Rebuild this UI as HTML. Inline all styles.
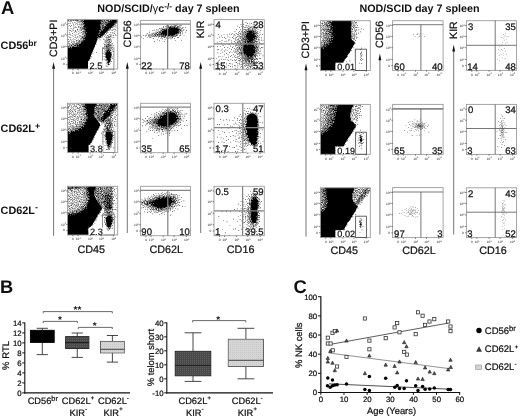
<!DOCTYPE html>
<html><head><meta charset="utf-8"><title>Figure</title>
<style>html,body{margin:0;padding:0;background:#fff;}body{width:520px;height:417px;overflow:hidden;font-family:"Liberation Sans",sans-serif;}</style></head>
<body>
<svg width="520" height="417" viewBox="0 0 520 417" text-rendering="geometricPrecision" font-family='"Liberation Sans", sans-serif' style="display:block;will-change:transform"><defs><filter id="bl" x="-5%" y="-5%" width="110%" height="110%"><feGaussianBlur stdDeviation=".5"/></filter><clipPath id="c1"><rect x="67.5" y="19.6" width="50.2" height="49.4"/></clipPath><clipPath id="c2"><rect x="67.5" y="103.3" width="50.2" height="49.1"/></clipPath><clipPath id="c3"><rect x="67.5" y="186.3" width="50.2" height="48.7"/></clipPath><clipPath id="c4"><rect x="140.6" y="20.4" width="49.8" height="48.6"/></clipPath><clipPath id="c5"><rect x="140.6" y="103.3" width="49.8" height="49.4"/></clipPath><clipPath id="c6"><rect x="140.6" y="186.3" width="49.8" height="49.4"/></clipPath><clipPath id="c7"><rect x="214" y="19.6" width="50.3" height="49.7"/></clipPath><clipPath id="c8"><rect x="214" y="103.3" width="50.3" height="49.4"/></clipPath><clipPath id="c9"><rect x="214" y="186.3" width="50.3" height="49.4"/></clipPath><clipPath id="c10"><rect x="320.4" y="20.7" width="49.9" height="49.8"/></clipPath><clipPath id="c11"><rect x="320.4" y="104.4" width="49.9" height="49.9"/></clipPath><clipPath id="c12"><rect x="320.4" y="187.8" width="49.9" height="49.7"/></clipPath><clipPath id="c13"><rect x="392.6" y="20.7" width="50.5" height="49.7"/></clipPath><clipPath id="c14"><rect x="392.6" y="104.4" width="50.5" height="50"/></clipPath><clipPath id="c15"><rect x="392.6" y="187.6" width="50.5" height="50"/></clipPath><clipPath id="c16"><rect x="466.4" y="20.7" width="50.1" height="49.7"/></clipPath><clipPath id="c17"><rect x="466.4" y="104.4" width="50.1" height="50"/></clipPath><clipPath id="c18"><rect x="466.4" y="187.8" width="50.1" height="49.8"/></clipPath><pattern id="hd" width="2" height="2" patternUnits="userSpaceOnUse"><rect width="2" height="2" fill="#4a4a4a"/><rect width="1" height="1" fill="#5e5e5e"/></pattern><pattern id="hl" width="2" height="2" patternUnits="userSpaceOnUse"><rect width="2" height="2" fill="#d6d6d6"/><rect width="1" height="1" fill="#c6c6c6"/></pattern></defs><rect width="520" height="417" fill="#fff"/><g clip-path="url(#c1)"><g filter="url(#bl)"><path fill="#000" d="M78 19h23v0.5h-23zM78 19.5h23v0.5h-23zM111 19.5h6.5v0.5h-6.5zM79.5 20h22v0.5h-22zM109.5 20h8.5v0.5h-8.5zM81.5 20.5h20.5v0.5h-20.5zM108.5 20.5h9.5v0.5h-9.5zM82.5 21h23v0.5h-23zM107.5 21h10.5v0.5h-10.5zM82.5 21.5h35v0.5h-35zM83 22h34v0.5h-34zM83 22.5h33.5v0.5h-33.5zM83 23h33v0.5h-33zM83 23.5h32.5v0.5h-32.5zM83 24h32v0.5h-32zM83 24.5h31v0.5h-31zM83.5 25h30v0.5h-30zM83.5 25.5h29.5v0.5h-29.5zM83.5 26h29v0.5h-29zM83.5 26.5h28.5v0.5h-28.5zM84 27h27.5v0.5h-27.5zM84 27.5h27v0.5h-27zM84 28h26.5v0.5h-26.5zM84 28.5h26v0.5h-26zM84.5 29h24.5v0.5h-24.5zM84.5 29.5h24v0.5h-24zM84.5 30h23.5v0.5h-23.5zM84.5 30.5h23v0.5h-23zM84.5 31h22.5v0.5h-22.5zM85 31.5h21.5v0.5h-21.5zM85 32h21v0.5h-21zM85 32.5h20.5v0.5h-20.5zM85 33h20v0.5h-20zM85 33.5h19.5v0.5h-19.5zM85 34h19v0.5h-19zM85 34.5h18.5v0.5h-18.5zM85 35h18v0.5h-18zM85 35.5h17.5v0.5h-17.5zM84.5 36h17.5v0.5h-17.5zM84.5 36.5h17v0.5h-17zM84.5 37h13.5v0.5h-13.5zM99 37h2v0.5h-2zM84 37.5h14v0.5h-14zM99.5 37.5h1v0.5h-1zM84 38h13.5v0.5h-13.5zM83.5 38.5h14v0.5h-14zM83.5 39h14v0.5h-14zM83 39.5h14.5v0.5h-14.5zM82.5 40h15v0.5h-15zM82 40.5h15v0.5h-15zM81.5 41h15.5v0.5h-15.5zM81 41.5h15.5v0.5h-15.5zM80.5 42h16v0.5h-16zM80 42.5h16v0.5h-16zM79 43h17v0.5h-17zM78 43.5h18v0.5h-18zM77.5 44h18v0.5h-18zM76 44.5h19.5v0.5h-19.5zM75 45h20v0.5h-20zM74 45.5h21v0.5h-21zM72.5 46h22.5v0.5h-22.5zM70.5 46.5h24v0.5h-24zM67.5 47h27v0.5h-27zM67 47.5h27v0.5h-27zM67 48h27v0.5h-27zM67 48.5h26.5v0.5h-26.5zM67 49h26.5v0.5h-26.5zM67 49.5h26.5v0.5h-26.5zM67 50h26v0.5h-26zM107.5 50h1.5v0.5h-1.5zM67 50.5h26v0.5h-26zM107 50.5h2.5v0.5h-2.5zM67 51h25.5v0.5h-25.5zM106.5 51h3.5v0.5h-3.5zM67 51.5h25.5v0.5h-25.5zM106 51.5h4.5v0.5h-4.5zM67 52h25.5v0.5h-25.5zM106 52h4.5v0.5h-4.5zM67 52.5h25v0.5h-25zM105.5 52.5h5.5v0.5h-5.5zM67 53h25v0.5h-25zM105.5 53h5.5v0.5h-5.5zM67 53.5h25v0.5h-25zM105.5 53.5h5.5v0.5h-5.5zM67 54h24.5v0.5h-24.5zM105.5 54h5.5v0.5h-5.5zM67 54.5h24.5v0.5h-24.5zM105.5 54.5h5.5v0.5h-5.5zM67 55h24v0.5h-24zM105.5 55h5.5v0.5h-5.5zM67 55.5h24v0.5h-24zM105.5 55.5h5.5v0.5h-5.5zM67 56h24v0.5h-24zM105.5 56h5.5v0.5h-5.5zM67 56.5h23.5v0.5h-23.5zM105.5 56.5h5.5v0.5h-5.5zM67 57h23.5v0.5h-23.5zM106 57h5v0.5h-5zM67 57.5h23v0.5h-23zM106 57.5h5v0.5h-5zM67 58h23v0.5h-23zM106 58h5v0.5h-5zM67 58.5h23v0.5h-23zM106.5 58.5h4v0.5h-4zM67 59h22.5v0.5h-22.5zM106.5 59h4v0.5h-4zM67 59.5h22.5v0.5h-22.5zM106.5 59.5h4v0.5h-4zM67 60h22v0.5h-22zM106.5 60h4v0.5h-4zM67 60.5h22v0.5h-22zM107 60.5h3v0.5h-3zM67 61h21.5v0.5h-21.5zM107 61h3v0.5h-3zM67 61.5h21.5v0.5h-21.5zM107 61.5h3v0.5h-3zM67 62h21.5v0.5h-21.5zM107.5 62h2v0.5h-2zM67 62.5h21v0.5h-21zM107.5 62.5h2v0.5h-2zM67 63h21v0.5h-21zM107.5 63h1.5v0.5h-1.5zM67 63.5h21v0.5h-21zM108 63.5h1v0.5h-1zM67 64h21v0.5h-21zM67 64.5h21v0.5h-21zM67 65h21v0.5h-21zM67 65.5h21v0.5h-21zM67 66h21v0.5h-21zM67 66.5h21v0.5h-21zM67 67h21v0.5h-21zM67 67.5h21v0.5h-21zM67 68h21v0.5h-21zM67 68.5h21v0.5h-21z"/><path fill="#000" d="M67.4 19h.7v.7h-.7zM68.7 18.8h.7v.7h-.7zM70 18.8h.7v.7h-.7zM71.3 18.9h.7v.7h-.7zM73.1 18.8h.7v.7h-.7zM73.7 18.9h.7v.7h-.7zM74.9 18.8h.7v.7h-.7zM76.3 19.1h.7v.7h-.7zM103 19h.7v.7h-.7zM110.5 19h.7v.7h-.7zM111.7 18.9h.7v.7h-.7zM113.1 18.7h.7v.7h-.7zM113.7 18.8h.7v.7h-.7zM115.6 18.7h.7v.7h-.7zM116.6 18.8h.7v.7h-.7zM117.3 19.4h.7v.7h-.7zM109 19.4h.7v.7h-.7zM107.6 19.6h.7v.7h-.7zM106.1 19.4h.7v.7h-.7zM104.9 19.6h.7v.7h-.7zM102.2 19.5h.7v.7h-.7zM100.8 19.4h.7v.7h-.7zM77.2 19.5h.7v.7h-.7zM76 19.3h.7v.7h-.7zM74.6 19.2h.7v.7h-.7zM72.9 19.4h.7v.7h-.7zM71.3 19.2h.7v.7h-.7zM70.6 19.4h.7v.7h-.7zM69.2 19.2h.7v.7h-.7zM68.1 19.3h.7v.7h-.7zM68.4 19.7h.7v.7h-.7zM70.2 20.1h.7v.7h-.7zM71.8 20h.7v.7h-.7zM75.6 19.7h.7v.7h-.7zM77 20.1h.7v.7h-.7zM78.2 19.9h.7v.7h-.7zM101.9 19.7h.7v.7h-.7zM103.6 19.8h.7v.7h-.7zM104.9 19.8h.7v.7h-.7zM106.8 19.9h.7v.7h-.7zM108.5 19.8h.7v.7h-.7zM107.8 20.3h.7v.7h-.7zM106.9 20.3h.7v.7h-.7zM106 20.2h.7v.7h-.7zM104.4 20.3h.7v.7h-.7zM103.6 20.2h.7v.7h-.7zM101.8 20.3h.7v.7h-.7zM80.7 20.4h.7v.7h-.7zM77.7 20.6h.7v.7h-.7zM76.4 20.2h.7v.7h-.7zM75.1 20.4h.7v.7h-.7zM74.6 20.3h.7v.7h-.7zM73.3 20.2h.7v.7h-.7zM73.1 20.4h.7v.7h-.7zM71.4 20.4h.7v.7h-.7zM67.8 20.6h.7v.7h-.7zM67.1 20.2h.7v.7h-.7zM68.7 20.7h.7v.7h-.7zM70.9 20.7h.7v.7h-.7zM78.8 21.1h.7v.7h-.7zM80.5 21.1h.7v.7h-.7zM81.8 20.9h.7v.7h-.7zM106.7 20.7h.7v.7h-.7zM81.4 21.3h.7v.7h-.7zM76.7 21.2h.7v.7h-.7zM69.9 21.5h.7v.7h-.7zM74.5 22.1h.7v.7h-.7zM77.7 22h.7v.7h-.7zM80.5 21.8h.7v.7h-.7zM82.1 22.1h.7v.7h-.7zM116.7 22h.7v.7h-.7zM117.5 21.9h.7v.7h-.7zM81.9 22.2h.7v.7h-.7zM79.2 22.5h.7v.7h-.7zM72.3 22.5h.7v.7h-.7zM80.8 22.9h.7v.7h-.7zM116.4 22.8h.7v.7h-.7zM115.5 23.4h.7v.7h-.7zM82 23.6h.7v.7h-.7zM76.5 23.2h.7v.7h-.7zM69.7 23.3h.7v.7h-.7zM68 23.4h.7v.7h-.7zM73.3 23.8h.7v.7h-.7zM75.2 23.7h.7v.7h-.7zM78.7 24.1h.7v.7h-.7zM81.4 23.7h.7v.7h-.7zM115.4 23.7h.7v.7h-.7zM113.9 24.2h.7v.7h-.7zM81.8 24.2h.7v.7h-.7zM79.8 24.5h.7v.7h-.7zM77.2 24.6h.7v.7h-.7zM69.3 24.9h.7v.7h-.7zM80.8 24.7h.7v.7h-.7zM113.4 25.1h.7v.7h-.7zM116.5 24.9h.7v.7h-.7zM115.3 25.4h.7v.7h-.7zM113.6 25.4h.7v.7h-.7zM82.5 25.4h.7v.7h-.7zM73.5 25.5h.7v.7h-.7zM71.3 25.3h.7v.7h-.7zM67.8 25.8h.7v.7h-.7zM81.3 25.9h.7v.7h-.7zM83.1 25.9h.7v.7h-.7zM112.6 26.1h.7v.7h-.7zM114.5 26.2h.7v.7h-.7zM112.9 26.5h.7v.7h-.7zM79.5 26.5h.7v.7h-.7zM78.1 26.2h.7v.7h-.7zM75.4 26.5h.7v.7h-.7zM70.1 26.3h.7v.7h-.7zM73.9 26.9h.7v.7h-.7zM80.2 27h.7v.7h-.7zM81.5 27h.7v.7h-.7zM82.5 26.7h.7v.7h-.7zM83.6 27h.7v.7h-.7zM111.4 26.7h.7v.7h-.7zM115.6 26.8h.7v.7h-.7zM112.3 27.3h.7v.7h-.7zM110.8 27.3h.7v.7h-.7zM83.4 27.6h.7v.7h-.7zM78.4 27.3h.7v.7h-.7zM75.7 27.3h.7v.7h-.7zM67.9 27.9h.7v.7h-.7zM70.7 28h.7v.7h-.7zM73.3 27.7h.7v.7h-.7zM82.4 27.8h.7v.7h-.7zM110.3 28.1h.7v.7h-.7zM116.9 28.3h.7v.7h-.7zM83.2 28.3h.7v.7h-.7zM81.4 28.6h.7v.7h-.7zM80.3 28.5h.7v.7h-.7zM77.3 29h.7v.7h-.7zM82.3 28.8h.7v.7h-.7zM83.9 29h.7v.7h-.7zM108.8 29.1h.7v.7h-.7zM109.9 28.8h.7v.7h-.7zM112.9 28.9h.7v.7h-.7zM113.7 28.8h.7v.7h-.7zM114.9 29h.7v.7h-.7zM82.9 29.4h.7v.7h-.7zM81.3 29.6h.7v.7h-.7zM79.5 29.5h.7v.7h-.7zM72.6 29.4h.7v.7h-.7zM68.8 30.1h.7v.7h-.7zM70.4 30.1h.7v.7h-.7zM75 30h.7v.7h-.7zM76.9 29.7h.7v.7h-.7zM83.5 29.8h.7v.7h-.7zM107.9 30.1h.7v.7h-.7zM109.2 29.8h.7v.7h-.7zM110.8 29.8h.7v.7h-.7zM112.3 29.8h.7v.7h-.7zM115.8 30.4h.7v.7h-.7zM107.5 30.2h.7v.7h-.7zM80.7 30.2h.7v.7h-.7zM72.8 30.3h.7v.7h-.7zM78.2 30.9h.7v.7h-.7zM82.4 31.1h.7v.7h-.7zM83.7 31.1h.7v.7h-.7zM106.9 31h.7v.7h-.7zM117.1 31.5h.7v.7h-.7zM114.5 31.6h.7v.7h-.7zM83 31.5h.7v.7h-.7zM75 31.2h.7v.7h-.7zM71.5 31.3h.7v.7h-.7zM67.3 31.9h.7v.7h-.7zM73.9 31.8h.7v.7h-.7zM76.2 31.7h.7v.7h-.7zM79.6 31.8h.7v.7h-.7zM82.5 31.9h.7v.7h-.7zM83.8 31.8h.7v.7h-.7zM84.6 31.8h.7v.7h-.7zM105.9 31.8h.7v.7h-.7zM107.5 32.1h.7v.7h-.7zM110.5 32h.7v.7h-.7zM112.5 32h.7v.7h-.7zM105.5 32.3h.7v.7h-.7zM81.2 32.3h.7v.7h-.7zM69.2 32.6h.7v.7h-.7zM83.4 32.8h.7v.7h-.7zM84.5 33h.7v.7h-.7zM106.2 33h.7v.7h-.7zM114.3 33.1h.7v.7h-.7zM117 33h.7v.7h-.7zM112.6 33.4h.7v.7h-.7zM104.3 33.5h.7v.7h-.7zM82.2 33.4h.7v.7h-.7zM79.7 33.4h.7v.7h-.7zM78.1 33.5h.7v.7h-.7zM72.2 33.2h.7v.7h-.7zM68.8 34h.7v.7h-.7zM76.5 33.9h.7v.7h-.7zM81.8 34h.7v.7h-.7zM83.4 33.7h.7v.7h-.7zM84.1 33.9h.7v.7h-.7zM104.4 33.8h.7v.7h-.7zM110.5 33.9h.7v.7h-.7zM115 34.5h.7v.7h-.7zM109.4 34.2h.7v.7h-.7zM105.2 34.6h.7v.7h-.7zM103.4 34.3h.7v.7h-.7zM74.6 34.5h.7v.7h-.7zM70.1 34.6h.7v.7h-.7zM67.4 34.5h.7v.7h-.7zM80.4 34.9h.7v.7h-.7zM82.7 34.8h.7v.7h-.7zM84.3 35.1h.7v.7h-.7zM103.5 34.9h.7v.7h-.7zM106.9 35.1h.7v.7h-.7zM111.5 34.7h.7v.7h-.7zM115.8 34.9h.7v.7h-.7zM113.1 35.3h.7v.7h-.7zM110.2 35.6h.7v.7h-.7zM107.9 35.4h.7v.7h-.7zM102.5 35.5h.7v.7h-.7zM84 35.5h.7v.7h-.7zM78.9 35.2h.7v.7h-.7zM75.2 35.6h.7v.7h-.7zM71.8 35.3h.7v.7h-.7zM72.8 35.9h.7v.7h-.7zM77.1 35.9h.7v.7h-.7zM80.1 35.9h.7v.7h-.7zM81.3 35.9h.7v.7h-.7zM82.6 36h.7v.7h-.7zM84 36h.7v.7h-.7zM104.3 35.9h.7v.7h-.7zM106 35.9h.7v.7h-.7zM108.7 35.9h.7v.7h-.7zM110.8 35.9h.7v.7h-.7zM109.7 36.2h.7v.7h-.7zM108.1 36.6h.7v.7h-.7zM102 36.5h.7v.7h-.7zM83.2 36.5h.7v.7h-.7zM67.6 36.5h.7v.7h-.7zM69 36.8h.7v.7h-.7zM70.5 37h.7v.7h-.7zM78.8 36.8h.7v.7h-.7zM82.3 36.7h.7v.7h-.7zM98.4 37h.7v.7h-.7zM100.9 36.8h.7v.7h-.7zM106.6 37.1h.7v.7h-.7zM108.3 36.7h.7v.7h-.7zM113.5 37h.7v.7h-.7zM111.7 37.4h.7v.7h-.7zM109.3 37.2h.7v.7h-.7zM106.8 37.5h.7v.7h-.7zM105 37.4h.7v.7h-.7zM100.4 37.4h.7v.7h-.7zM83.3 37.6h.7v.7h-.7zM82 37.2h.7v.7h-.7zM81.1 37.5h.7v.7h-.7zM77.4 37.4h.7v.7h-.7zM74.8 37.2h.7v.7h-.7zM73.1 37.9h.7v.7h-.7zM76.4 37.7h.7v.7h-.7zM82.5 38h.7v.7h-.7zM83.2 38h.7v.7h-.7zM98 37.7h.7v.7h-.7zM99.1 37.8h.7v.7h-.7zM105.9 37.9h.7v.7h-.7zM107.8 37.7h.7v.7h-.7zM110.2 37.8h.7v.7h-.7zM81.1 38.4h.7v.7h-.7zM80.1 38.5h.7v.7h-.7zM68.3 39h.7v.7h-.7zM69.9 38.8h.7v.7h-.7zM72.5 38.9h.7v.7h-.7zM81.7 38.9h.7v.7h-.7zM82.9 39h.7v.7h-.7zM103.1 38.8h.7v.7h-.7zM104.4 38.9h.7v.7h-.7zM108 39.1h.7v.7h-.7zM109.5 39h.7v.7h-.7zM110.2 38.9h.7v.7h-.7zM108.8 39.2h.7v.7h-.7zM107.3 39.6h.7v.7h-.7zM106 39.4h.7v.7h-.7zM99.7 39.5h.7v.7h-.7zM80.7 39.4h.7v.7h-.7zM78.3 39.4h.7v.7h-.7zM74.6 39.2h.7v.7h-.7zM70.8 39.7h.7v.7h-.7zM75.9 40h.7v.7h-.7zM79 40h.7v.7h-.7zM81.9 40h.7v.7h-.7zM106.5 39.9h.7v.7h-.7zM109.8 39.9h.7v.7h-.7zM111.4 39.8h.7v.7h-.7zM108.5 40.5h.7v.7h-.7zM106.8 40.3h.7v.7h-.7zM104.8 40.2h.7v.7h-.7zM81.4 40.6h.7v.7h-.7zM80.5 40.6h.7v.7h-.7zM77.5 40.2h.7v.7h-.7zM69.3 40.8h.7v.7h-.7zM73 40.7h.7v.7h-.7zM74.3 40.9h.7v.7h-.7zM76.3 40.7h.7v.7h-.7zM78.8 40.8h.7v.7h-.7zM109.1 40.7h.7v.7h-.7zM111.3 41.4h.7v.7h-.7zM109.3 41.4h.7v.7h-.7zM107.6 41.5h.7v.7h-.7zM106.4 41.3h.7v.7h-.7zM104.7 41.2h.7v.7h-.7zM80.5 41.4h.7v.7h-.7zM79.5 41.5h.7v.7h-.7zM77.9 41.5h.7v.7h-.7zM71.7 41.3h.7v.7h-.7zM68 41.2h.7v.7h-.7zM77.1 41.9h.7v.7h-.7zM79 41.8h.7v.7h-.7zM107.6 42h.7v.7h-.7zM108.6 41.9h.7v.7h-.7zM110.2 41.7h.7v.7h-.7zM109.9 42.4h.7v.7h-.7zM107.6 42.3h.7v.7h-.7zM105.7 42.3h.7v.7h-.7zM104.7 42.4h.7v.7h-.7zM95.7 42.5h.7v.7h-.7zM78.5 42.6h.7v.7h-.7zM76 42.5h.7v.7h-.7zM73.8 42.3h.7v.7h-.7zM70.9 42.3h.7v.7h-.7zM68.3 42.8h.7v.7h-.7zM69.4 43h.7v.7h-.7zM72.9 42.8h.7v.7h-.7zM74.7 42.9h.7v.7h-.7zM77.5 42.8h.7v.7h-.7zM108.6 42.7h.7v.7h-.7zM108.9 42.7h.7v.7h-.7zM111.5 42.8h.7v.7h-.7zM112.3 43.5h.7v.7h-.7zM107.8 43.5h.7v.7h-.7zM106.2 43.4h.7v.7h-.7zM103.6 43.4h.7v.7h-.7zM76.7 43.3h.7v.7h-.7zM76.5 43.2h.7v.7h-.7zM74.9 43.4h.7v.7h-.7zM71.9 43.2h.7v.7h-.7zM67.4 43.6h.7v.7h-.7zM70.6 44h.7v.7h-.7zM73.3 44.1h.7v.7h-.7zM74.6 43.7h.7v.7h-.7zM75.9 43.7h.7v.7h-.7zM104.3 44.1h.7v.7h-.7zM105.7 44.1h.7v.7h-.7zM108.1 44.1h.7v.7h-.7zM109.4 43.7h.7v.7h-.7zM110 43.9h.7v.7h-.7zM110.8 43.9h.7v.7h-.7zM108.4 44.5h.7v.7h-.7zM107.1 44.3h.7v.7h-.7zM105.6 44.2h.7v.7h-.7zM95.6 44.3h.7v.7h-.7zM74.8 44.5h.7v.7h-.7zM72.5 44.3h.7v.7h-.7zM68.8 44.3h.7v.7h-.7zM67.2 45.1h.7v.7h-.7zM69.3 44.9h.7v.7h-.7zM71.1 45h.7v.7h-.7zM71.7 44.8h.7v.7h-.7zM73.9 45.1h.7v.7h-.7zM106.3 45h.7v.7h-.7zM107.6 44.9h.7v.7h-.7zM109.1 44.8h.7v.7h-.7zM109.9 44.9h.7v.7h-.7zM112.9 45.2h.7v.7h-.7zM111.4 45.6h.7v.7h-.7zM110.5 45.3h.7v.7h-.7zM108.4 45.4h.7v.7h-.7zM106.9 45.5h.7v.7h-.7zM104.7 45.3h.7v.7h-.7zM73.5 45.2h.7v.7h-.7zM71.3 45.2h.7v.7h-.7zM70.5 45.4h.7v.7h-.7zM68.6 45.4h.7v.7h-.7zM66.9 45.9h.7v.7h-.7zM68.9 46h.7v.7h-.7zM71.7 46h.7v.7h-.7zM104.1 46.1h.7v.7h-.7zM106.1 45.9h.7v.7h-.7zM107.2 46.1h.7v.7h-.7zM108.3 46.1h.7v.7h-.7zM109.3 45.7h.7v.7h-.7zM110.2 46.5h.7v.7h-.7zM106.2 46.4h.7v.7h-.7zM105.5 46.2h.7v.7h-.7zM94.4 46.5h.7v.7h-.7zM69.9 46.6h.7v.7h-.7zM68.3 46.3h.7v.7h-.7zM67.5 46.6h.7v.7h-.7zM106.7 46.9h.7v.7h-.7zM107.3 47.1h.7v.7h-.7zM108.2 46.8h.7v.7h-.7zM109.6 46.8h.7v.7h-.7zM112.1 46.8h.7v.7h-.7zM111 47.3h.7v.7h-.7zM109.3 47.6h.7v.7h-.7zM107.3 47.4h.7v.7h-.7zM106 47.3h.7v.7h-.7zM103.3 48h.7v.7h-.7zM104.5 48h.7v.7h-.7zM106.6 47.7h.7v.7h-.7zM107.8 47.9h.7v.7h-.7zM108.6 47.7h.7v.7h-.7zM108.9 47.8h.7v.7h-.7zM109.7 48.1h.7v.7h-.7zM110.9 48.2h.7v.7h-.7zM107.5 48.5h.7v.7h-.7zM106.6 48.5h.7v.7h-.7zM105.6 48.5h.7v.7h-.7zM93.4 48.5h.7v.7h-.7zM105.8 49h.7v.7h-.7zM107.9 48.8h.7v.7h-.7zM109.3 49h.7v.7h-.7zM111.8 49.1h.7v.7h-.7zM110.2 49.6h.7v.7h-.7zM108.2 49.5h.7v.7h-.7zM107.5 49.4h.7v.7h-.7zM104.4 49.6h.7v.7h-.7zM102 49.6h.7v.7h-.7zM105.9 50h.7v.7h-.7zM106.8 50h.7v.7h-.7zM109.6 49.8h.7v.7h-.7zM110.6 50.2h.7v.7h-.7zM109.6 50.3h.7v.7h-.7zM105.2 50.4h.7v.7h-.7zM92.4 51.1h.7v.7h-.7zM111.9 50.8h.7v.7h-.7zM113.2 51h.7v.7h-.7zM104.7 51.4h.7v.7h-.7zM96 52h.7v.7h-.7zM103.8 51.7h.7v.7h-.7zM105.6 51.8h.7v.7h-.7zM110.3 51.7h.7v.7h-.7zM111 52.1h.7v.7h-.7zM92.5 52.9h.7v.7h-.7zM105 52.8h.7v.7h-.7zM111.3 52.9h.7v.7h-.7zM102.8 53.4h.7v.7h-.7zM104.3 53.7h.7v.7h-.7zM110.9 53.9h.7v.7h-.7zM113 54.5h.7v.7h-.7zM111.3 54.5h.7v.7h-.7zM105 54.4h.7v.7h-.7zM111.1 54.8h.7v.7h-.7zM103.7 56.1h.7v.7h-.7zM110.8 55.7h.7v.7h-.7zM111.8 56.5h.7v.7h-.7zM105.1 56.3h.7v.7h-.7zM91 56.5h.7v.7h-.7zM110.9 57.4h.7v.7h-.7zM105.2 57.3h.7v.7h-.7zM89.8 58.1h.7v.7h-.7zM111.9 58.3h.7v.7h-.7zM110.3 58.6h.7v.7h-.7zM106 58.5h.7v.7h-.7zM103.8 58.7h.7v.7h-.7zM105.8 59h.7v.7h-.7zM110.4 59.3h.7v.7h-.7zM88.7 60.1h.7v.7h-.7zM105.3 59.7h.7v.7h-.7zM110.1 60.4h.7v.7h-.7zM105.9 60.6h.7v.7h-.7zM110 60.8h.7v.7h-.7zM110.9 61.1h.7v.7h-.7zM107.1 62h.7v.7h-.7zM109.3 61.8h.7v.7h-.7zM88.6 62.2h.7v.7h-.7zM88.1 63h.7v.7h-.7zM106.3 62.7h.7v.7h-.7zM109.8 62.7h.7v.7h-.7zM106.9 63.7h.7v.7h-.7zM108 64h.7v.7h-.7zM108.7 64.1h.7v.7h-.7zM109.1 64.4h.7v.7h-.7zM107.9 64.5h.7v.7h-.7zM105.7 65.5h.7v.7h-.7zM88.1 66h.7v.7h-.7zM106.7 66.1h.7v.7h-.7zM89.8 67h.7v.7h-.7zM88.2 67.7h.7v.7h-.7z"/><path fill="#fff" d="M81.3 19.3h.7v.7h-.7zM79.4 19.4h.7v.7h-.7zM78.5 19.5h.7v.7h-.7zM79.5 19.9h.7v.7h-.7zM80.6 20.1h.7v.7h-.7zM83.3 20h.7v.7h-.7zM109.3 20h.7v.7h-.7zM111 19.9h.7v.7h-.7zM116.6 20.3h.7v.7h-.7zM109.1 20.6h.7v.7h-.7zM82.4 20.5h.7v.7h-.7zM100.7 21h.7v.7h-.7zM103.2 21h.7v.7h-.7zM104.9 20.7h.7v.7h-.7zM107.5 21.3h.7v.7h-.7zM106.4 21.2h.7v.7h-.7zM104 21.6h.7v.7h-.7zM101.7 21.4h.7v.7h-.7zM83.3 22h.7v.7h-.7zM102.3 21.9h.7v.7h-.7zM104.3 21.9h.7v.7h-.7zM105.6 21.9h.7v.7h-.7zM108.7 22.1h.7v.7h-.7zM115.8 21.8h.7v.7h-.7zM107.4 22.2h.7v.7h-.7zM103.5 22.3h.7v.7h-.7zM101.8 22.4h.7v.7h-.7zM100.9 22.3h.7v.7h-.7zM82.7 22.7h.7v.7h-.7zM103.7 22.7h.7v.7h-.7zM105.7 22.8h.7v.7h-.7zM114.6 23.2h.7v.7h-.7zM107.4 23.4h.7v.7h-.7zM104.7 23.2h.7v.7h-.7zM102.8 23.3h.7v.7h-.7zM101.6 23.5h.7v.7h-.7zM82.8 23.9h.7v.7h-.7zM100.8 23.7h.7v.7h-.7zM103.8 24.1h.7v.7h-.7zM104.7 23.7h.7v.7h-.7zM105.8 23.8h.7v.7h-.7zM102.7 24.3h.7v.7h-.7zM101.9 24.6h.7v.7h-.7zM100 24.5h.7v.7h-.7zM84 24.5h.7v.7h-.7zM83.3 24.7h.7v.7h-.7zM101.3 25h.7v.7h-.7zM104 24.7h.7v.7h-.7zM105.3 25.1h.7v.7h-.7zM104.3 25.3h.7v.7h-.7zM102.8 25.4h.7v.7h-.7zM99.9 25.4h.7v.7h-.7zM101.1 26h.7v.7h-.7zM101.8 25.9h.7v.7h-.7zM106.5 25.9h.7v.7h-.7zM104.1 26.4h.7v.7h-.7zM102.9 26.3h.7v.7h-.7zM100 26.4h.7v.7h-.7zM84.6 26.9h.7v.7h-.7zM101 26.9h.7v.7h-.7zM103.7 27.5h.7v.7h-.7zM101.9 27.6h.7v.7h-.7zM99.9 27.8h.7v.7h-.7zM101.3 27.7h.7v.7h-.7zM103.1 28h.7v.7h-.7zM109 28.6h.7v.7h-.7zM100.8 28.5h.7v.7h-.7zM84.9 28.4h.7v.7h-.7zM102.3 28.9h.7v.7h-.7zM101.1 29.5h.7v.7h-.7zM99.4 30h.7v.7h-.7zM102.1 29.8h.7v.7h-.7zM99.9 30.6h.7v.7h-.7zM84.9 30.6h.7v.7h-.7zM84.6 30.4h.7v.7h-.7zM100.3 30.7h.7v.7h-.7zM99.1 31.8h.7v.7h-.7zM85.9 32.2h.7v.7h-.7zM99.5 33.2h.7v.7h-.7zM98.4 33.5h.7v.7h-.7zM84.8 33.7h.7v.7h-.7zM85.2 34.8h.7v.7h-.7zM99.1 35.3h.7v.7h-.7zM84.8 35.9h.7v.7h-.7zM101.4 36h.7v.7h-.7zM97.2 36.4h.7v.7h-.7zM84.3 36.9h.7v.7h-.7zM99.6 37.6h.7v.7h-.7zM84.4 39h.7v.7h-.7zM82.7 39.5h.7v.7h-.7zM96.9 40h.7v.7h-.7zM82.5 40.6h.7v.7h-.7zM81.5 41.4h.7v.7h-.7zM80.4 42.1h.7v.7h-.7zM80 42.7h.7v.7h-.7zM79.2 43.3h.7v.7h-.7zM78.1 44h.7v.7h-.7zM76 45h.7v.7h-.7zM72.6 45.8h.7v.7h-.7zM74.8 46.1h.7v.7h-.7zM77.9 45.8h.7v.7h-.7zM75.8 46.2h.7v.7h-.7zM73.9 46.3h.7v.7h-.7zM71.1 46.5h.7v.7h-.7zM71.2 47.5h.7v.7h-.7zM69.2 47.3h.7v.7h-.7zM68.1 47.4h.7v.7h-.7zM108.3 50.9h.7v.7h-.7zM110 51.3h.7v.7h-.7zM105.8 51.6h.7v.7h-.7zM91.3 53.4h.7v.7h-.7zM105.2 55.6h.7v.7h-.7zM105.8 58h.7v.7h-.7zM109.9 57.8h.7v.7h-.7zM107.1 60h.7v.7h-.7zM107 61.3h.7v.7h-.7zM108.9 62.5h.7v.7h-.7zM107.8 62.9h.7v.7h-.7z"/></g></g>
<rect x="67.5" y="19.6" width="50.2" height="49.4" fill="none" stroke="#9c9c9c" stroke-width="0.9"/>
<g fill="#222" font-size="3.2"><text x="60.9" y="25.69">10<tspan dy="-1.2" font-size="2.4">4</tspan></text><rect x="66.2" y="23.94" width="1.3" height=".7" opacity=".8"/><text x="60.9" y="36.56">10<tspan dy="-1.2" font-size="2.4">3</tspan></text><rect x="66.2" y="34.81" width="1.3" height=".7" opacity=".8"/><text x="60.9" y="47.92">10<tspan dy="-1.2" font-size="2.4">2</tspan></text><rect x="66.2" y="46.17" width="1.3" height=".7" opacity=".8"/><text x="60.9" y="59.53">10<tspan dy="-1.2" font-size="2.4">1</tspan></text><rect x="66.2" y="57.78" width="1.3" height=".7" opacity=".8"/><text x="63.1" y="65.31">0</text><rect x="66.2" y="63.96" width="1.3" height=".7" opacity=".8"/><text x="75.84" y="74.2">10<tspan dy="-1.2" font-size="2.4">1</tspan></text><rect x="77.69" y="69" width=".7" height="1.3" opacity=".8"/><text x="87.99" y="74.2">10<tspan dy="-1.2" font-size="2.4">2</tspan></text><rect x="89.84" y="69" width=".7" height="1.3" opacity=".8"/><text x="99.03" y="74.2">10<tspan dy="-1.2" font-size="2.4">3</tspan></text><rect x="100.88" y="69" width=".7" height="1.3" opacity=".8"/><text x="111.23" y="74.2">10<tspan dy="-1.2" font-size="2.4">4</tspan></text><rect x="113.08" y="69" width=".7" height="1.3" opacity=".8"/><text x="72.12" y="74.2">0</text><rect x="72.57" y="69" width=".7" height="1.3" opacity=".8"/></g>
<rect x="102.5" y="47.8" width="11.4" height="21.4" fill="none" stroke="#888" stroke-width="0.9"/>
<rect x="88.2" y="60.8" width="14.6" height="8.2" fill="#fff"/>
<text x="89.5" y="68.7" font-size="9.3" text-anchor="start" fill="#111" stroke="#111" stroke-width=".2">2.5</text>
<g clip-path="url(#c2)"><g filter="url(#bl)"><path fill="#000" d="M84 103h12v0.5h-12zM111 103h6v0.5h-6zM84 103.5h12v0.5h-12zM110.5 103.5h7v0.5h-7zM84 104h12v0.5h-12zM110 104h7.5v0.5h-7.5zM84 104.5h12v0.5h-12zM109.5 104.5h7.5v0.5h-7.5zM84 105h12v0.5h-12zM109.5 105h7.5v0.5h-7.5zM84 105.5h11.5v0.5h-11.5zM109 105.5h8v0.5h-8zM84 106h11.5v0.5h-11.5zM109 106h7.5v0.5h-7.5zM84 106.5h11.5v0.5h-11.5zM108.5 106.5h7.5v0.5h-7.5zM84.5 107h10.5v0.5h-10.5zM108 107h8v0.5h-8zM84.5 107.5h10.5v0.5h-10.5zM108 107.5h7.5v0.5h-7.5zM84.5 108h10.5v0.5h-10.5zM107.5 108h7.5v0.5h-7.5zM84.5 108.5h10v0.5h-10zM107 108.5h7.5v0.5h-7.5zM85 109h9.5v0.5h-9.5zM107 109h7v0.5h-7zM85 109.5h9.5v0.5h-9.5zM106.5 109.5h7.5v0.5h-7.5zM85 110h9v0.5h-9zM106 110h7.5v0.5h-7.5zM85 110.5h9v0.5h-9zM105.5 110.5h7.5v0.5h-7.5zM85.5 111h8.5v0.5h-8.5zM105 111h7.5v0.5h-7.5zM85.5 111.5h8.5v0.5h-8.5zM105 111.5h7v0.5h-7zM85.5 112h8.5v0.5h-8.5zM104.5 112h7.5v0.5h-7.5zM85.5 112.5h8.5v0.5h-8.5zM104 112.5h7.5v0.5h-7.5zM86 113h8v0.5h-8zM103.5 113h8v0.5h-8zM86 113.5h8v0.5h-8zM103.5 113.5h8v0.5h-8zM86 114h8v0.5h-8zM103 114h8v0.5h-8zM86 114.5h8v0.5h-8zM103 114.5h8v0.5h-8zM86 115h8.5v0.5h-8.5zM102.5 115h8v0.5h-8zM86 115.5h8.5v0.5h-8.5zM102 115.5h8v0.5h-8zM86 116h9v0.5h-9zM102 116h7.5v0.5h-7.5zM86 116.5h9v0.5h-9zM101.5 116.5h7.5v0.5h-7.5zM86 117h9.5v0.5h-9.5zM101 117h8v0.5h-8zM86 117.5h9.5v0.5h-9.5zM101 117.5h7.5v0.5h-7.5zM86 118h10v0.5h-10zM100.5 118h7.5v0.5h-7.5zM86 118.5h10.5v0.5h-10.5zM100 118.5h7.5v0.5h-7.5zM86 119h10.5v0.5h-10.5zM99.5 119h7v0.5h-7zM85.5 119.5h11.5v0.5h-11.5zM99.5 119.5h6.5v0.5h-6.5zM85.5 120h11.5v0.5h-11.5zM99.5 120h6v0.5h-6zM85.5 120.5h12v0.5h-12zM100 120.5h4.5v0.5h-4.5zM85 121h13v0.5h-13zM100.5 121h3.5v0.5h-3.5zM85 121.5h13v0.5h-13zM101 121.5h2.5v0.5h-2.5zM84.5 122h14v0.5h-14zM84.5 122.5h14.5v0.5h-14.5zM84 123h15.5v0.5h-15.5zM83.5 123.5h16.5v0.5h-16.5zM83.5 124h16.5v0.5h-16.5zM83 124.5h17v0.5h-17zM82.5 125h17.5v0.5h-17.5zM82 125.5h18v0.5h-18zM81.5 126h18v0.5h-18zM81 126.5h18.5v0.5h-18.5zM80.5 127h19v0.5h-19zM107.5 127h2v0.5h-2zM79.5 127.5h19.5v0.5h-19.5zM107 127.5h3v0.5h-3zM79 128h19.5v0.5h-19.5zM107 128h3v0.5h-3zM78 128.5h20.5v0.5h-20.5zM106.5 128.5h3.5v0.5h-3.5zM77 129h21v0.5h-21zM106.5 129h4v0.5h-4zM76 129.5h22v0.5h-22zM106.5 129.5h4v0.5h-4zM74.5 130h23v0.5h-23zM106.5 130h4.5v0.5h-4.5zM72.5 130.5h24.5v0.5h-24.5zM106.5 130.5h4.5v0.5h-4.5zM70.5 131h26.5v0.5h-26.5zM106 131h5.5v0.5h-5.5zM68 131.5h28.5v0.5h-28.5zM106 131.5h5.5v0.5h-5.5zM67 132h29.5v0.5h-29.5zM106 132h5.5v0.5h-5.5zM67 132.5h29v0.5h-29zM106 132.5h6v0.5h-6zM67 133h29v0.5h-29zM105.5 133h6.5v0.5h-6.5zM67 133.5h28.5v0.5h-28.5zM105.5 133.5h7v0.5h-7zM67 134h28.5v0.5h-28.5zM105.5 134h7v0.5h-7zM67 134.5h28v0.5h-28zM105.5 134.5h7v0.5h-7zM67 135h28v0.5h-28zM105.5 135h7v0.5h-7zM67 135.5h27.5v0.5h-27.5zM105.5 135.5h7v0.5h-7zM67 136h27.5v0.5h-27.5zM105.5 136h7v0.5h-7zM67 136.5h27v0.5h-27zM105.5 136.5h7v0.5h-7zM67 137h27v0.5h-27zM105.5 137h7v0.5h-7zM67 137.5h26.5v0.5h-26.5zM105.5 137.5h7v0.5h-7zM67 138h26.5v0.5h-26.5zM105.5 138h7v0.5h-7zM67 138.5h26v0.5h-26zM106 138.5h6v0.5h-6zM67 139h26v0.5h-26zM106 139h6v0.5h-6zM67 139.5h25.5v0.5h-25.5zM106 139.5h6v0.5h-6zM67 140h25.5v0.5h-25.5zM106 140h6v0.5h-6zM67 140.5h25v0.5h-25zM106.5 140.5h5.5v0.5h-5.5zM67 141h25v0.5h-25zM106.5 141h5v0.5h-5zM67 141.5h24.5v0.5h-24.5zM106.5 141.5h5v0.5h-5zM67 142h24.5v0.5h-24.5zM106.5 142h5v0.5h-5zM67 142.5h24v0.5h-24zM106.5 142.5h5v0.5h-5zM67 143h23.5v0.5h-23.5zM107 143h4v0.5h-4zM67 143.5h23.5v0.5h-23.5zM107 143.5h4v0.5h-4zM67 144h23v0.5h-23zM107 144h4v0.5h-4zM67 144.5h23v0.5h-23zM107 144.5h3.5v0.5h-3.5zM67 145h22.5v0.5h-22.5zM107.5 145h3v0.5h-3zM67 145.5h22.5v0.5h-22.5zM107.5 145.5h3v0.5h-3zM67 146h22.5v0.5h-22.5zM107.5 146h2.5v0.5h-2.5zM67 146.5h22v0.5h-22zM107.5 146.5h2.5v0.5h-2.5zM67 147h22v0.5h-22zM108 147h1.5v0.5h-1.5zM67 147.5h22v0.5h-22zM108 147.5h1.5v0.5h-1.5zM67 148h22v0.5h-22zM108.5 148h0.5v0.5h-0.5zM67 148.5h22v0.5h-22zM67 149h22v0.5h-22zM67 149.5h22v0.5h-22zM67 150h22v0.5h-22zM67 150.5h22v0.5h-22zM67 151h22v0.5h-22zM67 151.5h22v0.5h-22zM67 152h21.5v0.5h-21.5zM67 152.5h21.5v0.5h-21.5z"/><path fill="#000" d="M97.2 103h.7v.7h-.7zM101.3 103h.7v.7h-.7zM105.9 103h.7v.7h-.7zM109.5 102.9h.7v.7h-.7zM116.7 102.9h.7v.7h-.7zM109.8 103.3h.7v.7h-.7zM108.5 103.4h.7v.7h-.7zM105.5 103.3h.7v.7h-.7zM102.2 103.5h.7v.7h-.7zM100.5 103.3h.7v.7h-.7zM99 103.5h.7v.7h-.7zM95.9 103.5h.7v.7h-.7zM82.9 103.5h.7v.7h-.7zM81.7 103.2h.7v.7h-.7zM80.2 103.4h.7v.7h-.7zM76.5 103.6h.7v.7h-.7zM67.6 104h.7v.7h-.7zM69.9 103.7h.7v.7h-.7zM72.8 103.9h.7v.7h-.7zM77.6 104h.7v.7h-.7zM79.5 103.7h.7v.7h-.7zM81.5 104.1h.7v.7h-.7zM82.5 104.1h.7v.7h-.7zM83.6 104h.7v.7h-.7zM96.5 103.8h.7v.7h-.7zM97.8 103.7h.7v.7h-.7zM100.1 103.9h.7v.7h-.7zM101.8 104.1h.7v.7h-.7zM103.3 103.7h.7v.7h-.7zM104.5 104.1h.7v.7h-.7zM106.3 103.9h.7v.7h-.7zM106.9 103.7h.7v.7h-.7zM107.8 103.7h.7v.7h-.7zM116.7 104.3h.7v.7h-.7zM105.7 104.4h.7v.7h-.7zM105.1 104.5h.7v.7h-.7zM103 104.6h.7v.7h-.7zM100.8 104.5h.7v.7h-.7zM99 104.2h.7v.7h-.7zM95.8 104.3h.7v.7h-.7zM78.2 104.4h.7v.7h-.7zM74.3 104.5h.7v.7h-.7zM71.8 104.4h.7v.7h-.7zM69 104.5h.7v.7h-.7zM70.8 104.9h.7v.7h-.7zM75.8 104.8h.7v.7h-.7zM80.8 104.8h.7v.7h-.7zM83.6 104.9h.7v.7h-.7zM96.3 105h.7v.7h-.7zM97 105.1h.7v.7h-.7zM98 105h.7v.7h-.7zM99.3 105.1h.7v.7h-.7zM100.7 105h.7v.7h-.7zM102.6 105h.7v.7h-.7zM103.9 105h.7v.7h-.7zM107.1 104.7h.7v.7h-.7zM107.7 104.9h.7v.7h-.7zM108.4 104.7h.7v.7h-.7zM116.8 105h.7v.7h-.7zM106.2 105.4h.7v.7h-.7zM105.4 105.6h.7v.7h-.7zM104.4 105.4h.7v.7h-.7zM101.3 105.3h.7v.7h-.7zM100 105.4h.7v.7h-.7zM99.1 105.4h.7v.7h-.7zM97.4 105.5h.7v.7h-.7zM95.5 105.4h.7v.7h-.7zM82.9 105.6h.7v.7h-.7zM81.8 105.5h.7v.7h-.7zM78.9 105.3h.7v.7h-.7zM73.9 105.5h.7v.7h-.7zM68 106.1h.7v.7h-.7zM69.4 105.7h.7v.7h-.7zM73.5 106.1h.7v.7h-.7zM80 105.8h.7v.7h-.7zM83.2 106h.7v.7h-.7zM96.3 105.8h.7v.7h-.7zM98.1 106h.7v.7h-.7zM101 105.8h.7v.7h-.7zM101.8 105.8h.7v.7h-.7zM102.9 106.1h.7v.7h-.7zM107.8 105.8h.7v.7h-.7zM117.3 105.8h.7v.7h-.7zM116.8 106.4h.7v.7h-.7zM107.4 106.3h.7v.7h-.7zM107 106.3h.7v.7h-.7zM105.8 106.5h.7v.7h-.7zM104.9 106.2h.7v.7h-.7zM103.9 106.3h.7v.7h-.7zM100.4 106.3h.7v.7h-.7zM95.4 106.3h.7v.7h-.7zM82.9 106.4h.7v.7h-.7zM82 106.2h.7v.7h-.7zM76.3 106.3h.7v.7h-.7zM75.2 106.5h.7v.7h-.7zM71.3 106.4h.7v.7h-.7zM70.8 106.9h.7v.7h-.7zM72.4 106.9h.7v.7h-.7zM77.3 107.1h.7v.7h-.7zM79.8 106.8h.7v.7h-.7zM80.7 106.9h.7v.7h-.7zM96.1 107h.7v.7h-.7zM96.7 107h.7v.7h-.7zM97.2 106.9h.7v.7h-.7zM98.2 107h.7v.7h-.7zM99.3 106.8h.7v.7h-.7zM101.6 106.8h.7v.7h-.7zM102.4 106.9h.7v.7h-.7zM104.1 107h.7v.7h-.7zM106.6 106.7h.7v.7h-.7zM115.8 106.7h.7v.7h-.7zM117.3 107.2h.7v.7h-.7zM106 107.5h.7v.7h-.7zM103.4 107.2h.7v.7h-.7zM101 107.3h.7v.7h-.7zM100.1 107.5h.7v.7h-.7zM96.5 107.3h.7v.7h-.7zM83.9 107.2h.7v.7h-.7zM82.8 107.6h.7v.7h-.7zM79 107.6h.7v.7h-.7zM68.3 107.3h.7v.7h-.7zM73.3 107.8h.7v.7h-.7zM75.7 107.9h.7v.7h-.7zM78.5 108h.7v.7h-.7zM82.6 107.8h.7v.7h-.7zM83.6 107.7h.7v.7h-.7zM95.5 107.8h.7v.7h-.7zM98 108h.7v.7h-.7zM99 108h.7v.7h-.7zM102 107.9h.7v.7h-.7zM102.7 108h.7v.7h-.7zM104.6 108.1h.7v.7h-.7zM105.5 107.8h.7v.7h-.7zM106.9 107.8h.7v.7h-.7zM115.5 107.7h.7v.7h-.7zM115.9 107.7h.7v.7h-.7zM116.6 108.5h.7v.7h-.7zM114.6 108.3h.7v.7h-.7zM104.3 108.6h.7v.7h-.7zM101.2 108.5h.7v.7h-.7zM100.1 108.2h.7v.7h-.7zM98.8 108.6h.7v.7h-.7zM97.3 108.3h.7v.7h-.7zM96.3 108.5h.7v.7h-.7zM95.4 108.4h.7v.7h-.7zM94.5 108.2h.7v.7h-.7zM81.2 108.5h.7v.7h-.7zM77.4 108.2h.7v.7h-.7zM71.1 108.4h.7v.7h-.7zM68.4 108.4h.7v.7h-.7zM66.9 108.5h.7v.7h-.7zM70.1 109h.7v.7h-.7zM72.7 109.1h.7v.7h-.7zM74.4 108.9h.7v.7h-.7zM79.6 108.7h.7v.7h-.7zM82.5 108.9h.7v.7h-.7zM84 109.1h.7v.7h-.7zM98.1 108.9h.7v.7h-.7zM100.5 109h.7v.7h-.7zM102 109h.7v.7h-.7zM103 108.8h.7v.7h-.7zM104.5 108.8h.7v.7h-.7zM105.9 108.7h.7v.7h-.7zM114 108.9h.7v.7h-.7zM117.1 109.4h.7v.7h-.7zM115 109.2h.7v.7h-.7zM105.5 109.5h.7v.7h-.7zM103.8 109.2h.7v.7h-.7zM102.5 109.2h.7v.7h-.7zM100.9 109.6h.7v.7h-.7zM99.2 109.5h.7v.7h-.7zM97.5 109.2h.7v.7h-.7zM96.5 109.6h.7v.7h-.7zM95.6 109.2h.7v.7h-.7zM84.6 109.3h.7v.7h-.7zM82.9 109.2h.7v.7h-.7zM80.8 109.4h.7v.7h-.7zM75.2 109.4h.7v.7h-.7zM69.5 110h.7v.7h-.7zM71.3 109.9h.7v.7h-.7zM79.2 109.8h.7v.7h-.7zM81.8 109.9h.7v.7h-.7zM93.8 109.9h.7v.7h-.7zM94.3 110h.7v.7h-.7zM95.8 109.9h.7v.7h-.7zM98.2 109.7h.7v.7h-.7zM99.4 109.9h.7v.7h-.7zM102.8 110.1h.7v.7h-.7zM104.8 109.9h.7v.7h-.7zM113.3 109.7h.7v.7h-.7zM114.7 110h.7v.7h-.7zM113.9 110.6h.7v.7h-.7zM112.9 110.3h.7v.7h-.7zM104.8 110.3h.7v.7h-.7zM103.9 110.3h.7v.7h-.7zM101.8 110.4h.7v.7h-.7zM100.7 110.3h.7v.7h-.7zM97.4 110.5h.7v.7h-.7zM95.2 110.2h.7v.7h-.7zM84.4 110.6h.7v.7h-.7zM83.4 110.2h.7v.7h-.7zM78.5 110.5h.7v.7h-.7zM77.5 110.5h.7v.7h-.7zM74 110.4h.7v.7h-.7zM68.5 110.6h.7v.7h-.7zM72.1 110.8h.7v.7h-.7zM74.9 110.8h.7v.7h-.7zM80.9 110.7h.7v.7h-.7zM82.5 111.1h.7v.7h-.7zM94.2 111.1h.7v.7h-.7zM97 110.7h.7v.7h-.7zM98.2 111.1h.7v.7h-.7zM100.4 110.8h.7v.7h-.7zM103 110.7h.7v.7h-.7zM112.4 110.8h.7v.7h-.7zM115.8 110.8h.7v.7h-.7zM113.3 111.4h.7v.7h-.7zM104.2 111.2h.7v.7h-.7zM103.5 111.3h.7v.7h-.7zM101.9 111.2h.7v.7h-.7zM100.7 111.3h.7v.7h-.7zM99.3 111.6h.7v.7h-.7zM97.6 111.2h.7v.7h-.7zM95.8 111.4h.7v.7h-.7zM94.1 111.5h.7v.7h-.7zM84.8 111.4h.7v.7h-.7zM84.6 111.6h.7v.7h-.7zM83.5 111.2h.7v.7h-.7zM79.8 111.5h.7v.7h-.7zM75.3 111.4h.7v.7h-.7zM72.5 111.5h.7v.7h-.7zM69.9 111.3h.7v.7h-.7zM67.5 111.3h.7v.7h-.7zM68.6 112h.7v.7h-.7zM77.1 111.9h.7v.7h-.7zM84.5 111.7h.7v.7h-.7zM94.6 111.9h.7v.7h-.7zM95.4 111.8h.7v.7h-.7zM96.9 111.9h.7v.7h-.7zM98.2 111.7h.7v.7h-.7zM98.8 111.8h.7v.7h-.7zM100.1 112h.7v.7h-.7zM102.3 112h.7v.7h-.7zM112.4 111.8h.7v.7h-.7zM114.8 112.1h.7v.7h-.7zM113.2 112.4h.7v.7h-.7zM111.6 112.3h.7v.7h-.7zM102.2 112.5h.7v.7h-.7zM101.3 112.3h.7v.7h-.7zM98 112.6h.7v.7h-.7zM95.8 112.6h.7v.7h-.7zM94.1 112.3h.7v.7h-.7zM83.2 112.6h.7v.7h-.7zM80.3 112.4h.7v.7h-.7zM78.6 112.2h.7v.7h-.7zM71.3 112.5h.7v.7h-.7zM69.4 112.7h.7v.7h-.7zM73 112.7h.7v.7h-.7zM74.8 112.8h.7v.7h-.7zM76.9 112.7h.7v.7h-.7zM81.3 112.8h.7v.7h-.7zM82.5 113h.7v.7h-.7zM85.5 113h.7v.7h-.7zM94.9 112.8h.7v.7h-.7zM96.3 112.9h.7v.7h-.7zM98.2 112.9h.7v.7h-.7zM99.2 113h.7v.7h-.7zM100.8 112.9h.7v.7h-.7zM112.5 113h.7v.7h-.7zM111.5 113.2h.7v.7h-.7zM103 113.3h.7v.7h-.7zM101.6 113.4h.7v.7h-.7zM100 113.2h.7v.7h-.7zM97.5 113.3h.7v.7h-.7zM96.3 113.4h.7v.7h-.7zM94.8 113.4h.7v.7h-.7zM94 113.5h.7v.7h-.7zM84.7 113.3h.7v.7h-.7zM79.4 113.6h.7v.7h-.7zM70.2 113.4h.7v.7h-.7zM67.4 114h.7v.7h-.7zM72.7 114h.7v.7h-.7zM74.2 114h.7v.7h-.7zM76.2 113.9h.7v.7h-.7zM80.7 114h.7v.7h-.7zM84.1 113.9h.7v.7h-.7zM84.3 113.7h.7v.7h-.7zM85.3 113.9h.7v.7h-.7zM96.1 114h.7v.7h-.7zM98.1 113.9h.7v.7h-.7zM100.8 113.9h.7v.7h-.7zM102.5 114.1h.7v.7h-.7zM114.9 113.8h.7v.7h-.7zM117.4 114h.7v.7h-.7zM113.5 114.4h.7v.7h-.7zM111.5 114.5h.7v.7h-.7zM101.5 114.5h.7v.7h-.7zM99.9 114.2h.7v.7h-.7zM99.4 114.2h.7v.7h-.7zM96.7 114.6h.7v.7h-.7zM95.2 114.2h.7v.7h-.7zM94.4 114.2h.7v.7h-.7zM85.5 114.3h.7v.7h-.7zM83 114.3h.7v.7h-.7zM81.7 114.3h.7v.7h-.7zM77.8 114.4h.7v.7h-.7zM71.2 114.4h.7v.7h-.7zM69.1 114.3h.7v.7h-.7zM75.2 114.8h.7v.7h-.7zM78.9 114.9h.7v.7h-.7zM83.3 115.1h.7v.7h-.7zM94.7 114.8h.7v.7h-.7zM97.8 114.7h.7v.7h-.7zM101.3 115.1h.7v.7h-.7zM110.6 115h.7v.7h-.7zM112.2 115.1h.7v.7h-.7zM116 115.1h.7v.7h-.7zM111.5 115.5h.7v.7h-.7zM100.2 115.3h.7v.7h-.7zM99.3 115.5h.7v.7h-.7zM98.4 115.3h.7v.7h-.7zM97.3 115.3h.7v.7h-.7zM96.5 115.6h.7v.7h-.7zM84.5 115.3h.7v.7h-.7zM72.5 115.2h.7v.7h-.7zM67.4 115.3h.7v.7h-.7zM69.9 116h.7v.7h-.7zM73.5 115.7h.7v.7h-.7zM79.8 115.8h.7v.7h-.7zM82.2 115.7h.7v.7h-.7zM84.8 116h.7v.7h-.7zM95.4 115.7h.7v.7h-.7zM98.9 115.7h.7v.7h-.7zM100.6 116.1h.7v.7h-.7zM109.8 115.8h.7v.7h-.7zM114.1 116.5h.7v.7h-.7zM110.2 116.5h.7v.7h-.7zM109.3 116.3h.7v.7h-.7zM99.4 116.4h.7v.7h-.7zM97.8 116.3h.7v.7h-.7zM97 116.6h.7v.7h-.7zM84.1 116.4h.7v.7h-.7zM81.2 116.6h.7v.7h-.7zM78.8 116.6h.7v.7h-.7zM77 116.3h.7v.7h-.7zM75.4 116.5h.7v.7h-.7zM74.4 116.2h.7v.7h-.7zM71 116.5h.7v.7h-.7zM68 117h.7v.7h-.7zM69.1 116.7h.7v.7h-.7zM72.1 116.8h.7v.7h-.7zM83.6 116.9h.7v.7h-.7zM84.8 116.9h.7v.7h-.7zM96.1 116.8h.7v.7h-.7zM97.9 117h.7v.7h-.7zM99.4 117.1h.7v.7h-.7zM100.2 116.9h.7v.7h-.7zM111.4 116.8h.7v.7h-.7zM115.4 116.7h.7v.7h-.7zM110.9 117.3h.7v.7h-.7zM109.9 117.5h.7v.7h-.7zM98.3 117.2h.7v.7h-.7zM97.2 117.5h.7v.7h-.7zM95.3 117.2h.7v.7h-.7zM85.5 117.4h.7v.7h-.7zM82.5 117.6h.7v.7h-.7zM80.2 117.5h.7v.7h-.7zM78.2 117.5h.7v.7h-.7zM69.9 117.8h.7v.7h-.7zM75.9 117.8h.7v.7h-.7zM77 117.8h.7v.7h-.7zM81.3 117.8h.7v.7h-.7zM84.3 117.8h.7v.7h-.7zM96.5 117.9h.7v.7h-.7zM99.2 117.8h.7v.7h-.7zM108.3 118h.7v.7h-.7zM109.5 118h.7v.7h-.7zM114.4 117.8h.7v.7h-.7zM112.8 118.5h.7v.7h-.7zM112 118.6h.7v.7h-.7zM110.3 118.4h.7v.7h-.7zM99 118.2h.7v.7h-.7zM98 118.2h.7v.7h-.7zM97 118.5h.7v.7h-.7zM85.1 118.3h.7v.7h-.7zM83.9 118.2h.7v.7h-.7zM73.8 118.6h.7v.7h-.7zM66.7 118.4h.7v.7h-.7zM68.3 118.9h.7v.7h-.7zM70.6 118.9h.7v.7h-.7zM72.6 118.8h.7v.7h-.7zM78.2 118.7h.7v.7h-.7zM81 119h.7v.7h-.7zM83 119.1h.7v.7h-.7zM85.3 118.9h.7v.7h-.7zM96.7 118.7h.7v.7h-.7zM98.7 118.9h.7v.7h-.7zM107.4 119.1h.7v.7h-.7zM108.2 119h.7v.7h-.7zM116.8 119.6h.7v.7h-.7zM115.3 119.2h.7v.7h-.7zM110.4 119.3h.7v.7h-.7zM109.4 119.2h.7v.7h-.7zM106.6 119.6h.7v.7h-.7zM98.4 119.5h.7v.7h-.7zM83.8 119.4h.7v.7h-.7zM81.3 119.3h.7v.7h-.7zM80 119.5h.7v.7h-.7zM75.7 119.3h.7v.7h-.7zM72.8 119.6h.7v.7h-.7zM71.4 119.4h.7v.7h-.7zM69.4 119.7h.7v.7h-.7zM74.6 120h.7v.7h-.7zM76.9 119.9h.7v.7h-.7zM82.5 119.8h.7v.7h-.7zM84.3 119.8h.7v.7h-.7zM97.6 119.8h.7v.7h-.7zM99.1 119.7h.7v.7h-.7zM107.4 120.1h.7v.7h-.7zM108.1 120.1h.7v.7h-.7zM109 119.8h.7v.7h-.7zM110.2 120h.7v.7h-.7zM111.5 119.7h.7v.7h-.7zM112.5 120.1h.7v.7h-.7zM108.8 120.3h.7v.7h-.7zM106.2 120.3h.7v.7h-.7zM105.5 120.5h.7v.7h-.7zM105 120.4h.7v.7h-.7zM98.9 120.6h.7v.7h-.7zM97.3 120.6h.7v.7h-.7zM83.8 120.4h.7v.7h-.7zM82.7 120.5h.7v.7h-.7zM77.8 120.4h.7v.7h-.7zM73.5 120.5h.7v.7h-.7zM67.2 120.5h.7v.7h-.7zM75.4 121h.7v.7h-.7zM81.3 120.7h.7v.7h-.7zM84.6 120.7h.7v.7h-.7zM98 120.7h.7v.7h-.7zM99.6 120.7h.7v.7h-.7zM104.6 120.9h.7v.7h-.7zM107.1 121.1h.7v.7h-.7zM108 120.9h.7v.7h-.7zM109.8 120.9h.7v.7h-.7zM110.8 121h.7v.7h-.7zM115.6 121.3h.7v.7h-.7zM114 121.4h.7v.7h-.7zM112 121.4h.7v.7h-.7zM109 121.3h.7v.7h-.7zM106.4 121.6h.7v.7h-.7zM105.2 121.2h.7v.7h-.7zM103.6 121.2h.7v.7h-.7zM99.9 121.4h.7v.7h-.7zM80.7 121.6h.7v.7h-.7zM79.9 121.5h.7v.7h-.7zM79.1 121.3h.7v.7h-.7zM71.9 121.4h.7v.7h-.7zM71.1 121.3h.7v.7h-.7zM68.8 121.4h.7v.7h-.7zM73.3 122.1h.7v.7h-.7zM77 122h.7v.7h-.7zM83 121.8h.7v.7h-.7zM83.8 122.1h.7v.7h-.7zM98.3 121.9h.7v.7h-.7zM102 121.9h.7v.7h-.7zM109.6 122h.7v.7h-.7zM110.5 121.9h.7v.7h-.7zM113.6 121.7h.7v.7h-.7zM111.1 122.6h.7v.7h-.7zM109 122.5h.7v.7h-.7zM108 122.4h.7v.7h-.7zM106.8 122.6h.7v.7h-.7zM106 122.3h.7v.7h-.7zM103.8 122.3h.7v.7h-.7zM103 122.4h.7v.7h-.7zM100.9 122.2h.7v.7h-.7zM84 122.3h.7v.7h-.7zM82.9 122.4h.7v.7h-.7zM81.7 122.3h.7v.7h-.7zM79.1 122.2h.7v.7h-.7zM75.2 122.3h.7v.7h-.7zM69.4 122.3h.7v.7h-.7zM68.1 122.7h.7v.7h-.7zM70.3 123.1h.7v.7h-.7zM77.2 122.9h.7v.7h-.7zM80.5 122.7h.7v.7h-.7zM81.3 122.8h.7v.7h-.7zM99.2 122.9h.7v.7h-.7zM104.8 123h.7v.7h-.7zM107.6 123h.7v.7h-.7zM109.3 123h.7v.7h-.7zM110.1 122.7h.7v.7h-.7zM111.9 123.1h.7v.7h-.7zM116.6 123.5h.7v.7h-.7zM111.2 123.6h.7v.7h-.7zM108.8 123.3h.7v.7h-.7zM108.1 123.4h.7v.7h-.7zM106.9 123.3h.7v.7h-.7zM106 123.3h.7v.7h-.7zM102.6 123.4h.7v.7h-.7zM82.3 123.3h.7v.7h-.7zM79.4 123.6h.7v.7h-.7zM75.1 123.4h.7v.7h-.7zM73.6 123.2h.7v.7h-.7zM71.8 123.2h.7v.7h-.7zM76 123.9h.7v.7h-.7zM82.3 124.1h.7v.7h-.7zM101.5 123.8h.7v.7h-.7zM105 124h.7v.7h-.7zM108.4 123.8h.7v.7h-.7zM110.4 123.8h.7v.7h-.7zM114.3 123.7h.7v.7h-.7zM111.7 124.2h.7v.7h-.7zM110.3 124.5h.7v.7h-.7zM109.5 124.6h.7v.7h-.7zM108 124.5h.7v.7h-.7zM106.4 124.4h.7v.7h-.7zM104 124.5h.7v.7h-.7zM82 124.6h.7v.7h-.7zM81.2 124.4h.7v.7h-.7zM80.5 124.3h.7v.7h-.7zM78.6 124.2h.7v.7h-.7zM77.4 124.3h.7v.7h-.7zM75.1 124.3h.7v.7h-.7zM70.4 124.4h.7v.7h-.7zM68.8 124.3h.7v.7h-.7zM67.1 124.6h.7v.7h-.7zM72.6 125h.7v.7h-.7zM76.3 125h.7v.7h-.7zM80.1 124.8h.7v.7h-.7zM99.8 125h.7v.7h-.7zM105.3 125h.7v.7h-.7zM106.8 125h.7v.7h-.7zM107.8 125.1h.7v.7h-.7zM109.4 125h.7v.7h-.7zM111.3 124.7h.7v.7h-.7zM114.1 125h.7v.7h-.7zM112.3 125.3h.7v.7h-.7zM110.2 125.3h.7v.7h-.7zM108.4 125.4h.7v.7h-.7zM107 125.5h.7v.7h-.7zM105.3 125.6h.7v.7h-.7zM80.8 125.6h.7v.7h-.7zM79 125.5h.7v.7h-.7zM70.8 125.5h.7v.7h-.7zM68.4 125.9h.7v.7h-.7zM70 125.8h.7v.7h-.7zM72 125.7h.7v.7h-.7zM73.6 125.9h.7v.7h-.7zM75.9 126h.7v.7h-.7zM77.5 125.8h.7v.7h-.7zM78.2 125.7h.7v.7h-.7zM79.8 126.1h.7v.7h-.7zM104.3 126h.7v.7h-.7zM106.3 126.1h.7v.7h-.7zM107.3 125.7h.7v.7h-.7zM109.1 126h.7v.7h-.7zM109.5 125.8h.7v.7h-.7zM110.5 126h.7v.7h-.7zM115.6 125.8h.7v.7h-.7zM112.4 126.5h.7v.7h-.7zM109.9 126.4h.7v.7h-.7zM107.5 126.5h.7v.7h-.7zM104.9 126.2h.7v.7h-.7zM80.2 126.2h.7v.7h-.7zM79.5 126.3h.7v.7h-.7zM74.8 126.5h.7v.7h-.7zM67.3 126.4h.7v.7h-.7zM69.4 126.8h.7v.7h-.7zM71.5 126.9h.7v.7h-.7zM73.2 126.8h.7v.7h-.7zM74.5 127h.7v.7h-.7zM76.4 126.8h.7v.7h-.7zM77.3 126.7h.7v.7h-.7zM106.6 126.9h.7v.7h-.7zM106.9 126.9h.7v.7h-.7zM109.5 127h.7v.7h-.7zM110.2 126.9h.7v.7h-.7zM112.8 127.4h.7v.7h-.7zM111.5 127.2h.7v.7h-.7zM106.1 127.5h.7v.7h-.7zM104.8 127.5h.7v.7h-.7zM79.1 127.6h.7v.7h-.7zM78.2 127.5h.7v.7h-.7zM72.5 127.5h.7v.7h-.7zM68.1 127.8h.7v.7h-.7zM70.7 127.8h.7v.7h-.7zM73.4 127.9h.7v.7h-.7zM74.9 128h.7v.7h-.7zM75.9 128h.7v.7h-.7zM77.4 127.9h.7v.7h-.7zM98.4 127.8h.7v.7h-.7zM103.6 127.9h.7v.7h-.7zM106.3 128.1h.7v.7h-.7zM110.6 127.8h.7v.7h-.7zM110.8 128h.7v.7h-.7zM105.5 128.4h.7v.7h-.7zM77.3 128.4h.7v.7h-.7zM76.6 128.6h.7v.7h-.7zM72 128.5h.7v.7h-.7zM69.2 128.2h.7v.7h-.7zM67.6 128.9h.7v.7h-.7zM68.7 128.7h.7v.7h-.7zM70.3 128.9h.7v.7h-.7zM73.1 128.7h.7v.7h-.7zM74 128.7h.7v.7h-.7zM74.9 128.7h.7v.7h-.7zM104.4 128.9h.7v.7h-.7zM105.4 128.8h.7v.7h-.7zM111 128.9h.7v.7h-.7zM113.5 128.8h.7v.7h-.7zM111.1 129.3h.7v.7h-.7zM103.5 129.3h.7v.7h-.7zM97.8 129.5h.7v.7h-.7zM75.6 129.2h.7v.7h-.7zM73.8 129.2h.7v.7h-.7zM72.4 129.4h.7v.7h-.7zM67.8 129.5h.7v.7h-.7zM67.3 129.7h.7v.7h-.7zM69.1 129.9h.7v.7h-.7zM70.1 129.8h.7v.7h-.7zM70.6 129.7h.7v.7h-.7zM71.3 129.7h.7v.7h-.7zM72.8 130h.7v.7h-.7zM104.7 129.8h.7v.7h-.7zM106.1 130h.7v.7h-.7zM110.7 130.1h.7v.7h-.7zM112.1 130.1h.7v.7h-.7zM104.2 130.4h.7v.7h-.7zM96.7 130.4h.7v.7h-.7zM71.8 130.6h.7v.7h-.7zM66.7 130.5h.7v.7h-.7zM67.5 130.9h.7v.7h-.7zM68.3 131h.7v.7h-.7zM70.1 131h.7v.7h-.7zM105.2 130.9h.7v.7h-.7zM111.5 130.9h.7v.7h-.7zM113.2 131.1h.7v.7h-.7zM105.5 131.4h.7v.7h-.7zM103.5 132.1h.7v.7h-.7zM105 131.8h.7v.7h-.7zM112.3 131.8h.7v.7h-.7zM112 132.2h.7v.7h-.7zM95.9 132.3h.7v.7h-.7zM101.2 132.7h.7v.7h-.7zM104.9 132.9h.7v.7h-.7zM112.4 133.5h.7v.7h-.7zM105 133.8h.7v.7h-.7zM103.6 134.6h.7v.7h-.7zM94.8 134.3h.7v.7h-.7zM104.5 135.1h.7v.7h-.7zM112.6 135h.7v.7h-.7zM113.4 134.7h.7v.7h-.7zM112.5 135.6h.7v.7h-.7zM105 135.7h.7v.7h-.7zM112.2 136.5h.7v.7h-.7zM104.7 136.4h.7v.7h-.7zM94.2 136.9h.7v.7h-.7zM113.5 137.1h.7v.7h-.7zM103.7 137.4h.7v.7h-.7zM104.8 137.9h.7v.7h-.7zM112.5 138.3h.7v.7h-.7zM93 138.7h.7v.7h-.7zM105.1 138.9h.7v.7h-.7zM112.6 139h.7v.7h-.7zM105.6 139.2h.7v.7h-.7zM112.1 140h.7v.7h-.7zM105.5 140.5h.7v.7h-.7zM91.9 140.6h.7v.7h-.7zM103.6 141h.7v.7h-.7zM111.4 141.1h.7v.7h-.7zM106 141.6h.7v.7h-.7zM111.6 141.9h.7v.7h-.7zM112.3 142.3h.7v.7h-.7zM105.5 142.5h.7v.7h-.7zM91 142.3h.7v.7h-.7zM106.6 142.7h.7v.7h-.7zM110.9 143.1h.7v.7h-.7zM106.4 143.7h.7v.7h-.7zM110.8 143.7h.7v.7h-.7zM110.5 144.2h.7v.7h-.7zM89.7 144.2h.7v.7h-.7zM104.7 145h.7v.7h-.7zM110.8 145.6h.7v.7h-.7zM106.8 145.3h.7v.7h-.7zM89.3 146h.7v.7h-.7zM107.1 145.7h.7v.7h-.7zM109.9 146.6h.7v.7h-.7zM110.7 146.8h.7v.7h-.7zM113.2 147.6h.7v.7h-.7zM107.5 147.4h.7v.7h-.7zM88.8 147.4h.7v.7h-.7zM109.4 147.8h.7v.7h-.7zM107.9 148.6h.7v.7h-.7zM106.1 148.9h.7v.7h-.7zM106.8 149h.7v.7h-.7zM109 148.8h.7v.7h-.7zM108.6 149.4h.7v.7h-.7zM89.1 149.5h.7v.7h-.7zM91 149.9h.7v.7h-.7zM93.5 151.5h.7v.7h-.7zM88.5 152.4h.7v.7h-.7z"/><path fill="#fff" d="M84 103.1h.7v.7h-.7zM110.7 103.1h.7v.7h-.7zM117.1 103.6h.7v.7h-.7zM112 104.1h.7v.7h-.7zM115.2 104h.7v.7h-.7zM113.2 104.4h.7v.7h-.7zM109.2 104.2h.7v.7h-.7zM84.2 104.2h.7v.7h-.7zM109.9 104.9h.7v.7h-.7zM116.5 105.5h.7v.7h-.7zM108.8 105.6h.7v.7h-.7zM83.9 105.3h.7v.7h-.7zM115.1 105.8h.7v.7h-.7zM116.1 106h.7v.7h-.7zM85.5 106.4h.7v.7h-.7zM108.9 106.8h.7v.7h-.7zM114.8 107.1h.7v.7h-.7zM108.1 107.5h.7v.7h-.7zM94.2 107.4h.7v.7h-.7zM84.2 107.5h.7v.7h-.7zM112.9 107.8h.7v.7h-.7zM114.6 107.8h.7v.7h-.7zM107 108.3h.7v.7h-.7zM85 108.2h.7v.7h-.7zM111.1 109.1h.7v.7h-.7zM113 108.9h.7v.7h-.7zM109.3 109.3h.7v.7h-.7zM107.1 109.3h.7v.7h-.7zM86.1 109.5h.7v.7h-.7zM85.4 110.1h.7v.7h-.7zM106.2 110.3h.7v.7h-.7zM85.5 110.7h.7v.7h-.7zM108.1 111h.7v.7h-.7zM112.1 110.8h.7v.7h-.7zM110.9 111.6h.7v.7h-.7zM86.4 111.7h.7v.7h-.7zM110 112.6h.7v.7h-.7zM105.3 112.4h.7v.7h-.7zM103.7 112.4h.7v.7h-.7zM85.3 112.2h.7v.7h-.7zM103.3 112.9h.7v.7h-.7zM110.8 112.8h.7v.7h-.7zM87 114h.7v.7h-.7zM110.1 114.5h.7v.7h-.7zM93.6 114.2h.7v.7h-.7zM102.9 114.8h.7v.7h-.7zM102.1 115.2h.7v.7h-.7zM86.1 115.4h.7v.7h-.7zM85.9 115.9h.7v.7h-.7zM94.3 115.8h.7v.7h-.7zM109 115.7h.7v.7h-.7zM101.6 116.4h.7v.7h-.7zM87.3 116.8h.7v.7h-.7zM94.9 117h.7v.7h-.7zM107.5 116.7h.7v.7h-.7zM108.3 116.8h.7v.7h-.7zM102.6 117.3h.7v.7h-.7zM86.3 117.3h.7v.7h-.7zM100.4 118.1h.7v.7h-.7zM106.8 117.7h.7v.7h-.7zM106.7 118.2h.7v.7h-.7zM86.8 118.5h.7v.7h-.7zM85.8 118.3h.7v.7h-.7zM100.3 118.9h.7v.7h-.7zM105.8 118.9h.7v.7h-.7zM105.1 119.3h.7v.7h-.7zM102.4 119.3h.7v.7h-.7zM85.4 119.8h.7v.7h-.7zM99.7 120h.7v.7h-.7zM104.1 120.5h.7v.7h-.7zM100.9 120.2h.7v.7h-.7zM86.4 120.9h.7v.7h-.7zM102.3 120.9h.7v.7h-.7zM101.5 121.6h.7v.7h-.7zM85.1 121.3h.7v.7h-.7zM84.4 122.7h.7v.7h-.7zM83.3 123.6h.7v.7h-.7zM84.6 124.3h.7v.7h-.7zM82.6 125h.7v.7h-.7zM81.6 125.8h.7v.7h-.7zM83 126.2h.7v.7h-.7zM80.5 126.8h.7v.7h-.7zM108.5 126.8h.7v.7h-.7zM108 127.6h.7v.7h-.7zM79.7 127.4h.7v.7h-.7zM81.3 128h.7v.7h-.7zM109.6 127.8h.7v.7h-.7zM108.6 128.4h.7v.7h-.7zM78.8 128.4h.7v.7h-.7zM77 129h.7v.7h-.7zM106.4 128.9h.7v.7h-.7zM107.6 128.7h.7v.7h-.7zM109.7 129.1h.7v.7h-.7zM109 129.6h.7v.7h-.7zM76.4 129.5h.7v.7h-.7zM74.4 129.8h.7v.7h-.7zM110.1 129.8h.7v.7h-.7zM106.5 130.6h.7v.7h-.7zM78.1 130.4h.7v.7h-.7zM73.3 130.3h.7v.7h-.7zM74.2 130.8h.7v.7h-.7zM111 131.3h.7v.7h-.7zM72 131.4h.7v.7h-.7zM70.3 131.5h.7v.7h-.7zM68.9 131.6h.7v.7h-.7zM69.8 131.8h.7v.7h-.7zM67.2 132.4h.7v.7h-.7zM111.3 133.4h.7v.7h-.7zM105.3 133.3h.7v.7h-.7zM68.9 133.2h.7v.7h-.7zM111.9 137.5h.7v.7h-.7zM105.5 137.5h.7v.7h-.7zM110.9 140.1h.7v.7h-.7zM106.3 140.3h.7v.7h-.7zM106.2 141.8h.7v.7h-.7zM110.4 143.5h.7v.7h-.7zM107.1 144.2h.7v.7h-.7zM109.3 145.3h.7v.7h-.7zM107.6 146.2h.7v.7h-.7zM108.9 146.7h.7v.7h-.7zM108.4 147.4h.7v.7h-.7z"/></g></g>
<rect x="67.5" y="103.3" width="50.2" height="49.1" fill="none" stroke="#9c9c9c" stroke-width="0.9"/>
<g fill="#222" font-size="3.2"><text x="60.9" y="109.36">10<tspan dy="-1.2" font-size="2.4">4</tspan></text><rect x="66.2" y="107.61" width="1.3" height=".7" opacity=".8"/><text x="60.9" y="120.17">10<tspan dy="-1.2" font-size="2.4">3</tspan></text><rect x="66.2" y="118.42" width="1.3" height=".7" opacity=".8"/><text x="60.9" y="131.46">10<tspan dy="-1.2" font-size="2.4">2</tspan></text><rect x="66.2" y="129.71" width="1.3" height=".7" opacity=".8"/><text x="60.9" y="143">10<tspan dy="-1.2" font-size="2.4">1</tspan></text><rect x="66.2" y="141.25" width="1.3" height=".7" opacity=".8"/><text x="63.1" y="148.74">0</text><rect x="66.2" y="147.39" width="1.3" height=".7" opacity=".8"/><text x="75.84" y="157.6">10<tspan dy="-1.2" font-size="2.4">1</tspan></text><rect x="77.69" y="152.4" width=".7" height="1.3" opacity=".8"/><text x="87.99" y="157.6">10<tspan dy="-1.2" font-size="2.4">2</tspan></text><rect x="89.84" y="152.4" width=".7" height="1.3" opacity=".8"/><text x="99.03" y="157.6">10<tspan dy="-1.2" font-size="2.4">3</tspan></text><rect x="100.88" y="152.4" width=".7" height="1.3" opacity=".8"/><text x="111.23" y="157.6">10<tspan dy="-1.2" font-size="2.4">4</tspan></text><rect x="113.08" y="152.4" width=".7" height="1.3" opacity=".8"/><text x="72.12" y="157.6">0</text><rect x="72.57" y="152.4" width=".7" height="1.3" opacity=".8"/></g>
<rect x="102.9" y="131.2" width="12" height="21.3" fill="none" stroke="#888" stroke-width="0.9"/>
<rect x="88.6" y="144.8" width="14.6" height="7.6" fill="#fff"/>
<text x="89.9" y="152.1" font-size="9.3" text-anchor="start" fill="#111" stroke="#111" stroke-width=".2">3.8</text>
<g clip-path="url(#c3)"><g filter="url(#bl)"><path fill="#000" d="M86.5 186h9.5v0.5h-9.5zM86.5 186.5h9.5v0.5h-9.5zM69 187h7v0.5h-7zM86.5 187h9.5v0.5h-9.5zM68.5 187.5h7.5v0.5h-7.5zM86.5 187.5h9v0.5h-9zM69 188h2.5v0.5h-2.5zM86.5 188h9v0.5h-9zM86.5 188.5h9v0.5h-9zM86.5 189h8.5v0.5h-8.5zM86.5 189.5h8.5v0.5h-8.5zM86.5 190h8v0.5h-8zM87 190.5h7.5v0.5h-7.5zM87 191h7.5v0.5h-7.5zM87 191.5h7v0.5h-7zM87 192h7v0.5h-7zM87 192.5h7v0.5h-7zM87.5 193h7v0.5h-7zM87.5 193.5h7v0.5h-7zM87.5 194h7v0.5h-7zM106 194h5v0.5h-5zM87.5 194.5h7v0.5h-7zM105 194.5h6.5v0.5h-6.5zM87.5 195h7v0.5h-7zM104.5 195h7v0.5h-7zM87.5 195.5h7.5v0.5h-7.5zM104.5 195.5h7v0.5h-7zM87.5 196h7.5v0.5h-7.5zM104 196h7.5v0.5h-7.5zM87.5 196.5h7.5v0.5h-7.5zM104 196.5h7.5v0.5h-7.5zM88 197h7v0.5h-7zM104 197h7.5v0.5h-7.5zM88 197.5h7v0.5h-7zM104 197.5h7.5v0.5h-7.5zM87.5 198h8v0.5h-8zM104 198h7.5v0.5h-7.5zM87.5 198.5h8.5v0.5h-8.5zM104 198.5h7.5v0.5h-7.5zM87.5 199h8.5v0.5h-8.5zM104 199h7.5v0.5h-7.5zM87.5 199.5h9v0.5h-9zM104 199.5h7.5v0.5h-7.5zM87.5 200h9.5v0.5h-9.5zM104 200h7.5v0.5h-7.5zM87.5 200.5h9.5v0.5h-9.5zM104 200.5h7.5v0.5h-7.5zM87.5 201h10v0.5h-10zM104 201h7.5v0.5h-7.5zM87 201.5h11v0.5h-11zM104 201.5h7.5v0.5h-7.5zM87 202h11.5v0.5h-11.5zM104 202h7.5v0.5h-7.5zM87 202.5h11.5v0.5h-11.5zM104 202.5h7.5v0.5h-7.5zM86.5 203h12.5v0.5h-12.5zM104 203h7.5v0.5h-7.5zM86.5 203.5h13v0.5h-13zM104 203.5h7.5v0.5h-7.5zM86.5 204h13v0.5h-13zM104 204h7.5v0.5h-7.5zM86 204.5h14v0.5h-14zM104 204.5h7.5v0.5h-7.5zM86 205h14.5v0.5h-14.5zM104 205h8v0.5h-8zM85.5 205.5h15.5v0.5h-15.5zM104 205.5h8v0.5h-8zM85 206h16v0.5h-16zM104 206h8v0.5h-8zM85 206.5h16.5v0.5h-16.5zM104 206.5h8v0.5h-8zM84.5 207h17v0.5h-17zM104.5 207h7.5v0.5h-7.5zM84 207.5h17.5v0.5h-17.5zM104.5 207.5h7.5v0.5h-7.5zM83.5 208h18.5v0.5h-18.5zM105 208h7v0.5h-7zM83 208.5h19v0.5h-19zM105.5 208.5h6.5v0.5h-6.5zM82.5 209h19v0.5h-19zM106 209h5.5v0.5h-5.5zM82 209.5h19.5v0.5h-19.5zM107 209.5h4.5v0.5h-4.5zM81 210h20v0.5h-20zM108 210h3v0.5h-3zM80 210.5h20.5v0.5h-20.5zM109 210.5h1v0.5h-1zM79 211h21.5v0.5h-21.5zM78 211.5h22v0.5h-22zM109 211.5h0.5v0.5h-0.5zM76.5 212h23.5v0.5h-23.5zM108 212h2v0.5h-2zM74.5 212.5h25v0.5h-25zM108 212.5h2v0.5h-2zM72.5 213h26.5v0.5h-26.5zM107.5 213h3v0.5h-3zM70.5 213.5h28.5v0.5h-28.5zM107.5 213.5h3v0.5h-3zM67 214h31.5v0.5h-31.5zM107.5 214h3v0.5h-3zM67 214.5h31.5v0.5h-31.5zM107.5 214.5h3v0.5h-3zM67 215h31v0.5h-31zM107.5 215h3v0.5h-3zM67 215.5h30.5v0.5h-30.5zM107 215.5h4v0.5h-4zM67 216h30.5v0.5h-30.5zM107 216h4v0.5h-4zM67 216.5h30v0.5h-30zM106.5 216.5h5v0.5h-5zM67 217h29.5v0.5h-29.5zM106.5 217h5.5v0.5h-5.5zM67 217.5h29.5v0.5h-29.5zM106 217.5h6v0.5h-6zM67 218h29v0.5h-29zM106 218h6.5v0.5h-6.5zM67 218.5h29v0.5h-29zM106 218.5h6.5v0.5h-6.5zM67 219h28.5v0.5h-28.5zM106 219h6.5v0.5h-6.5zM67 219.5h28.5v0.5h-28.5zM105.5 219.5h7v0.5h-7zM67 220h28v0.5h-28zM106 220h6.5v0.5h-6.5zM67 220.5h27.5v0.5h-27.5zM106 220.5h6.5v0.5h-6.5zM67 221h27.5v0.5h-27.5zM106 221h6.5v0.5h-6.5zM67 221.5h27v0.5h-27zM106 221.5h6.5v0.5h-6.5zM67 222h27v0.5h-27zM106 222h6.5v0.5h-6.5zM67 222.5h26.5v0.5h-26.5zM106 222.5h6v0.5h-6zM67 223h26v0.5h-26zM106.5 223h5.5v0.5h-5.5zM67 223.5h26v0.5h-26zM106.5 223.5h5.5v0.5h-5.5zM67 224h25.5v0.5h-25.5zM106.5 224h5v0.5h-5zM67 224.5h25.5v0.5h-25.5zM107 224.5h4.5v0.5h-4.5zM67 225h25v0.5h-25zM107 225h4.5v0.5h-4.5zM67 225.5h24.5v0.5h-24.5zM107 225.5h4v0.5h-4zM67 226h24v0.5h-24zM107 226h4v0.5h-4zM67 226.5h23.5v0.5h-23.5zM107.5 226.5h3v0.5h-3zM67 227h23v0.5h-23zM107.5 227h3v0.5h-3zM67 227.5h22.5v0.5h-22.5zM108 227.5h2v0.5h-2zM67 228h22v0.5h-22zM108 228h2v0.5h-2zM67 228.5h21.5v0.5h-21.5zM108.5 228.5h1v0.5h-1zM67 229h21.5v0.5h-21.5zM67 229.5h21.5v0.5h-21.5zM67 230h21.5v0.5h-21.5zM67 230.5h21.5v0.5h-21.5zM67 231h21.5v0.5h-21.5zM67 231.5h21.5v0.5h-21.5zM67 232h21.5v0.5h-21.5zM67 232.5h21.5v0.5h-21.5zM67 233h21.5v0.5h-21.5zM67 233.5h21.5v0.5h-21.5zM67 234h21.5v0.5h-21.5zM67 234.5h21.5v0.5h-21.5z"/><path fill="#000" d="M68.2 185.9h.7v.7h-.7zM69.3 185.9h.7v.7h-.7zM72.4 185.8h.7v.7h-.7zM73.4 186h.7v.7h-.7zM75.1 185.7h.7v.7h-.7zM76.6 185.8h.7v.7h-.7zM77.7 186.1h.7v.7h-.7zM79.4 186h.7v.7h-.7zM80.4 185.9h.7v.7h-.7zM82.6 186h.7v.7h-.7zM86 185.7h.7v.7h-.7zM96 186.1h.7v.7h-.7zM98.3 185.7h.7v.7h-.7zM102.5 185.8h.7v.7h-.7zM106.3 186.1h.7v.7h-.7zM113.5 186.3h.7v.7h-.7zM111.8 186.2h.7v.7h-.7zM110.3 186.3h.7v.7h-.7zM109.8 186.3h.7v.7h-.7zM108.4 186.2h.7v.7h-.7zM107.2 186.3h.7v.7h-.7zM105.5 186.4h.7v.7h-.7zM104.5 186.2h.7v.7h-.7zM100.9 186.6h.7v.7h-.7zM97.5 186.3h.7v.7h-.7zM96.4 186.5h.7v.7h-.7zM85.8 186.3h.7v.7h-.7zM84.2 186.4h.7v.7h-.7zM83.4 186.2h.7v.7h-.7zM81.7 186.3h.7v.7h-.7zM79 186.5h.7v.7h-.7zM76.8 186.5h.7v.7h-.7zM74.8 186.4h.7v.7h-.7zM73.4 186.2h.7v.7h-.7zM72.1 186.4h.7v.7h-.7zM70.9 186.2h.7v.7h-.7zM70.2 186.4h.7v.7h-.7zM68.1 186.2h.7v.7h-.7zM67.1 186.6h.7v.7h-.7zM67.8 186.7h.7v.7h-.7zM75.9 186.7h.7v.7h-.7zM77 186.9h.7v.7h-.7zM77.5 187.1h.7v.7h-.7zM78.3 187h.7v.7h-.7zM80 186.9h.7v.7h-.7zM80.6 186.7h.7v.7h-.7zM81.5 187h.7v.7h-.7zM84.3 187.1h.7v.7h-.7zM86 186.8h.7v.7h-.7zM98.8 186.9h.7v.7h-.7zM99.9 186.9h.7v.7h-.7zM102 186.8h.7v.7h-.7zM102.4 186.8h.7v.7h-.7zM103.6 187h.7v.7h-.7zM106.6 187.1h.7v.7h-.7zM108.9 187h.7v.7h-.7zM110.9 187.1h.7v.7h-.7zM112.6 187.6h.7v.7h-.7zM111.2 187.6h.7v.7h-.7zM110 187.3h.7v.7h-.7zM108.5 187.3h.7v.7h-.7zM107.3 187.3h.7v.7h-.7zM105.8 187.6h.7v.7h-.7zM104.4 187.5h.7v.7h-.7zM100.2 187.2h.7v.7h-.7zM99 187.3h.7v.7h-.7zM97.8 187.6h.7v.7h-.7zM96.7 187.5h.7v.7h-.7zM85 187.5h.7v.7h-.7zM83.4 187.2h.7v.7h-.7zM82.5 187.6h.7v.7h-.7zM79.8 187.2h.7v.7h-.7zM78.9 187.5h.7v.7h-.7zM76.2 187.2h.7v.7h-.7zM68.1 187.5h.7v.7h-.7zM66.7 187.4h.7v.7h-.7zM68.4 188h.7v.7h-.7zM71.5 187.7h.7v.7h-.7zM72.3 187.7h.7v.7h-.7zM73.9 187.8h.7v.7h-.7zM75.1 187.8h.7v.7h-.7zM76.1 188.1h.7v.7h-.7zM77.4 187.8h.7v.7h-.7zM78.3 188h.7v.7h-.7zM80.7 188.1h.7v.7h-.7zM85.4 187.9h.7v.7h-.7zM85.9 188h.7v.7h-.7zM95.4 187.7h.7v.7h-.7zM97.6 188.1h.7v.7h-.7zM100.4 187.8h.7v.7h-.7zM101.3 187.8h.7v.7h-.7zM102.2 187.9h.7v.7h-.7zM104.8 187.8h.7v.7h-.7zM106.9 187.9h.7v.7h-.7zM109.6 187.8h.7v.7h-.7zM110.9 187.7h.7v.7h-.7zM116 188.4h.7v.7h-.7zM112.8 188.4h.7v.7h-.7zM111.8 188.2h.7v.7h-.7zM110.4 188.3h.7v.7h-.7zM108.4 188.6h.7v.7h-.7zM106.1 188.3h.7v.7h-.7zM104.4 188.4h.7v.7h-.7zM104 188.5h.7v.7h-.7zM102.8 188.6h.7v.7h-.7zM99.9 188.3h.7v.7h-.7zM98.3 188.2h.7v.7h-.7zM96.3 188.2h.7v.7h-.7zM84.7 188.3h.7v.7h-.7zM83.8 188.3h.7v.7h-.7zM81.9 188.2h.7v.7h-.7zM78.9 188.3h.7v.7h-.7zM76.4 188.4h.7v.7h-.7zM74.8 188.4h.7v.7h-.7zM73.2 188.4h.7v.7h-.7zM73.1 188.4h.7v.7h-.7zM71.9 188.6h.7v.7h-.7zM70.8 188.2h.7v.7h-.7zM69.7 188.4h.7v.7h-.7zM69 188.5h.7v.7h-.7zM68 188.3h.7v.7h-.7zM67.1 188.4h.7v.7h-.7zM68.4 188.9h.7v.7h-.7zM70.5 189h.7v.7h-.7zM77.8 189h.7v.7h-.7zM80.6 189.1h.7v.7h-.7zM85.9 189.1h.7v.7h-.7zM95.1 188.8h.7v.7h-.7zM96.4 188.7h.7v.7h-.7zM97.9 188.7h.7v.7h-.7zM99.6 188.9h.7v.7h-.7zM100.7 188.8h.7v.7h-.7zM101.7 188.8h.7v.7h-.7zM106 188.9h.7v.7h-.7zM106.7 188.7h.7v.7h-.7zM108.8 188.8h.7v.7h-.7zM110.8 189.1h.7v.7h-.7zM114.2 189.2h.7v.7h-.7zM110 189.5h.7v.7h-.7zM108 189.3h.7v.7h-.7zM105 189.5h.7v.7h-.7zM103.7 189.5h.7v.7h-.7zM102.3 189.4h.7v.7h-.7zM100.3 189.2h.7v.7h-.7zM97.7 189.5h.7v.7h-.7zM96.8 189.4h.7v.7h-.7zM95.3 189.5h.7v.7h-.7zM85.8 189.2h.7v.7h-.7zM84.3 189.4h.7v.7h-.7zM83.2 189.5h.7v.7h-.7zM79.8 189.6h.7v.7h-.7zM77 189.5h.7v.7h-.7zM75.7 189.5h.7v.7h-.7zM74.7 189.4h.7v.7h-.7zM74 189.5h.7v.7h-.7zM69.8 189.2h.7v.7h-.7zM66.7 189.5h.7v.7h-.7zM71.4 190h.7v.7h-.7zM72.4 190h.7v.7h-.7zM78.3 190h.7v.7h-.7zM82.8 189.7h.7v.7h-.7zM85 189.7h.7v.7h-.7zM94.6 190h.7v.7h-.7zM98.4 189.9h.7v.7h-.7zM99.4 189.8h.7v.7h-.7zM101.5 190.1h.7v.7h-.7zM103.5 189.9h.7v.7h-.7zM105.6 189.7h.7v.7h-.7zM107.1 189.7h.7v.7h-.7zM107.8 190.1h.7v.7h-.7zM108.8 190.1h.7v.7h-.7zM109.9 190.1h.7v.7h-.7zM111.1 189.7h.7v.7h-.7zM111.6 189.7h.7v.7h-.7zM113.1 190.4h.7v.7h-.7zM108.9 190.6h.7v.7h-.7zM105.9 190.6h.7v.7h-.7zM103.7 190.4h.7v.7h-.7zM102.8 190.6h.7v.7h-.7zM101 190.4h.7v.7h-.7zM98.2 190.4h.7v.7h-.7zM96.5 190.3h.7v.7h-.7zM95.6 190.2h.7v.7h-.7zM86.5 190.2h.7v.7h-.7zM81.8 190.6h.7v.7h-.7zM80.7 190.4h.7v.7h-.7zM70.5 190.2h.7v.7h-.7zM68.7 190.4h.7v.7h-.7zM68.3 190.8h.7v.7h-.7zM74 191.1h.7v.7h-.7zM76.4 190.9h.7v.7h-.7zM78.9 191.1h.7v.7h-.7zM83.9 190.8h.7v.7h-.7zM85.5 190.9h.7v.7h-.7zM86 191h.7v.7h-.7zM94.8 191.1h.7v.7h-.7zM96.9 190.9h.7v.7h-.7zM97.3 191h.7v.7h-.7zM98.7 191h.7v.7h-.7zM101.5 191h.7v.7h-.7zM104.4 190.7h.7v.7h-.7zM106.8 191.1h.7v.7h-.7zM107.9 191.1h.7v.7h-.7zM110 190.9h.7v.7h-.7zM110.8 190.7h.7v.7h-.7zM112.2 191h.7v.7h-.7zM114 190.7h.7v.7h-.7zM117.1 190.8h.7v.7h-.7zM112 191.4h.7v.7h-.7zM110.8 191.2h.7v.7h-.7zM109.9 191.3h.7v.7h-.7zM108.9 191.4h.7v.7h-.7zM106.6 191.4h.7v.7h-.7zM105.2 191.6h.7v.7h-.7zM102.9 191.6h.7v.7h-.7zM102.4 191.4h.7v.7h-.7zM100.8 191.2h.7v.7h-.7zM100 191.2h.7v.7h-.7zM97.6 191.5h.7v.7h-.7zM96.1 191.4h.7v.7h-.7zM94 191.5h.7v.7h-.7zM86.5 191.4h.7v.7h-.7zM82.8 191.5h.7v.7h-.7zM75.4 191.2h.7v.7h-.7zM72.8 191.4h.7v.7h-.7zM71.1 191.3h.7v.7h-.7zM67.5 192.1h.7v.7h-.7zM71.7 191.7h.7v.7h-.7zM78.2 191.8h.7v.7h-.7zM80.5 191.8h.7v.7h-.7zM82 192h.7v.7h-.7zM84.1 191.9h.7v.7h-.7zM85.5 191.9h.7v.7h-.7zM95.5 191.8h.7v.7h-.7zM96.7 191.8h.7v.7h-.7zM98.4 191.8h.7v.7h-.7zM99.2 191.9h.7v.7h-.7zM101.2 192.1h.7v.7h-.7zM104 191.7h.7v.7h-.7zM104.8 191.7h.7v.7h-.7zM106.6 192.1h.7v.7h-.7zM107.5 192h.7v.7h-.7zM108.7 191.9h.7v.7h-.7zM111.8 191.9h.7v.7h-.7zM114.9 192.4h.7v.7h-.7zM111.3 192.6h.7v.7h-.7zM109.7 192.6h.7v.7h-.7zM107.8 192.5h.7v.7h-.7zM106 192.5h.7v.7h-.7zM104.1 192.4h.7v.7h-.7zM103.1 192.5h.7v.7h-.7zM100.2 192.5h.7v.7h-.7zM95 192.2h.7v.7h-.7zM94.5 192.4h.7v.7h-.7zM86.3 192.5h.7v.7h-.7zM84.4 192.5h.7v.7h-.7zM79.2 192.4h.7v.7h-.7zM77.2 192.4h.7v.7h-.7zM76.3 192.6h.7v.7h-.7zM74.3 192.2h.7v.7h-.7zM68.6 192.2h.7v.7h-.7zM69.8 192.8h.7v.7h-.7zM72.5 192.8h.7v.7h-.7zM83.1 193h.7v.7h-.7zM85.6 193h.7v.7h-.7zM86.4 193h.7v.7h-.7zM95.9 192.7h.7v.7h-.7zM96.3 192.8h.7v.7h-.7zM97.6 192.9h.7v.7h-.7zM98.3 193h.7v.7h-.7zM99.7 193.1h.7v.7h-.7zM101.2 192.9h.7v.7h-.7zM105.1 193.1h.7v.7h-.7zM106.8 192.9h.7v.7h-.7zM108.8 192.7h.7v.7h-.7zM110.1 193h.7v.7h-.7zM111.1 193.1h.7v.7h-.7zM112.7 193.1h.7v.7h-.7zM111.7 193.2h.7v.7h-.7zM109.1 193.5h.7v.7h-.7zM108.1 193.4h.7v.7h-.7zM106.4 193.3h.7v.7h-.7zM105.8 193.6h.7v.7h-.7zM103.8 193.6h.7v.7h-.7zM103.4 193.5h.7v.7h-.7zM102.4 193.5h.7v.7h-.7zM100.4 193.4h.7v.7h-.7zM98.7 193.3h.7v.7h-.7zM97 193.5h.7v.7h-.7zM95.5 193.6h.7v.7h-.7zM94.6 193.2h.7v.7h-.7zM86.7 193.5h.7v.7h-.7zM84.2 193.6h.7v.7h-.7zM80.3 193.2h.7v.7h-.7zM76.6 193.5h.7v.7h-.7zM74.7 193.4h.7v.7h-.7zM71 193.6h.7v.7h-.7zM67.7 193.9h.7v.7h-.7zM78.8 194h.7v.7h-.7zM82.6 194.1h.7v.7h-.7zM84.7 194.1h.7v.7h-.7zM86.8 194.1h.7v.7h-.7zM95.4 193.7h.7v.7h-.7zM97.4 193.8h.7v.7h-.7zM98.4 194.1h.7v.7h-.7zM100.1 193.8h.7v.7h-.7zM101 194h.7v.7h-.7zM102.4 194h.7v.7h-.7zM104 193.7h.7v.7h-.7zM104.8 193.7h.7v.7h-.7zM111.1 194h.7v.7h-.7zM114.1 194.6h.7v.7h-.7zM112.3 194.2h.7v.7h-.7zM111.2 194.4h.7v.7h-.7zM102 194.3h.7v.7h-.7zM98.7 194.4h.7v.7h-.7zM94.7 194.5h.7v.7h-.7zM86 194.4h.7v.7h-.7zM81.9 194.5h.7v.7h-.7zM80.9 194.2h.7v.7h-.7zM77.1 194.2h.7v.7h-.7zM74.2 194.4h.7v.7h-.7zM72.4 194.5h.7v.7h-.7zM69.6 194.5h.7v.7h-.7zM70.5 194.9h.7v.7h-.7zM73.8 195h.7v.7h-.7zM77.7 194.8h.7v.7h-.7zM84.1 194.7h.7v.7h-.7zM85.8 195.1h.7v.7h-.7zM86.8 194.8h.7v.7h-.7zM96 194.9h.7v.7h-.7zM96.8 194.7h.7v.7h-.7zM98.5 194.8h.7v.7h-.7zM100.9 195.1h.7v.7h-.7zM102.6 194.7h.7v.7h-.7zM103.3 195h.7v.7h-.7zM115.7 194.8h.7v.7h-.7zM111.8 195.4h.7v.7h-.7zM104 195.6h.7v.7h-.7zM103 195.6h.7v.7h-.7zM101.5 195.4h.7v.7h-.7zM100.2 195.4h.7v.7h-.7zM99.4 195.5h.7v.7h-.7zM97.6 195.6h.7v.7h-.7zM95.3 195.2h.7v.7h-.7zM86.9 195.5h.7v.7h-.7zM83.1 195.6h.7v.7h-.7zM75.6 195.5h.7v.7h-.7zM72.1 195.4h.7v.7h-.7zM68 195.3h.7v.7h-.7zM68.7 196h.7v.7h-.7zM76.4 196.1h.7v.7h-.7zM79.5 195.7h.7v.7h-.7zM81.4 195.9h.7v.7h-.7zM84.2 195.9h.7v.7h-.7zM85.3 195.8h.7v.7h-.7zM96.1 195.7h.7v.7h-.7zM97 195.7h.7v.7h-.7zM99.8 195.7h.7v.7h-.7zM102 196.1h.7v.7h-.7zM111.2 196.1h.7v.7h-.7zM114.8 196.4h.7v.7h-.7zM113.2 196.4h.7v.7h-.7zM112 196.2h.7v.7h-.7zM103 196.6h.7v.7h-.7zM100.7 196.6h.7v.7h-.7zM99.5 196.4h.7v.7h-.7zM98.2 196.5h.7v.7h-.7zM96.3 196.2h.7v.7h-.7zM86.9 196.5h.7v.7h-.7zM85.7 196.6h.7v.7h-.7zM79.7 196.5h.7v.7h-.7zM78.4 196.5h.7v.7h-.7zM72.8 196.4h.7v.7h-.7zM69.5 196.5h.7v.7h-.7zM71.5 197h.7v.7h-.7zM74.8 196.9h.7v.7h-.7zM77.5 197.1h.7v.7h-.7zM82.5 196.8h.7v.7h-.7zM83.5 197h.7v.7h-.7zM86.9 196.7h.7v.7h-.7zM95.6 196.7h.7v.7h-.7zM97.6 196.8h.7v.7h-.7zM98.4 197h.7v.7h-.7zM100.1 197h.7v.7h-.7zM102.3 196.7h.7v.7h-.7zM103.3 196.8h.7v.7h-.7zM113.1 197.3h.7v.7h-.7zM111.5 197.5h.7v.7h-.7zM101.8 197.6h.7v.7h-.7zM98.9 197.5h.7v.7h-.7zM97.6 197.2h.7v.7h-.7zM94.9 197.6h.7v.7h-.7zM87.6 197.6h.7v.7h-.7zM85.4 197.4h.7v.7h-.7zM84.5 197.6h.7v.7h-.7zM81.3 197.3h.7v.7h-.7zM73.8 197.3h.7v.7h-.7zM70.3 197.2h.7v.7h-.7zM67.6 198h.7v.7h-.7zM69 198h.7v.7h-.7zM72.1 198h.7v.7h-.7zM76.4 197.8h.7v.7h-.7zM79.4 197.9h.7v.7h-.7zM86 198h.7v.7h-.7zM95.5 197.7h.7v.7h-.7zM96.5 197.9h.7v.7h-.7zM98.6 197.8h.7v.7h-.7zM100 197.9h.7v.7h-.7zM101 198h.7v.7h-.7zM102.2 198.1h.7v.7h-.7zM102.8 197.8h.7v.7h-.7zM112.1 197.7h.7v.7h-.7zM116.3 198.3h.7v.7h-.7zM111.6 198.2h.7v.7h-.7zM101.9 198.6h.7v.7h-.7zM100.4 198.4h.7v.7h-.7zM97.5 198.4h.7v.7h-.7zM86.4 198.3h.7v.7h-.7zM83.4 198.6h.7v.7h-.7zM77.6 198.2h.7v.7h-.7zM74.7 198.3h.7v.7h-.7zM68.1 199h.7v.7h-.7zM69.8 199h.7v.7h-.7zM72.8 199h.7v.7h-.7zM78.3 198.8h.7v.7h-.7zM80.1 198.7h.7v.7h-.7zM81.2 198.9h.7v.7h-.7zM82.4 198.9h.7v.7h-.7zM85.4 198.8h.7v.7h-.7zM95.8 198.9h.7v.7h-.7zM97.1 198.9h.7v.7h-.7zM98.3 198.7h.7v.7h-.7zM99.2 198.7h.7v.7h-.7zM100.9 199h.7v.7h-.7zM103.4 198.7h.7v.7h-.7zM111.6 199.1h.7v.7h-.7zM112.3 198.8h.7v.7h-.7zM102.7 199.6h.7v.7h-.7zM102.3 199.4h.7v.7h-.7zM100.8 199.5h.7v.7h-.7zM98.9 199.2h.7v.7h-.7zM97.5 199.5h.7v.7h-.7zM86.3 199.3h.7v.7h-.7zM84.4 199.5h.7v.7h-.7zM76.1 199.5h.7v.7h-.7zM74 199.3h.7v.7h-.7zM71.3 199.3h.7v.7h-.7zM75.4 199.9h.7v.7h-.7zM81.4 199.8h.7v.7h-.7zM83.2 200.1h.7v.7h-.7zM85.6 200.1h.7v.7h-.7zM86.9 199.9h.7v.7h-.7zM98.2 200h.7v.7h-.7zM100.6 199.7h.7v.7h-.7zM112 199.9h.7v.7h-.7zM114.2 200.1h.7v.7h-.7zM112.9 200.6h.7v.7h-.7zM111.6 200.5h.7v.7h-.7zM103.6 200.4h.7v.7h-.7zM101.8 200.4h.7v.7h-.7zM99.7 200.2h.7v.7h-.7zM97.2 200.4h.7v.7h-.7zM86.4 200.4h.7v.7h-.7zM84.4 200.5h.7v.7h-.7zM79 200.5h.7v.7h-.7zM76.8 200.6h.7v.7h-.7zM72.6 200.3h.7v.7h-.7zM70.4 200.4h.7v.7h-.7zM67.8 200.5h.7v.7h-.7zM69.1 201.1h.7v.7h-.7zM72 200.7h.7v.7h-.7zM74.4 200.9h.7v.7h-.7zM79.8 200.7h.7v.7h-.7zM86 200.9h.7v.7h-.7zM98 200.8h.7v.7h-.7zM99.2 200.7h.7v.7h-.7zM100.5 201.1h.7v.7h-.7zM101.7 200.9h.7v.7h-.7zM102.8 201.1h.7v.7h-.7zM111.2 200.8h.7v.7h-.7zM103.4 201.5h.7v.7h-.7zM101.5 201.5h.7v.7h-.7zM98.4 201.4h.7v.7h-.7zM85.1 201.5h.7v.7h-.7zM82.2 201.5h.7v.7h-.7zM78.8 201.3h.7v.7h-.7zM77.6 201.5h.7v.7h-.7zM67.7 201.7h.7v.7h-.7zM70.9 201.9h.7v.7h-.7zM73.7 201.7h.7v.7h-.7zM75.5 202h.7v.7h-.7zM81.1 201.8h.7v.7h-.7zM83.5 201.8h.7v.7h-.7zM85.2 201.7h.7v.7h-.7zM99 202.1h.7v.7h-.7zM99.7 202.1h.7v.7h-.7zM101.9 202.1h.7v.7h-.7zM102.9 201.8h.7v.7h-.7zM111.6 201.7h.7v.7h-.7zM112.2 201.9h.7v.7h-.7zM116.9 202.2h.7v.7h-.7zM103 202.2h.7v.7h-.7zM101 202.2h.7v.7h-.7zM86.4 202.4h.7v.7h-.7zM85.3 202.3h.7v.7h-.7zM84 202.4h.7v.7h-.7zM82.5 202.2h.7v.7h-.7zM79.9 202.2h.7v.7h-.7zM76.3 202.5h.7v.7h-.7zM67.8 203h.7v.7h-.7zM70 202.7h.7v.7h-.7zM72.4 202.8h.7v.7h-.7zM73.5 202.7h.7v.7h-.7zM77.8 202.8h.7v.7h-.7zM84.7 203h.7v.7h-.7zM99.8 202.8h.7v.7h-.7zM100.9 203.1h.7v.7h-.7zM101.8 202.7h.7v.7h-.7zM111.7 202.8h.7v.7h-.7zM113.5 202.9h.7v.7h-.7zM115.6 202.9h.7v.7h-.7zM112.5 203.2h.7v.7h-.7zM111.4 203.5h.7v.7h-.7zM103.6 203.3h.7v.7h-.7zM102.5 203.4h.7v.7h-.7zM99.2 203.3h.7v.7h-.7zM86.1 203.2h.7v.7h-.7zM83.4 203.5h.7v.7h-.7zM81.6 203.6h.7v.7h-.7zM71.4 203.4h.7v.7h-.7zM69.3 203.4h.7v.7h-.7zM72.2 203.7h.7v.7h-.7zM76.8 203.8h.7v.7h-.7zM80.1 204h.7v.7h-.7zM84.7 203.9h.7v.7h-.7zM100 203.9h.7v.7h-.7zM101.2 204.1h.7v.7h-.7zM111.6 203.7h.7v.7h-.7zM112.7 204.3h.7v.7h-.7zM103.6 204.2h.7v.7h-.7zM102.9 204.4h.7v.7h-.7zM100.8 204.3h.7v.7h-.7zM85.5 204.4h.7v.7h-.7zM84.6 204.6h.7v.7h-.7zM82.8 204.3h.7v.7h-.7zM81.3 204.4h.7v.7h-.7zM78.3 204.2h.7v.7h-.7zM75.7 204.5h.7v.7h-.7zM74.3 204.3h.7v.7h-.7zM70.9 204.5h.7v.7h-.7zM67.7 205.1h.7v.7h-.7zM69.8 205h.7v.7h-.7zM73.4 204.8h.7v.7h-.7zM77.9 205.1h.7v.7h-.7zM80.1 204.9h.7v.7h-.7zM82 204.9h.7v.7h-.7zM83.8 205.1h.7v.7h-.7zM102.6 205.1h.7v.7h-.7zM111.8 204.9h.7v.7h-.7zM114.9 205.4h.7v.7h-.7zM101 205.5h.7v.7h-.7zM84.3 205.2h.7v.7h-.7zM76.5 205.3h.7v.7h-.7zM74.8 205.5h.7v.7h-.7zM71.3 205.3h.7v.7h-.7zM68.4 205.7h.7v.7h-.7zM79.4 206.1h.7v.7h-.7zM80.9 206.1h.7v.7h-.7zM82.5 206h.7v.7h-.7zM83.3 206.1h.7v.7h-.7zM101.2 206h.7v.7h-.7zM102.2 205.8h.7v.7h-.7zM112.4 206h.7v.7h-.7zM103 206.3h.7v.7h-.7zM83.3 206.3h.7v.7h-.7zM81.6 206.6h.7v.7h-.7zM77.4 206.3h.7v.7h-.7zM75.6 206.3h.7v.7h-.7zM72.9 206.4h.7v.7h-.7zM69.3 206.3h.7v.7h-.7zM71 207.1h.7v.7h-.7zM72.4 206.8h.7v.7h-.7zM78.6 207.1h.7v.7h-.7zM79.7 206.8h.7v.7h-.7zM82.2 206.9h.7v.7h-.7zM102.3 207h.7v.7h-.7zM116.5 206.9h.7v.7h-.7zM113.5 207.4h.7v.7h-.7zM111.9 207.3h.7v.7h-.7zM103.6 207.5h.7v.7h-.7zM101.4 207.2h.7v.7h-.7zM83.6 207.2h.7v.7h-.7zM81.2 207.3h.7v.7h-.7zM75.8 207.2h.7v.7h-.7zM67.7 207.3h.7v.7h-.7zM69.8 207.8h.7v.7h-.7zM74.1 207.8h.7v.7h-.7zM77 208.1h.7v.7h-.7zM78.4 207.9h.7v.7h-.7zM80.3 207.7h.7v.7h-.7zM82.6 207.8h.7v.7h-.7zM103.8 208h.7v.7h-.7zM112.3 207.9h.7v.7h-.7zM102.8 208.4h.7v.7h-.7zM82.1 208.4h.7v.7h-.7zM80.8 208.3h.7v.7h-.7zM74.9 208.5h.7v.7h-.7zM73 208.4h.7v.7h-.7zM72 208.3h.7v.7h-.7zM69 208.2h.7v.7h-.7zM71.6 208.8h.7v.7h-.7zM77.1 208.9h.7v.7h-.7zM78.2 209.1h.7v.7h-.7zM79.6 208.7h.7v.7h-.7zM81.7 208.8h.7v.7h-.7zM104 208.8h.7v.7h-.7zM104.9 208.7h.7v.7h-.7zM105.5 209.1h.7v.7h-.7zM112 209h.7v.7h-.7zM114.5 209h.7v.7h-.7zM115.5 209.2h.7v.7h-.7zM112.7 209.3h.7v.7h-.7zM106.4 209.3h.7v.7h-.7zM81.3 209.6h.7v.7h-.7zM79.3 209.4h.7v.7h-.7zM78.4 209.6h.7v.7h-.7zM75.9 209.5h.7v.7h-.7zM73.7 209.4h.7v.7h-.7zM69.8 209.2h.7v.7h-.7zM68.2 209.5h.7v.7h-.7zM67.3 209.3h.7v.7h-.7zM74.7 209.9h.7v.7h-.7zM76.6 209.9h.7v.7h-.7zM79.9 210h.7v.7h-.7zM100.8 209.7h.7v.7h-.7zM105.1 210.1h.7v.7h-.7zM106.1 209.8h.7v.7h-.7zM111.8 210.1h.7v.7h-.7zM116.7 209.9h.7v.7h-.7zM109.7 210.5h.7v.7h-.7zM108 210.5h.7v.7h-.7zM107.5 210.5h.7v.7h-.7zM104.1 210.2h.7v.7h-.7zM79 210.2h.7v.7h-.7zM77.8 210.4h.7v.7h-.7zM77.3 210.5h.7v.7h-.7zM74.6 210.4h.7v.7h-.7zM72.5 210.2h.7v.7h-.7zM71.6 210.4h.7v.7h-.7zM69.8 210.4h.7v.7h-.7zM68.9 210.4h.7v.7h-.7zM70.5 211h.7v.7h-.7zM72.7 210.7h.7v.7h-.7zM73.9 210.8h.7v.7h-.7zM75.6 210.7h.7v.7h-.7zM76.3 210.8h.7v.7h-.7zM106.1 210.8h.7v.7h-.7zM106.9 210.8h.7v.7h-.7zM109.5 210.8h.7v.7h-.7zM110.7 211h.7v.7h-.7zM112 210.9h.7v.7h-.7zM111 211.6h.7v.7h-.7zM109.8 211.2h.7v.7h-.7zM107.7 211.5h.7v.7h-.7zM106.5 211.5h.7v.7h-.7zM104.6 211.3h.7v.7h-.7zM77.3 211.5h.7v.7h-.7zM76.1 211.5h.7v.7h-.7zM74.5 211.4h.7v.7h-.7zM71.9 211.5h.7v.7h-.7zM69.5 211.5h.7v.7h-.7zM67.2 211.5h.7v.7h-.7zM68.2 212h.7v.7h-.7zM70.5 211.9h.7v.7h-.7zM72.4 211.8h.7v.7h-.7zM73.5 211.8h.7v.7h-.7zM76.1 211.8h.7v.7h-.7zM100.1 212.1h.7v.7h-.7zM105.2 212h.7v.7h-.7zM107 212.1h.7v.7h-.7zM110.3 211.9h.7v.7h-.7zM111.8 212h.7v.7h-.7zM113.5 211.9h.7v.7h-.7zM111.4 212.4h.7v.7h-.7zM107.3 212.5h.7v.7h-.7zM105.8 212.4h.7v.7h-.7zM104.2 212.2h.7v.7h-.7zM72.7 212.2h.7v.7h-.7zM71.4 212.4h.7v.7h-.7zM69.8 212.5h.7v.7h-.7zM67.3 212.6h.7v.7h-.7zM68 213h.7v.7h-.7zM69.3 212.8h.7v.7h-.7zM70.9 213.1h.7v.7h-.7zM72.1 212.8h.7v.7h-.7zM103.4 213.1h.7v.7h-.7zM106 212.7h.7v.7h-.7zM113.3 213.6h.7v.7h-.7zM111.3 213.5h.7v.7h-.7zM110.2 213.5h.7v.7h-.7zM107.1 213.2h.7v.7h-.7zM99.1 213.6h.7v.7h-.7zM69.2 213.3h.7v.7h-.7zM67.9 213.2h.7v.7h-.7zM66.7 213.4h.7v.7h-.7zM104.4 214.1h.7v.7h-.7zM105.2 213.9h.7v.7h-.7zM106.4 214.1h.7v.7h-.7zM112.5 213.7h.7v.7h-.7zM111 214.5h.7v.7h-.7zM110.4 214.4h.7v.7h-.7zM107 214.3h.7v.7h-.7zM105.8 214.9h.7v.7h-.7zM111.9 214.7h.7v.7h-.7zM111 215.2h.7v.7h-.7zM105.9 215.3h.7v.7h-.7zM104.8 215.6h.7v.7h-.7zM103.5 215.3h.7v.7h-.7zM100.8 215.5h.7v.7h-.7zM110.8 215.9h.7v.7h-.7zM111.7 216.1h.7v.7h-.7zM114.8 216.6h.7v.7h-.7zM97 216.5h.7v.7h-.7zM104.8 217.1h.7v.7h-.7zM106.1 217h.7v.7h-.7zM112.9 217.1h.7v.7h-.7zM112.1 217.2h.7v.7h-.7zM104 217.2h.7v.7h-.7zM112.2 217.7h.7v.7h-.7zM105.4 218.3h.7v.7h-.7zM96.2 218.5h.7v.7h-.7zM104.7 218.7h.7v.7h-.7zM112.5 218.7h.7v.7h-.7zM113.3 219.3h.7v.7h-.7zM95.6 220.1h.7v.7h-.7zM104.4 219.9h.7v.7h-.7zM112.4 219.8h.7v.7h-.7zM105.6 220.3h.7v.7h-.7zM94.4 220.6h.7v.7h-.7zM112.5 220.8h.7v.7h-.7zM104 221.5h.7v.7h-.7zM104.7 222h.7v.7h-.7zM112.4 221.9h.7v.7h-.7zM113.6 222.6h.7v.7h-.7zM94.5 222.9h.7v.7h-.7zM105.8 223h.7v.7h-.7zM112.6 223.4h.7v.7h-.7zM105.2 223.5h.7v.7h-.7zM92.6 223.9h.7v.7h-.7zM111.4 224.5h.7v.7h-.7zM106.3 224.5h.7v.7h-.7zM105.3 224.3h.7v.7h-.7zM91.8 224.7h.7v.7h-.7zM106.3 225h.7v.7h-.7zM112.1 225h.7v.7h-.7zM105.9 225.7h.7v.7h-.7zM110.8 225.8h.7v.7h-.7zM110.5 226.4h.7v.7h-.7zM107.1 226.3h.7v.7h-.7zM90.3 226.3h.7v.7h-.7zM110.2 227.5h.7v.7h-.7zM89.6 227.8h.7v.7h-.7zM106.5 227.9h.7v.7h-.7zM107.6 227.9h.7v.7h-.7zM112.1 227.8h.7v.7h-.7zM110.6 228.4h.7v.7h-.7zM109.2 228.5h.7v.7h-.7zM88.8 229h.7v.7h-.7zM108.9 228.9h.7v.7h-.7zM106.9 229.5h.7v.7h-.7zM107.9 229.8h.7v.7h-.7zM89 230.7h.7v.7h-.7zM88.6 232h.7v.7h-.7zM88.4 233.6h.7v.7h-.7z"/><path fill="#fff" d="M69 186.7h.7v.7h-.7zM69.9 187.1h.7v.7h-.7zM74.4 187.1h.7v.7h-.7zM87.5 187.1h.7v.7h-.7zM73.3 187.2h.7v.7h-.7zM71.2 187.4h.7v.7h-.7zM86.7 188.7h.7v.7h-.7zM87.6 190.6h.7v.7h-.7zM87.2 191.3h.7v.7h-.7zM88.4 192h.7v.7h-.7zM87.9 193.3h.7v.7h-.7zM107.3 193.7h.7v.7h-.7zM108.9 194.1h.7v.7h-.7zM109.8 194h.7v.7h-.7zM106.3 194.3h.7v.7h-.7zM105.4 194.4h.7v.7h-.7zM88 194.9h.7v.7h-.7zM104.2 195.1h.7v.7h-.7zM108.9 194.7h.7v.7h-.7zM111 195.1h.7v.7h-.7zM110.1 195.4h.7v.7h-.7zM106.7 195.5h.7v.7h-.7zM94.5 195.4h.7v.7h-.7zM104.3 195.9h.7v.7h-.7zM105.8 196.1h.7v.7h-.7zM108.4 196.6h.7v.7h-.7zM88.8 196.2h.7v.7h-.7zM87.9 196.4h.7v.7h-.7zM105.4 196.9h.7v.7h-.7zM107.8 196.8h.7v.7h-.7zM109.2 197.1h.7v.7h-.7zM110.2 196.7h.7v.7h-.7zM106.3 197.6h.7v.7h-.7zM103.7 197.2h.7v.7h-.7zM88 198h.7v.7h-.7zM104.5 198h.7v.7h-.7zM109 198.4h.7v.7h-.7zM106.7 198.6h.7v.7h-.7zM104.1 198.5h.7v.7h-.7zM87.3 198.2h.7v.7h-.7zM88.8 198.7h.7v.7h-.7zM108.1 199h.7v.7h-.7zM110.1 199h.7v.7h-.7zM110.7 199.5h.7v.7h-.7zM106 199.6h.7v.7h-.7zM104.3 199.4h.7v.7h-.7zM87.9 199.2h.7v.7h-.7zM103.9 199.7h.7v.7h-.7zM106.9 199.9h.7v.7h-.7zM108.5 200.5h.7v.7h-.7zM104.9 200.3h.7v.7h-.7zM87.4 201.1h.7v.7h-.7zM110 200.9h.7v.7h-.7zM108 201.4h.7v.7h-.7zM106.5 201.2h.7v.7h-.7zM87.1 201.4h.7v.7h-.7zM87.6 201.8h.7v.7h-.7zM104.6 202h.7v.7h-.7zM110.6 201.8h.7v.7h-.7zM108.7 202.5h.7v.7h-.7zM105.6 202.2h.7v.7h-.7zM103.9 202.9h.7v.7h-.7zM106.2 203.1h.7v.7h-.7zM110.4 203.1h.7v.7h-.7zM105.5 203.6h.7v.7h-.7zM86.8 203.4h.7v.7h-.7zM108 204.1h.7v.7h-.7zM110 204.4h.7v.7h-.7zM105.1 204.6h.7v.7h-.7zM103.8 204.6h.7v.7h-.7zM86.6 204.5h.7v.7h-.7zM105.5 204.8h.7v.7h-.7zM106.8 204.7h.7v.7h-.7zM111.4 205.4h.7v.7h-.7zM103.7 205.5h.7v.7h-.7zM85.6 205.2h.7v.7h-.7zM86.3 206h.7v.7h-.7zM104.1 205.8h.7v.7h-.7zM108.5 205.7h.7v.7h-.7zM110 205.9h.7v.7h-.7zM111.2 206.4h.7v.7h-.7zM106.9 206.2h.7v.7h-.7zM104.2 206.4h.7v.7h-.7zM84.8 206.4h.7v.7h-.7zM105.6 207h.7v.7h-.7zM104.6 207.4h.7v.7h-.7zM84.4 207.4h.7v.7h-.7zM84.1 207.7h.7v.7h-.7zM86.1 207.7h.7v.7h-.7zM105.9 208h.7v.7h-.7zM108.4 207.7h.7v.7h-.7zM111.4 208h.7v.7h-.7zM106.7 208.5h.7v.7h-.7zM83 209.1h.7v.7h-.7zM109.2 208.9h.7v.7h-.7zM110.4 208.8h.7v.7h-.7zM111.1 209.5h.7v.7h-.7zM108.5 209.4h.7v.7h-.7zM107.5 209.4h.7v.7h-.7zM81 209.7h.7v.7h-.7zM110.2 210h.7v.7h-.7zM109.1 210.2h.7v.7h-.7zM82.1 210.4h.7v.7h-.7zM79.9 210.5h.7v.7h-.7zM108.7 211.3h.7v.7h-.7zM79.1 211.4h.7v.7h-.7zM77.1 212.1h.7v.7h-.7zM78.4 211.8h.7v.7h-.7zM80.5 211.9h.7v.7h-.7zM108.3 211.8h.7v.7h-.7zM75.1 212.4h.7v.7h-.7zM73.7 212.8h.7v.7h-.7zM75.8 212.8h.7v.7h-.7zM107.3 212.9h.7v.7h-.7zM109.5 213h.7v.7h-.7zM110.1 213h.7v.7h-.7zM70.4 213.2h.7v.7h-.7zM68.3 213.9h.7v.7h-.7zM72 213.9h.7v.7h-.7zM73.9 213.9h.7v.7h-.7zM107.8 213.8h.7v.7h-.7zM108.4 213.8h.7v.7h-.7zM97.7 214.6h.7v.7h-.7zM67.5 214.4h.7v.7h-.7zM69.9 214.8h.7v.7h-.7zM107.7 214.8h.7v.7h-.7zM109.4 214.8h.7v.7h-.7zM106.8 215.5h.7v.7h-.7zM106.3 216.3h.7v.7h-.7zM111.4 218.5h.7v.7h-.7zM105.2 219.5h.7v.7h-.7zM105.8 221.9h.7v.7h-.7zM111.6 222.3h.7v.7h-.7zM110.9 225h.7v.7h-.7zM107.5 227h.7v.7h-.7zM109.3 227.3h.7v.7h-.7zM108.3 228.2h.7v.7h-.7zM87.8 229.2h.7v.7h-.7z"/></g></g>
<rect x="67.5" y="186.3" width="50.2" height="48.7" fill="none" stroke="#9c9c9c" stroke-width="0.9"/>
<g fill="#222" font-size="3.2"><text x="60.9" y="192.33">10<tspan dy="-1.2" font-size="2.4">4</tspan></text><rect x="66.2" y="190.58" width="1.3" height=".7" opacity=".8"/><text x="60.9" y="203.04">10<tspan dy="-1.2" font-size="2.4">3</tspan></text><rect x="66.2" y="201.29" width="1.3" height=".7" opacity=".8"/><text x="60.9" y="214.24">10<tspan dy="-1.2" font-size="2.4">2</tspan></text><rect x="66.2" y="212.49" width="1.3" height=".7" opacity=".8"/><text x="60.9" y="225.69">10<tspan dy="-1.2" font-size="2.4">1</tspan></text><rect x="66.2" y="223.94" width="1.3" height=".7" opacity=".8"/><text x="63.1" y="231.37">0</text><rect x="66.2" y="230.02" width="1.3" height=".7" opacity=".8"/><text x="75.84" y="240.2">10<tspan dy="-1.2" font-size="2.4">1</tspan></text><rect x="77.69" y="235" width=".7" height="1.3" opacity=".8"/><text x="87.99" y="240.2">10<tspan dy="-1.2" font-size="2.4">2</tspan></text><rect x="89.84" y="235" width=".7" height="1.3" opacity=".8"/><text x="99.03" y="240.2">10<tspan dy="-1.2" font-size="2.4">3</tspan></text><rect x="100.88" y="235" width=".7" height="1.3" opacity=".8"/><text x="111.23" y="240.2">10<tspan dy="-1.2" font-size="2.4">4</tspan></text><rect x="113.08" y="235" width=".7" height="1.3" opacity=".8"/><text x="72.12" y="240.2">0</text><rect x="72.57" y="235" width=".7" height="1.3" opacity=".8"/></g>
<rect x="102.5" y="214.2" width="11.8" height="20.8" fill="none" stroke="#888" stroke-width="0.9"/>
<rect x="88.6" y="227.6" width="14.6" height="7.4" fill="#fff"/>
<text x="89.9" y="234.7" font-size="9.3" text-anchor="start" fill="#111" stroke="#111" stroke-width=".2">2.3</text>
<g clip-path="url(#c4)"><g filter="url(#bl)"><path fill="#000" d="M171.5 26.5h4.5v0.5h-4.5zM169.5 27h8v0.5h-8zM168 27.5h10.5v0.5h-10.5zM167 28h12v0.5h-12zM166 28.5h13.5v0.5h-13.5zM165 29h14.5v0.5h-14.5zM164 29.5h16v0.5h-16zM163 30h17v0.5h-17zM162.5 30.5h17.5v0.5h-17.5zM161.5 31h18.5v0.5h-18.5zM161 31.5h18.5v0.5h-18.5zM160.5 32h19v0.5h-19zM160 32.5h19v0.5h-19zM159.5 33h19v0.5h-19zM158.5 33.5h19.5v0.5h-19.5zM158 34h19.5v0.5h-19.5zM158 34.5h18.5v0.5h-18.5zM159.5 35h16v0.5h-16zM162 35.5h12.5v0.5h-12.5zM166.5 36h5v0.5h-5z"/><path fill="#000" d="M172.1 23.9h.7v.7h-.7zM176.5 23.8h.7v.7h-.7zM177.3 24.2h.7v.7h-.7zM174.5 24.3h.7v.7h-.7zM173 24.4h.7v.7h-.7zM169.7 24.5h.7v.7h-.7zM175.6 25h.7v.7h-.7zM179.9 24.9h.7v.7h-.7zM180.8 25.3h.7v.7h-.7zM179 25.6h.7v.7h-.7zM175.8 25.4h.7v.7h-.7zM174.5 25.2h.7v.7h-.7zM171.2 25.5h.7v.7h-.7zM168.3 25.4h.7v.7h-.7zM166.6 25.2h.7v.7h-.7zM170 25.9h.7v.7h-.7zM170.8 25.9h.7v.7h-.7zM172.5 25.7h.7v.7h-.7zM173.6 25.8h.7v.7h-.7zM174.6 25.8h.7v.7h-.7zM176.9 25.8h.7v.7h-.7zM178.2 25.9h.7v.7h-.7zM177.4 26.2h.7v.7h-.7zM170.4 26.4h.7v.7h-.7zM168.9 26.4h.7v.7h-.7zM168.1 26.3h.7v.7h-.7zM166.5 26.3h.7v.7h-.7zM164.9 26.6h.7v.7h-.7zM163 26.3h.7v.7h-.7zM168.4 26.8h.7v.7h-.7zM177.5 26.7h.7v.7h-.7zM178.5 26.7h.7v.7h-.7zM180.3 26.8h.7v.7h-.7zM183.4 26.9h.7v.7h-.7zM185.4 27.3h.7v.7h-.7zM182.4 27.5h.7v.7h-.7zM179.4 27.4h.7v.7h-.7zM167.4 27.3h.7v.7h-.7zM166.2 27.4h.7v.7h-.7zM163.2 27.3h.7v.7h-.7zM160.6 27.9h.7v.7h-.7zM161.2 27.7h.7v.7h-.7zM164.8 28.1h.7v.7h-.7zM166 27.8h.7v.7h-.7zM179.4 27.8h.7v.7h-.7zM180.9 27.9h.7v.7h-.7zM182 27.9h.7v.7h-.7zM163.7 28.5h.7v.7h-.7zM162.2 28.6h.7v.7h-.7zM159 28.3h.7v.7h-.7zM164.2 29.1h.7v.7h-.7zM179.4 28.9h.7v.7h-.7zM180.1 29h.7v.7h-.7zM181.4 28.8h.7v.7h-.7zM183.7 29.4h.7v.7h-.7zM163.5 29.3h.7v.7h-.7zM162.7 29.2h.7v.7h-.7zM162.1 29.3h.7v.7h-.7zM160.7 29.5h.7v.7h-.7zM157.8 29.4h.7v.7h-.7zM156.3 29.5h.7v.7h-.7zM154.4 29.7h.7v.7h-.7zM159.9 29.7h.7v.7h-.7zM180.2 30h.7v.7h-.7zM181.9 29.9h.7v.7h-.7zM183 29.8h.7v.7h-.7zM186 30h.7v.7h-.7zM180.7 30.3h.7v.7h-.7zM179.8 30.4h.7v.7h-.7zM161.7 30.2h.7v.7h-.7zM161 30.5h.7v.7h-.7zM157.7 30.6h.7v.7h-.7zM152.5 30.3h.7v.7h-.7zM158.9 31.1h.7v.7h-.7zM160.1 31.1h.7v.7h-.7zM181.4 31.3h.7v.7h-.7zM180.3 31.4h.7v.7h-.7zM158.6 31.4h.7v.7h-.7zM155.7 31.6h.7v.7h-.7zM149.2 31.8h.7v.7h-.7zM156.9 32h.7v.7h-.7zM159.5 31.9h.7v.7h-.7zM159.8 32h.7v.7h-.7zM180 32.1h.7v.7h-.7zM182.4 31.8h.7v.7h-.7zM185.4 31.8h.7v.7h-.7zM179 32.3h.7v.7h-.7zM158.9 32.3h.7v.7h-.7zM157.5 32.2h.7v.7h-.7zM153.5 32.5h.7v.7h-.7zM146.8 33.1h.7v.7h-.7zM154.8 32.9h.7v.7h-.7zM155.3 32.7h.7v.7h-.7zM156.4 32.8h.7v.7h-.7zM158.2 33h.7v.7h-.7zM178.5 32.8h.7v.7h-.7zM180.3 32.8h.7v.7h-.7zM182.3 33.5h.7v.7h-.7zM178.8 33.4h.7v.7h-.7zM156 33.2h.7v.7h-.7zM152.8 33.4h.7v.7h-.7zM151.9 33.5h.7v.7h-.7zM148.9 33.8h.7v.7h-.7zM151.4 33.8h.7v.7h-.7zM154.1 33.7h.7v.7h-.7zM156.5 34.1h.7v.7h-.7zM157.3 34h.7v.7h-.7zM177.7 33.8h.7v.7h-.7zM180.4 33.8h.7v.7h-.7zM156.8 34.3h.7v.7h-.7zM155.2 34.5h.7v.7h-.7zM154.6 34.2h.7v.7h-.7zM152.4 34.6h.7v.7h-.7zM150.2 34.6h.7v.7h-.7zM147.8 34.5h.7v.7h-.7zM142.9 35h.7v.7h-.7zM144.9 34.9h.7v.7h-.7zM146.1 34.7h.7v.7h-.7zM149.3 34.9h.7v.7h-.7zM151.4 35.1h.7v.7h-.7zM153.6 34.7h.7v.7h-.7zM155.3 35h.7v.7h-.7zM157 35.1h.7v.7h-.7zM159.1 35.1h.7v.7h-.7zM176.3 34.8h.7v.7h-.7zM177.2 34.8h.7v.7h-.7zM183.7 34.9h.7v.7h-.7zM180.2 35.2h.7v.7h-.7zM179 35.5h.7v.7h-.7zM176.6 35.4h.7v.7h-.7zM175.6 35.3h.7v.7h-.7zM161.5 35.5h.7v.7h-.7zM160.5 35.5h.7v.7h-.7zM159.1 35.5h.7v.7h-.7zM158.1 35.2h.7v.7h-.7zM157.1 35.3h.7v.7h-.7zM154.8 35.3h.7v.7h-.7zM152.8 35.5h.7v.7h-.7zM148 35.5h.7v.7h-.7zM149.7 35.7h.7v.7h-.7zM151.8 36h.7v.7h-.7zM153.7 36.1h.7v.7h-.7zM156.1 35.7h.7v.7h-.7zM158.6 36.1h.7v.7h-.7zM160.8 36.1h.7v.7h-.7zM162.3 36.1h.7v.7h-.7zM163.5 35.7h.7v.7h-.7zM164 36h.7v.7h-.7zM165 35.9h.7v.7h-.7zM171.2 35.9h.7v.7h-.7zM172.8 36h.7v.7h-.7zM174.3 35.8h.7v.7h-.7zM175.3 36.3h.7v.7h-.7zM173.5 36.2h.7v.7h-.7zM172.1 36.6h.7v.7h-.7zM168.3 36.6h.7v.7h-.7zM165.3 36.6h.7v.7h-.7zM163.1 36.2h.7v.7h-.7zM161.7 36.6h.7v.7h-.7zM159.4 36.4h.7v.7h-.7zM156.5 36.4h.7v.7h-.7zM154.7 36.3h.7v.7h-.7zM148.7 36.5h.7v.7h-.7zM144.9 36.4h.7v.7h-.7zM141 36.8h.7v.7h-.7zM146.9 36.9h.7v.7h-.7zM149.7 37.1h.7v.7h-.7zM150.7 36.7h.7v.7h-.7zM158.1 36.8h.7v.7h-.7zM163.7 37.1h.7v.7h-.7zM166.4 36.9h.7v.7h-.7zM167.3 37h.7v.7h-.7zM169.1 36.9h.7v.7h-.7zM170.5 37h.7v.7h-.7zM178 37.1h.7v.7h-.7zM177.1 37.3h.7v.7h-.7zM172.3 37.3h.7v.7h-.7zM164.5 37.2h.7v.7h-.7zM161.1 37.5h.7v.7h-.7zM143 37.9h.7v.7h-.7zM153.1 38.1h.7v.7h-.7zM159.9 37.9h.7v.7h-.7zM166.5 37.9h.7v.7h-.7zM168.5 38h.7v.7h-.7zM171.6 37.7h.7v.7h-.7zM174 38h.7v.7h-.7zM170.5 38.5h.7v.7h-.7zM162 38.5h.7v.7h-.7zM164.8 38.9h.7v.7h-.7zM167.2 39.3h.7v.7h-.7zM156.9 39.5h.7v.7h-.7zM175.1 39.9h.7v.7h-.7zM181.3 40.4h.7v.7h-.7zM159.2 40.5h.7v.7h-.7zM154.4 41h.7v.7h-.7zM163.9 41h.7v.7h-.7z"/><path fill="#fff" d="M173.5 26.6h.7v.7h-.7zM171.1 26.8h.7v.7h-.7zM172.6 27h.7v.7h-.7zM175.1 27.1h.7v.7h-.7zM175.9 26.8h.7v.7h-.7zM168.1 28.1h.7v.7h-.7zM177.6 27.7h.7v.7h-.7zM178.5 27.8h.7v.7h-.7zM166.6 28.3h.7v.7h-.7zM164.8 29h.7v.7h-.7zM178.8 30h.7v.7h-.7zM163.5 30.4h.7v.7h-.7zM179.5 30.7h.7v.7h-.7zM177.7 31.4h.7v.7h-.7zM161.4 31.2h.7v.7h-.7zM178.9 32.1h.7v.7h-.7zM160.9 32.3h.7v.7h-.7zM159.7 33.1h.7v.7h-.7zM177.3 33.5h.7v.7h-.7zM158.6 33.7h.7v.7h-.7zM160.4 33.8h.7v.7h-.7zM176.3 33.9h.7v.7h-.7zM175.2 34.3h.7v.7h-.7zM161.9 34.5h.7v.7h-.7zM158.5 34.5h.7v.7h-.7zM159.7 35.1h.7v.7h-.7zM162.6 35.1h.7v.7h-.7zM164.2 34.8h.7v.7h-.7zM174.1 35.4h.7v.7h-.7zM173.1 35.5h.7v.7h-.7zM170.5 35.3h.7v.7h-.7zM166.2 35.5h.7v.7h-.7zM166.5 35.8h.7v.7h-.7zM167.7 35.9h.7v.7h-.7zM169.4 36h.7v.7h-.7z"/></g></g>
<rect x="140.6" y="20.4" width="49.8" height="48.6" fill="none" stroke="#9c9c9c" stroke-width="0.9"/>
<g fill="#222" font-size="3.2"><text x="134" y="26.42">10<tspan dy="-1.2" font-size="2.4">4</tspan></text><rect x="139.3" y="24.67" width="1.3" height=".7" opacity=".8"/><text x="134" y="37.11">10<tspan dy="-1.2" font-size="2.4">3</tspan></text><rect x="139.3" y="35.36" width="1.3" height=".7" opacity=".8"/><text x="134" y="48.29">10<tspan dy="-1.2" font-size="2.4">2</tspan></text><rect x="139.3" y="46.54" width="1.3" height=".7" opacity=".8"/><text x="134" y="59.71">10<tspan dy="-1.2" font-size="2.4">1</tspan></text><rect x="139.3" y="57.96" width="1.3" height=".7" opacity=".8"/><text x="136.2" y="65.38">0</text><rect x="139.3" y="64.03" width="1.3" height=".7" opacity=".8"/><text x="148.86" y="74.2">10<tspan dy="-1.2" font-size="2.4">1</tspan></text><rect x="150.71" y="69" width=".7" height="1.3" opacity=".8"/><text x="160.91" y="74.2">10<tspan dy="-1.2" font-size="2.4">2</tspan></text><rect x="162.76" y="69" width=".7" height="1.3" opacity=".8"/><text x="171.87" y="74.2">10<tspan dy="-1.2" font-size="2.4">3</tspan></text><rect x="173.72" y="69" width=".7" height="1.3" opacity=".8"/><text x="183.97" y="74.2">10<tspan dy="-1.2" font-size="2.4">4</tspan></text><rect x="185.82" y="69" width=".7" height="1.3" opacity=".8"/><text x="145.18" y="74.2">0</text><rect x="145.63" y="69" width=".7" height="1.3" opacity=".8"/></g>
<path d="M140.6 24.1L190.4 24.1" stroke="#858585" stroke-width="1.25" fill="none"/>
<path d="M167.6 24.1L167.6 69" stroke="#858585" stroke-width="1.25" fill="none"/>
<text x="141.35" y="68.7" font-size="9.5" text-anchor="start" fill="#111" stroke="#111" stroke-width=".25">22</text>
<text x="189.8" y="68.7" font-size="9.5" text-anchor="end" fill="#111" stroke="#111" stroke-width=".25">78</text>
<g clip-path="url(#c5)"><g filter="url(#bl)"><path fill="#000" d="M170.5 111.5h1v0.5h-1zM168 112h6v0.5h-6zM166.5 112.5h8.5v0.5h-8.5zM165.5 113h10.5v0.5h-10.5zM164.5 113.5h12v0.5h-12zM164 114h13v0.5h-13zM163 114.5h14v0.5h-14zM162.5 115h15v0.5h-15zM161.5 115.5h16v0.5h-16zM161 116h17v0.5h-17zM160.5 116.5h17.5v0.5h-17.5zM159.5 117h18.5v0.5h-18.5zM159 117.5h19v0.5h-19zM158.5 118h19.5v0.5h-19.5zM157.5 118.5h20.5v0.5h-20.5zM157 119h21v0.5h-21zM156 119.5h21.5v0.5h-21.5zM155.5 120h22v0.5h-22zM154.5 120.5h22.5v0.5h-22.5zM154.5 121h22.5v0.5h-22.5zM154 121.5h22.5v0.5h-22.5zM154.5 122h21.5v0.5h-21.5zM154.5 122.5h21v0.5h-21zM155 123h20v0.5h-20zM155.5 123.5h19v0.5h-19zM156 124h18v0.5h-18zM156.5 124.5h16.5v0.5h-16.5zM156.5 125h15.5v0.5h-15.5zM157 125.5h14v0.5h-14zM158 126h12.5v0.5h-12.5zM158.5 126.5h11.5v0.5h-11.5zM160 127h9.5v0.5h-9.5zM166 127.5h3v0.5h-3zM167 128h2v0.5h-2z"/><path fill="#000" d="M171.5 107.2h.7v.7h-.7zM168.6 107.7h.7v.7h-.7zM177.4 108.3h.7v.7h-.7zM174.8 108.4h.7v.7h-.7zM172.7 108.6h.7v.7h-.7zM170.6 108.3h.7v.7h-.7zM165.5 109h.7v.7h-.7zM176.6 108.8h.7v.7h-.7zM173.8 109.3h.7v.7h-.7zM172.1 109.5h.7v.7h-.7zM168.9 109.3h.7v.7h-.7zM167.8 109.6h.7v.7h-.7zM162.5 109.4h.7v.7h-.7zM164.5 109.9h.7v.7h-.7zM166.8 109.7h.7v.7h-.7zM170.5 109.9h.7v.7h-.7zM173.3 110h.7v.7h-.7zM175.2 110.1h.7v.7h-.7zM180.3 109.9h.7v.7h-.7zM182.4 110.4h.7v.7h-.7zM177.6 110.3h.7v.7h-.7zM172.5 110.3h.7v.7h-.7zM168.8 110.3h.7v.7h-.7zM166 110.2h.7v.7h-.7zM159.4 110.9h.7v.7h-.7zM161.4 110.8h.7v.7h-.7zM167 110.9h.7v.7h-.7zM167.7 111.1h.7v.7h-.7zM169.9 111.1h.7v.7h-.7zM170.6 111.1h.7v.7h-.7zM171.5 111.1h.7v.7h-.7zM174.2 110.9h.7v.7h-.7zM179.4 110.8h.7v.7h-.7zM177.1 111.2h.7v.7h-.7zM174.9 111.2h.7v.7h-.7zM174.1 111.4h.7v.7h-.7zM173.3 111.6h.7v.7h-.7zM171.7 111.3h.7v.7h-.7zM169.4 111.6h.7v.7h-.7zM168.3 111.5h.7v.7h-.7zM165.4 111.3h.7v.7h-.7zM164.1 111.4h.7v.7h-.7zM156.5 112h.7v.7h-.7zM163 112.1h.7v.7h-.7zM166.5 112.1h.7v.7h-.7zM166.8 111.8h.7v.7h-.7zM175.2 111.7h.7v.7h-.7zM176.4 112.1h.7v.7h-.7zM178.4 112.1h.7v.7h-.7zM180.5 112.6h.7v.7h-.7zM177.5 112.3h.7v.7h-.7zM174.8 112.3h.7v.7h-.7zM165.8 112.2h.7v.7h-.7zM164.7 112.6h.7v.7h-.7zM163.8 112.2h.7v.7h-.7zM162 112.3h.7v.7h-.7zM160.2 112.6h.7v.7h-.7zM158.3 113.1h.7v.7h-.7zM164.7 112.9h.7v.7h-.7zM176.2 112.7h.7v.7h-.7zM178.8 112.7h.7v.7h-.7zM185.9 113.6h.7v.7h-.7zM181.6 113.4h.7v.7h-.7zM178 113.6h.7v.7h-.7zM176.4 113.4h.7v.7h-.7zM163.8 113.2h.7v.7h-.7zM162.9 113.2h.7v.7h-.7zM162 113.3h.7v.7h-.7zM153.9 113.5h.7v.7h-.7zM151.4 113.9h.7v.7h-.7zM155.7 113.8h.7v.7h-.7zM159.5 113.8h.7v.7h-.7zM161.2 113.8h.7v.7h-.7zM177.9 114h.7v.7h-.7zM184.6 113.7h.7v.7h-.7zM182.5 114.5h.7v.7h-.7zM180.5 114.3h.7v.7h-.7zM179.2 114.4h.7v.7h-.7zM177.2 114.4h.7v.7h-.7zM162.4 114.2h.7v.7h-.7zM160.2 114.6h.7v.7h-.7zM158.6 114.4h.7v.7h-.7zM156.2 114.7h.7v.7h-.7zM161.6 115h.7v.7h-.7zM178.6 114.7h.7v.7h-.7zM180.4 115.5h.7v.7h-.7zM177.2 115.3h.7v.7h-.7zM160.8 115.3h.7v.7h-.7zM159.7 115.6h.7v.7h-.7zM158.9 115.5h.7v.7h-.7zM157.4 115.5h.7v.7h-.7zM153.8 115.6h.7v.7h-.7zM155.3 115.9h.7v.7h-.7zM160.6 116h.7v.7h-.7zM177.8 115.8h.7v.7h-.7zM179.5 116.1h.7v.7h-.7zM184 115.8h.7v.7h-.7zM182 116.4h.7v.7h-.7zM178.9 116.4h.7v.7h-.7zM160.1 116.2h.7v.7h-.7zM158.6 116.5h.7v.7h-.7zM157.5 116.4h.7v.7h-.7zM147.2 116.3h.7v.7h-.7zM154.1 116.7h.7v.7h-.7zM156.4 116.7h.7v.7h-.7zM158.3 117h.7v.7h-.7zM177.7 117h.7v.7h-.7zM180 116.7h.7v.7h-.7zM178.8 117.5h.7v.7h-.7zM158.5 117.6h.7v.7h-.7zM157.5 117.4h.7v.7h-.7zM154.2 117.2h.7v.7h-.7zM151.7 117.5h.7v.7h-.7zM149.9 117.2h.7v.7h-.7zM145 118.1h.7v.7h-.7zM155.2 117.7h.7v.7h-.7zM156.3 118h.7v.7h-.7zM178 118.1h.7v.7h-.7zM180.3 118h.7v.7h-.7zM183.5 117.8h.7v.7h-.7zM178.8 118.6h.7v.7h-.7zM178.1 118.5h.7v.7h-.7zM156.4 118.5h.7v.7h-.7zM154.5 118.5h.7v.7h-.7zM153 118.4h.7v.7h-.7zM148.8 118.3h.7v.7h-.7zM150.4 118.9h.7v.7h-.7zM152 119h.7v.7h-.7zM155 119h.7v.7h-.7zM156.6 118.9h.7v.7h-.7zM180.1 118.8h.7v.7h-.7zM181.5 118.8h.7v.7h-.7zM179.1 119.3h.7v.7h-.7zM177.9 119.6h.7v.7h-.7zM155.4 119.4h.7v.7h-.7zM153.9 119.3h.7v.7h-.7zM153 119.4h.7v.7h-.7zM150.7 119.3h.7v.7h-.7zM148.6 119.5h.7v.7h-.7zM142.5 119.3h.7v.7h-.7zM149.3 119.9h.7v.7h-.7zM152.8 119.9h.7v.7h-.7zM154.9 119.7h.7v.7h-.7zM178.4 120h.7v.7h-.7zM179.7 119.9h.7v.7h-.7zM186.1 120.2h.7v.7h-.7zM181.4 120.4h.7v.7h-.7zM177.2 120.3h.7v.7h-.7zM153.8 120.5h.7v.7h-.7zM152.4 120.3h.7v.7h-.7zM151.2 120.2h.7v.7h-.7zM147.3 120.2h.7v.7h-.7zM146.6 120.2h.7v.7h-.7zM143.6 120.2h.7v.7h-.7zM144.4 120.9h.7v.7h-.7zM148.8 120.9h.7v.7h-.7zM150.5 120.9h.7v.7h-.7zM153.7 120.7h.7v.7h-.7zM182.8 120.7h.7v.7h-.7zM178.7 121.4h.7v.7h-.7zM178 121.6h.7v.7h-.7zM177.2 121.5h.7v.7h-.7zM176.5 121.5h.7v.7h-.7zM153 121.5h.7v.7h-.7zM151.9 121.3h.7v.7h-.7zM150.1 121.3h.7v.7h-.7zM147 121.5h.7v.7h-.7zM145.6 121.4h.7v.7h-.7zM148.1 122h.7v.7h-.7zM150.8 121.9h.7v.7h-.7zM153.1 121.9h.7v.7h-.7zM153.9 122h.7v.7h-.7zM176.1 121.8h.7v.7h-.7zM180.3 121.8h.7v.7h-.7zM179.6 122.2h.7v.7h-.7zM176.9 122.3h.7v.7h-.7zM153.4 122.2h.7v.7h-.7zM151.7 122.6h.7v.7h-.7zM149.7 122.5h.7v.7h-.7zM148.8 122.6h.7v.7h-.7zM142.8 122.3h.7v.7h-.7zM146.6 122.8h.7v.7h-.7zM150.7 122.8h.7v.7h-.7zM152.2 122.7h.7v.7h-.7zM154.5 122.9h.7v.7h-.7zM174.9 122.9h.7v.7h-.7zM175.9 122.7h.7v.7h-.7zM177.9 123.2h.7v.7h-.7zM175 123.5h.7v.7h-.7zM154.2 123.4h.7v.7h-.7zM153.2 123.2h.7v.7h-.7zM149.8 123.4h.7v.7h-.7zM147.3 123.6h.7v.7h-.7zM145.8 123.7h.7v.7h-.7zM149.1 123.8h.7v.7h-.7zM151.9 124.1h.7v.7h-.7zM153.1 123.7h.7v.7h-.7zM154.6 123.8h.7v.7h-.7zM175.6 123.7h.7v.7h-.7zM176.9 123.9h.7v.7h-.7zM180.4 124.1h.7v.7h-.7zM174.4 124.3h.7v.7h-.7zM173.2 124.6h.7v.7h-.7zM173 124.4h.7v.7h-.7zM156 124.3h.7v.7h-.7zM155 124.6h.7v.7h-.7zM150.9 124.2h.7v.7h-.7zM145 124.9h.7v.7h-.7zM152.8 125.1h.7v.7h-.7zM153.7 125.1h.7v.7h-.7zM172.5 124.9h.7v.7h-.7zM175.5 125h.7v.7h-.7zM178.8 125h.7v.7h-.7zM184.1 125.1h.7v.7h-.7zM186.7 125.3h.7v.7h-.7zM177.9 125.6h.7v.7h-.7zM176.5 125.2h.7v.7h-.7zM174.2 125.3h.7v.7h-.7zM171.7 125.5h.7v.7h-.7zM156.6 125.5h.7v.7h-.7zM155.3 125.4h.7v.7h-.7zM152.3 125.6h.7v.7h-.7zM142 125.6h.7v.7h-.7zM150.6 125.8h.7v.7h-.7zM154.9 125.9h.7v.7h-.7zM156.9 126h.7v.7h-.7zM173 126.1h.7v.7h-.7zM174 126.4h.7v.7h-.7zM171.4 126.4h.7v.7h-.7zM170.3 126.3h.7v.7h-.7zM158 126.4h.7v.7h-.7zM155.9 126.4h.7v.7h-.7zM154.5 126.5h.7v.7h-.7zM152.5 126.6h.7v.7h-.7zM148.9 126.6h.7v.7h-.7zM153.4 126.8h.7v.7h-.7zM156.2 126.7h.7v.7h-.7zM157.4 127.1h.7v.7h-.7zM169.2 127h.7v.7h-.7zM169.8 126.8h.7v.7h-.7zM172.5 127h.7v.7h-.7zM176.1 126.9h.7v.7h-.7zM171.5 127.5h.7v.7h-.7zM165.5 127.2h.7v.7h-.7zM163.9 127.4h.7v.7h-.7zM162.8 127.4h.7v.7h-.7zM161.9 127.4h.7v.7h-.7zM160.8 127.3h.7v.7h-.7zM158.9 127.2h.7v.7h-.7zM155.3 127.5h.7v.7h-.7zM151.2 127.4h.7v.7h-.7zM149.9 127.7h.7v.7h-.7zM152.3 127.8h.7v.7h-.7zM154.4 128h.7v.7h-.7zM156.8 127.9h.7v.7h-.7zM158.4 128h.7v.7h-.7zM159.3 127.9h.7v.7h-.7zM161.3 127.9h.7v.7h-.7zM163.3 127.8h.7v.7h-.7zM165.1 127.9h.7v.7h-.7zM166.3 128h.7v.7h-.7zM170 127.7h.7v.7h-.7zM173.4 127.9h.7v.7h-.7zM181.3 127.9h.7v.7h-.7zM171.3 128.2h.7v.7h-.7zM168.8 128.2h.7v.7h-.7zM167.8 128.5h.7v.7h-.7zM165.7 128.6h.7v.7h-.7zM164.4 128.2h.7v.7h-.7zM162.9 128.6h.7v.7h-.7zM160.2 128.5h.7v.7h-.7zM157.5 128.3h.7v.7h-.7zM155.7 128.4h.7v.7h-.7zM147.9 128.7h.7v.7h-.7zM153.5 128.9h.7v.7h-.7zM158.5 128.9h.7v.7h-.7zM159.3 128.9h.7v.7h-.7zM161.6 129.1h.7v.7h-.7zM162.3 129.1h.7v.7h-.7zM165.3 128.8h.7v.7h-.7zM166.4 128.7h.7v.7h-.7zM167.4 128.8h.7v.7h-.7zM170.2 129h.7v.7h-.7zM168.4 129.6h.7v.7h-.7zM167 129.6h.7v.7h-.7zM163.9 129.5h.7v.7h-.7zM161.1 129.4h.7v.7h-.7zM157.3 129.6h.7v.7h-.7zM156.2 129.6h.7v.7h-.7zM152 130.1h.7v.7h-.7zM159.4 129.8h.7v.7h-.7zM161.9 129.7h.7v.7h-.7zM167.6 130.1h.7v.7h-.7zM169.6 130.1h.7v.7h-.7zM177 130.1h.7v.7h-.7zM174.5 130.2h.7v.7h-.7zM171.7 130.6h.7v.7h-.7zM169.1 130.6h.7v.7h-.7zM166.2 130.4h.7v.7h-.7zM164.7 130.4h.7v.7h-.7zM158.3 130.6h.7v.7h-.7zM156.1 130.3h.7v.7h-.7zM154.6 130.6h.7v.7h-.7zM149.9 130.3h.7v.7h-.7zM162.1 131.1h.7v.7h-.7zM163.2 130.9h.7v.7h-.7zM167.7 130.7h.7v.7h-.7zM165.7 131.6h.7v.7h-.7zM159.2 131.6h.7v.7h-.7zM146.5 131.5h.7v.7h-.7zM167.3 132h.7v.7h-.7zM169.5 131.7h.7v.7h-.7zM156.8 132.5h.7v.7h-.7zM153.9 132.3h.7v.7h-.7zM166.9 132.8h.7v.7h-.7zM169 133h.7v.7h-.7zM165.5 133.4h.7v.7h-.7zM160.9 133.5h.7v.7h-.7zM163.2 133.7h.7v.7h-.7zM167.2 133.8h.7v.7h-.7zM169.2 134.7h.7v.7h-.7zM158.4 135.2h.7v.7h-.7zM167.4 137.3h.7v.7h-.7zM151.9 137.9h.7v.7h-.7z"/><path fill="#fff" d="M171.4 111.7h.7v.7h-.7zM172.7 111.9h.7v.7h-.7zM173.7 112.2h.7v.7h-.7zM169.5 112.5h.7v.7h-.7zM175.3 113h.7v.7h-.7zM167.3 113.4h.7v.7h-.7zM165 114.1h.7v.7h-.7zM175.8 114.6h.7v.7h-.7zM163.7 114.3h.7v.7h-.7zM162.8 114.9h.7v.7h-.7zM176.8 114.8h.7v.7h-.7zM161.9 115.2h.7v.7h-.7zM159.2 116.7h.7v.7h-.7zM161.1 117h.7v.7h-.7zM176.2 117.1h.7v.7h-.7zM176.8 117.4h.7v.7h-.7zM159.5 118.3h.7v.7h-.7zM158 118.6h.7v.7h-.7zM177.1 119.5h.7v.7h-.7zM156.4 119.8h.7v.7h-.7zM157.4 119.8h.7v.7h-.7zM177 119.8h.7v.7h-.7zM175.9 120.4h.7v.7h-.7zM155.1 120.7h.7v.7h-.7zM155.9 121.6h.7v.7h-.7zM157.1 121.8h.7v.7h-.7zM174.9 121.8h.7v.7h-.7zM155.3 122.4h.7v.7h-.7zM173.3 122.9h.7v.7h-.7zM174.1 123.4h.7v.7h-.7zM155.3 123.2h.7v.7h-.7zM156.8 124h.7v.7h-.7zM172.1 124.6h.7v.7h-.7zM158.6 124.4h.7v.7h-.7zM156.3 124.3h.7v.7h-.7zM170.7 124.8h.7v.7h-.7zM170.4 125.2h.7v.7h-.7zM160.1 125.5h.7v.7h-.7zM157.2 125.3h.7v.7h-.7zM158.4 126h.7v.7h-.7zM162.8 125.9h.7v.7h-.7zM165.5 126h.7v.7h-.7zM168.9 125.7h.7v.7h-.7zM161.8 126.2h.7v.7h-.7zM160.3 126.3h.7v.7h-.7zM158.7 126.5h.7v.7h-.7zM159.8 127h.7v.7h-.7zM164.5 126.7h.7v.7h-.7zM166.3 126.9h.7v.7h-.7zM167.6 127h.7v.7h-.7zM168.5 127.2h.7v.7h-.7zM168.4 127.9h.7v.7h-.7z"/></g></g>
<rect x="140.6" y="103.3" width="49.8" height="49.4" fill="none" stroke="#9c9c9c" stroke-width="0.9"/>
<g fill="#222" font-size="3.2"><text x="134" y="109.39">10<tspan dy="-1.2" font-size="2.4">4</tspan></text><rect x="139.3" y="107.64" width="1.3" height=".7" opacity=".8"/><text x="134" y="120.26">10<tspan dy="-1.2" font-size="2.4">3</tspan></text><rect x="139.3" y="118.51" width="1.3" height=".7" opacity=".8"/><text x="134" y="131.62">10<tspan dy="-1.2" font-size="2.4">2</tspan></text><rect x="139.3" y="129.87" width="1.3" height=".7" opacity=".8"/><text x="134" y="143.23">10<tspan dy="-1.2" font-size="2.4">1</tspan></text><rect x="139.3" y="141.48" width="1.3" height=".7" opacity=".8"/><text x="136.2" y="149.01">0</text><rect x="139.3" y="147.66" width="1.3" height=".7" opacity=".8"/><text x="148.86" y="157.9">10<tspan dy="-1.2" font-size="2.4">1</tspan></text><rect x="150.71" y="152.7" width=".7" height="1.3" opacity=".8"/><text x="160.91" y="157.9">10<tspan dy="-1.2" font-size="2.4">2</tspan></text><rect x="162.76" y="152.7" width=".7" height="1.3" opacity=".8"/><text x="171.87" y="157.9">10<tspan dy="-1.2" font-size="2.4">3</tspan></text><rect x="173.72" y="152.7" width=".7" height="1.3" opacity=".8"/><text x="183.97" y="157.9">10<tspan dy="-1.2" font-size="2.4">4</tspan></text><rect x="185.82" y="152.7" width=".7" height="1.3" opacity=".8"/><text x="145.18" y="157.9">0</text><rect x="145.63" y="152.7" width=".7" height="1.3" opacity=".8"/></g>
<path d="M140.6 107L190.4 107" stroke="#858585" stroke-width="1.25" fill="none"/>
<path d="M167.8 107L167.8 152.7" stroke="#858585" stroke-width="1.25" fill="none"/>
<text x="141.35" y="152.4" font-size="9.5" text-anchor="start" fill="#111" stroke="#111" stroke-width=".25">35</text>
<text x="189.8" y="152.4" font-size="9.5" text-anchor="end" fill="#111" stroke="#111" stroke-width=".25">65</text>
<g clip-path="url(#c6)"><g filter="url(#bl)"><path fill="#000" d="M161.5 197h10v0.5h-10zM159 197.5h13.5v0.5h-13.5zM157.5 198h16v0.5h-16zM156 198.5h18v0.5h-18zM155 199h19v0.5h-19zM154 199.5h20v0.5h-20zM153 200h21.5v0.5h-21.5zM151.5 200.5h23v0.5h-23zM150 201h24v0.5h-24zM148.5 201.5h25.5v0.5h-25.5zM147.5 202h26.5v0.5h-26.5zM146.5 202.5h27v0.5h-27zM146.5 203h26.5v0.5h-26.5zM147 203.5h26v0.5h-26zM147.5 204h25v0.5h-25zM148.5 204.5h23.5v0.5h-23.5zM150 205h21.5v0.5h-21.5zM151 205.5h19.5v0.5h-19.5zM151.5 206h18.5v0.5h-18.5zM152.5 206.5h16.5v0.5h-16.5zM153.5 207h14.5v0.5h-14.5zM154.5 207.5h12.5v0.5h-12.5zM155.5 208h10v0.5h-10zM157.5 208.5h6v0.5h-6z"/><path fill="#000" d="M169.1 192.5h.7v.7h-.7zM166.4 192.5h.7v.7h-.7zM162.3 192.4h.7v.7h-.7zM160.9 193h.7v.7h-.7zM170.9 193.2h.7v.7h-.7zM164.5 193.3h.7v.7h-.7zM157.9 193.6h.7v.7h-.7zM155.5 193.4h.7v.7h-.7zM165.3 193.7h.7v.7h-.7zM171.8 194h.7v.7h-.7zM173.3 193.9h.7v.7h-.7zM175.9 194.2h.7v.7h-.7zM174 194.5h.7v.7h-.7zM170.9 194.2h.7v.7h-.7zM168.8 194.5h.7v.7h-.7zM167.7 194.4h.7v.7h-.7zM167 194.6h.7v.7h-.7zM163.3 194.3h.7v.7h-.7zM162.2 194.6h.7v.7h-.7zM159.6 194.6h.7v.7h-.7zM153.1 194.3h.7v.7h-.7zM157.5 194.9h.7v.7h-.7zM160.4 194.9h.7v.7h-.7zM164.4 195.1h.7v.7h-.7zM169.8 194.8h.7v.7h-.7zM174.8 194.8h.7v.7h-.7zM176.9 194.9h.7v.7h-.7zM178.8 195h.7v.7h-.7zM172.9 195.6h.7v.7h-.7zM169.2 195.5h.7v.7h-.7zM167.8 195.4h.7v.7h-.7zM166.2 195.2h.7v.7h-.7zM161.4 195.3h.7v.7h-.7zM158.8 195.6h.7v.7h-.7zM156 195.6h.7v.7h-.7zM154.4 195.3h.7v.7h-.7zM150.9 195.7h.7v.7h-.7zM153.1 195.8h.7v.7h-.7zM159.3 195.7h.7v.7h-.7zM161.6 195.8h.7v.7h-.7zM162.2 195.8h.7v.7h-.7zM163.2 196h.7v.7h-.7zM164.3 196h.7v.7h-.7zM165.5 195.9h.7v.7h-.7zM168.8 196h.7v.7h-.7zM170.3 196h.7v.7h-.7zM171.8 195.7h.7v.7h-.7zM173.7 196.1h.7v.7h-.7zM177 196.4h.7v.7h-.7zM174.9 196.4h.7v.7h-.7zM173.1 196.6h.7v.7h-.7zM171.2 196.4h.7v.7h-.7zM170.6 196.4h.7v.7h-.7zM168.5 196.5h.7v.7h-.7zM167.8 196.5h.7v.7h-.7zM167.3 196.2h.7v.7h-.7zM167 196.3h.7v.7h-.7zM166.1 196.3h.7v.7h-.7zM164.4 196.5h.7v.7h-.7zM163 196.3h.7v.7h-.7zM160.4 196.4h.7v.7h-.7zM158.6 196.3h.7v.7h-.7zM157.5 196.6h.7v.7h-.7zM155.3 196.6h.7v.7h-.7zM148.3 196.5h.7v.7h-.7zM151.9 196.8h.7v.7h-.7zM156.5 196.9h.7v.7h-.7zM158.5 197h.7v.7h-.7zM159.5 197.1h.7v.7h-.7zM160.5 196.7h.7v.7h-.7zM172.9 197h.7v.7h-.7zM175.4 197h.7v.7h-.7zM178.6 196.9h.7v.7h-.7zM180.9 197.1h.7v.7h-.7zM177.1 197.5h.7v.7h-.7zM174.3 197.2h.7v.7h-.7zM173.4 197.3h.7v.7h-.7zM158.5 197.6h.7v.7h-.7zM156.8 197.3h.7v.7h-.7zM155.8 197.3h.7v.7h-.7zM154.7 197.4h.7v.7h-.7zM154 197.6h.7v.7h-.7zM150.4 197.4h.7v.7h-.7zM144.6 197.7h.7v.7h-.7zM146.8 197.9h.7v.7h-.7zM152.1 197.9h.7v.7h-.7zM152.7 198.1h.7v.7h-.7zM155.6 197.8h.7v.7h-.7zM156.7 198h.7v.7h-.7zM173.5 197.8h.7v.7h-.7zM176.8 198.5h.7v.7h-.7zM175.8 198.5h.7v.7h-.7zM175 198.3h.7v.7h-.7zM154.4 198.2h.7v.7h-.7zM149.4 198.2h.7v.7h-.7zM148.6 198.5h.7v.7h-.7zM150.8 199h.7v.7h-.7zM153.3 198.8h.7v.7h-.7zM174.6 198.7h.7v.7h-.7zM178.6 199h.7v.7h-.7zM179.8 198.9h.7v.7h-.7zM175.2 199.4h.7v.7h-.7zM173.9 199.5h.7v.7h-.7zM152.8 199.4h.7v.7h-.7zM151.7 199.3h.7v.7h-.7zM149.8 199.3h.7v.7h-.7zM147.6 199.4h.7v.7h-.7zM145.2 199.5h.7v.7h-.7zM141.7 199.5h.7v.7h-.7zM144 199.8h.7v.7h-.7zM146.4 199.9h.7v.7h-.7zM149.1 199.9h.7v.7h-.7zM150.2 199.8h.7v.7h-.7zM151.7 199.8h.7v.7h-.7zM174.6 200.1h.7v.7h-.7zM176.1 200h.7v.7h-.7zM183.5 200.5h.7v.7h-.7zM177.9 200.3h.7v.7h-.7zM176.5 200.2h.7v.7h-.7zM150.9 200.6h.7v.7h-.7zM149.8 200.6h.7v.7h-.7zM148.1 200.3h.7v.7h-.7zM145.1 200.3h.7v.7h-.7zM142.8 200.6h.7v.7h-.7zM140.7 201h.7v.7h-.7zM145.8 201.1h.7v.7h-.7zM147.4 200.7h.7v.7h-.7zM148.5 200.9h.7v.7h-.7zM149.4 200.8h.7v.7h-.7zM174.4 200.8h.7v.7h-.7zM175 201.1h.7v.7h-.7zM181.1 200.9h.7v.7h-.7zM176.8 201.6h.7v.7h-.7zM174.1 201.3h.7v.7h-.7zM147.2 201.6h.7v.7h-.7zM146.5 201.4h.7v.7h-.7zM144.4 201.3h.7v.7h-.7zM143.4 201.3h.7v.7h-.7zM141 202h.7v.7h-.7zM142 202.1h.7v.7h-.7zM144.2 202.1h.7v.7h-.7zM146.7 202.1h.7v.7h-.7zM174.5 202.1h.7v.7h-.7zM175.2 201.8h.7v.7h-.7zM178.4 201.8h.7v.7h-.7zM179.2 202h.7v.7h-.7zM177.2 202.5h.7v.7h-.7zM174.1 202.3h.7v.7h-.7zM145.9 202.6h.7v.7h-.7zM143.6 202.3h.7v.7h-.7zM142.3 202.3h.7v.7h-.7zM143.8 203h.7v.7h-.7zM144.9 202.9h.7v.7h-.7zM173.2 203.1h.7v.7h-.7zM175.1 202.9h.7v.7h-.7zM176.2 202.9h.7v.7h-.7zM175.5 203.3h.7v.7h-.7zM174 203.2h.7v.7h-.7zM146.5 203.4h.7v.7h-.7zM143.9 203.3h.7v.7h-.7zM142.3 203.4h.7v.7h-.7zM140.5 203.4h.7v.7h-.7zM141.4 203.7h.7v.7h-.7zM144.2 203.8h.7v.7h-.7zM145 204h.7v.7h-.7zM145.3 203.7h.7v.7h-.7zM146.5 203.8h.7v.7h-.7zM172.5 204.1h.7v.7h-.7zM178 204.6h.7v.7h-.7zM175.1 204.5h.7v.7h-.7zM173.4 204.3h.7v.7h-.7zM172.3 204.3h.7v.7h-.7zM147.3 204.3h.7v.7h-.7zM146.1 204.3h.7v.7h-.7zM141.8 204.4h.7v.7h-.7zM143.3 204.9h.7v.7h-.7zM146.8 204.7h.7v.7h-.7zM148.6 204.8h.7v.7h-.7zM176.8 204.8h.7v.7h-.7zM179.3 205.2h.7v.7h-.7zM174.4 205.6h.7v.7h-.7zM172 205.6h.7v.7h-.7zM170.3 205.3h.7v.7h-.7zM150.2 205.6h.7v.7h-.7zM148.8 205.5h.7v.7h-.7zM147.3 205.5h.7v.7h-.7zM146.1 205.6h.7v.7h-.7zM142.5 205.4h.7v.7h-.7zM144.4 205.8h.7v.7h-.7zM148.5 205.7h.7v.7h-.7zM150.3 206.1h.7v.7h-.7zM169.8 205.9h.7v.7h-.7zM171.2 205.8h.7v.7h-.7zM172.7 206h.7v.7h-.7zM175.9 205.7h.7v.7h-.7zM182 206h.7v.7h-.7zM184.8 206.4h.7v.7h-.7zM174 206.2h.7v.7h-.7zM171 206.3h.7v.7h-.7zM169.5 206.6h.7v.7h-.7zM152 206.2h.7v.7h-.7zM150.4 206.2h.7v.7h-.7zM148.9 206.2h.7v.7h-.7zM140.2 206.4h.7v.7h-.7zM145.4 206.7h.7v.7h-.7zM148.1 207.1h.7v.7h-.7zM149.8 206.9h.7v.7h-.7zM152.5 207h.7v.7h-.7zM168 206.9h.7v.7h-.7zM171.8 206.8h.7v.7h-.7zM172.8 207.5h.7v.7h-.7zM170.6 207.6h.7v.7h-.7zM168.7 207.2h.7v.7h-.7zM153.5 207.3h.7v.7h-.7zM151.3 207.2h.7v.7h-.7zM147 207.5h.7v.7h-.7zM143.3 207.2h.7v.7h-.7zM141.6 207.6h.7v.7h-.7zM150.9 208.1h.7v.7h-.7zM152.6 207.9h.7v.7h-.7zM153.4 208h.7v.7h-.7zM155.1 208.1h.7v.7h-.7zM166.3 207.7h.7v.7h-.7zM168.1 208h.7v.7h-.7zM170.1 208.1h.7v.7h-.7zM175 207.9h.7v.7h-.7zM171.9 208.6h.7v.7h-.7zM168.8 208.3h.7v.7h-.7zM166.4 208.6h.7v.7h-.7zM165.4 208.6h.7v.7h-.7zM164.1 208.6h.7v.7h-.7zM156.1 208.5h.7v.7h-.7zM148.9 208.4h.7v.7h-.7zM145.2 208.9h.7v.7h-.7zM150 209h.7v.7h-.7zM151.9 209h.7v.7h-.7zM152.7 208.9h.7v.7h-.7zM154.3 209.1h.7v.7h-.7zM155.7 208.7h.7v.7h-.7zM158.2 208.9h.7v.7h-.7zM159.4 208.9h.7v.7h-.7zM160.6 209h.7v.7h-.7zM161.4 208.8h.7v.7h-.7zM162.2 208.8h.7v.7h-.7zM163.2 209h.7v.7h-.7zM165.2 208.9h.7v.7h-.7zM167.5 208.9h.7v.7h-.7zM170.3 209h.7v.7h-.7zM177.5 208.8h.7v.7h-.7zM168.6 209.6h.7v.7h-.7zM166.5 209.5h.7v.7h-.7zM164.5 209.5h.7v.7h-.7zM161.5 209.3h.7v.7h-.7zM158 209.3h.7v.7h-.7zM156.3 209.3h.7v.7h-.7zM154.8 209.6h.7v.7h-.7zM153.3 209.4h.7v.7h-.7zM150.6 209.5h.7v.7h-.7zM147.4 209.5h.7v.7h-.7zM156.9 210h.7v.7h-.7zM158.7 209.9h.7v.7h-.7zM160.5 209.8h.7v.7h-.7zM162.7 210.1h.7v.7h-.7zM170.3 209.9h.7v.7h-.7zM173.9 210.6h.7v.7h-.7zM163.9 210.4h.7v.7h-.7zM161.7 210.6h.7v.7h-.7zM159.5 210.5h.7v.7h-.7zM158 210.3h.7v.7h-.7zM155.9 210.4h.7v.7h-.7zM153.3 210.5h.7v.7h-.7zM148.8 211.1h.7v.7h-.7zM151.2 210.8h.7v.7h-.7zM155 210.9h.7v.7h-.7zM161.4 210.8h.7v.7h-.7zM165 210.7h.7v.7h-.7zM166.2 210.8h.7v.7h-.7zM168.2 210.8h.7v.7h-.7zM172.3 211h.7v.7h-.7zM159.8 211.2h.7v.7h-.7zM158.4 211.2h.7v.7h-.7zM144.4 211.6h.7v.7h-.7zM147 212.1h.7v.7h-.7zM150.4 212h.7v.7h-.7zM154.1 211.8h.7v.7h-.7zM157.4 212.1h.7v.7h-.7zM163.8 211.8h.7v.7h-.7zM167.5 211.8h.7v.7h-.7zM162.5 212.5h.7v.7h-.7zM155.8 212.2h.7v.7h-.7zM161.1 213h.7v.7h-.7zM152.5 213.6h.7v.7h-.7zM159.3 213.9h.7v.7h-.7zM164.3 214.4h.7v.7h-.7zM170.3 214.8h.7v.7h-.7z"/><path fill="#fff" d="M162 196.7h.7v.7h-.7zM165.1 196.9h.7v.7h-.7zM169.3 197h.7v.7h-.7zM171.8 197.4h.7v.7h-.7zM170.8 197.4h.7v.7h-.7zM163.9 197.5h.7v.7h-.7zM161 197.5h.7v.7h-.7zM160.1 198h.7v.7h-.7zM172.5 198.6h.7v.7h-.7zM155.7 198.6h.7v.7h-.7zM155 198.9h.7v.7h-.7zM157.5 198.7h.7v.7h-.7zM171.5 199.1h.7v.7h-.7zM173.3 198.7h.7v.7h-.7zM153.9 199.4h.7v.7h-.7zM173.2 200.4h.7v.7h-.7zM172.2 200.3h.7v.7h-.7zM153.7 200.5h.7v.7h-.7zM151.5 201h.7v.7h-.7zM148.3 202.1h.7v.7h-.7zM149.8 201.8h.7v.7h-.7zM172.2 201.9h.7v.7h-.7zM146.4 202.6h.7v.7h-.7zM153.1 203h.7v.7h-.7zM172.3 203h.7v.7h-.7zM171.3 203.2h.7v.7h-.7zM150.8 203.3h.7v.7h-.7zM148.1 203.3h.7v.7h-.7zM148.6 204h.7v.7h-.7zM149.9 204h.7v.7h-.7zM171.3 204.5h.7v.7h-.7zM170.6 204.4h.7v.7h-.7zM149.1 204.2h.7v.7h-.7zM150 204.7h.7v.7h-.7zM151.8 204.7h.7v.7h-.7zM168.7 204.7h.7v.7h-.7zM151.6 205.8h.7v.7h-.7zM167.7 205.7h.7v.7h-.7zM168.3 206.5h.7v.7h-.7zM154.5 206.5h.7v.7h-.7zM152.9 206.5h.7v.7h-.7zM155.4 207h.7v.7h-.7zM165.5 207.1h.7v.7h-.7zM166.8 207.1h.7v.7h-.7zM165.9 207.2h.7v.7h-.7zM162.7 207.6h.7v.7h-.7zM156.3 207.4h.7v.7h-.7zM154.2 207.5h.7v.7h-.7zM157.5 207.9h.7v.7h-.7zM158.9 207.8h.7v.7h-.7zM164.4 208h.7v.7h-.7zM163 208.4h.7v.7h-.7zM161.6 208.3h.7v.7h-.7zM159.6 208.4h.7v.7h-.7zM157.6 208.4h.7v.7h-.7z"/></g></g>
<rect x="140.6" y="186.3" width="49.8" height="49.4" fill="none" stroke="#9c9c9c" stroke-width="0.9"/>
<g fill="#222" font-size="3.2"><text x="134" y="192.39">10<tspan dy="-1.2" font-size="2.4">4</tspan></text><rect x="139.3" y="190.64" width="1.3" height=".7" opacity=".8"/><text x="134" y="203.26">10<tspan dy="-1.2" font-size="2.4">3</tspan></text><rect x="139.3" y="201.51" width="1.3" height=".7" opacity=".8"/><text x="134" y="214.62">10<tspan dy="-1.2" font-size="2.4">2</tspan></text><rect x="139.3" y="212.87" width="1.3" height=".7" opacity=".8"/><text x="134" y="226.23">10<tspan dy="-1.2" font-size="2.4">1</tspan></text><rect x="139.3" y="224.48" width="1.3" height=".7" opacity=".8"/><text x="136.2" y="232.01">0</text><rect x="139.3" y="230.66" width="1.3" height=".7" opacity=".8"/><text x="148.86" y="240.9">10<tspan dy="-1.2" font-size="2.4">1</tspan></text><rect x="150.71" y="235.7" width=".7" height="1.3" opacity=".8"/><text x="160.91" y="240.9">10<tspan dy="-1.2" font-size="2.4">2</tspan></text><rect x="162.76" y="235.7" width=".7" height="1.3" opacity=".8"/><text x="171.87" y="240.9">10<tspan dy="-1.2" font-size="2.4">3</tspan></text><rect x="173.72" y="235.7" width=".7" height="1.3" opacity=".8"/><text x="183.97" y="240.9">10<tspan dy="-1.2" font-size="2.4">4</tspan></text><rect x="185.82" y="235.7" width=".7" height="1.3" opacity=".8"/><text x="145.18" y="240.9">0</text><rect x="145.63" y="235.7" width=".7" height="1.3" opacity=".8"/></g>
<path d="M140.6 190.4L190.4 190.4" stroke="#858585" stroke-width="1.25" fill="none"/>
<path d="M167.8 190.4L167.8 235.7" stroke="#858585" stroke-width="1.25" fill="none"/>
<text x="141.35" y="235.4" font-size="9.5" text-anchor="start" fill="#111" stroke="#111" stroke-width=".25">90</text>
<text x="189.8" y="235.4" font-size="9.5" text-anchor="end" fill="#111" stroke="#111" stroke-width=".25">10</text>
<g clip-path="url(#c7)"><g filter="url(#bl)"><path fill="#000" d="M249.5 30h2.5v0.5h-2.5zM248.5 30.5h4.5v0.5h-4.5zM247.5 31h6.5v0.5h-6.5zM247 31.5h7.5v0.5h-7.5zM246.5 32h8.5v0.5h-8.5zM246 32.5h9v0.5h-9zM246 33h9.5v0.5h-9.5zM245.5 33.5h10v0.5h-10zM245.5 34h10v0.5h-10zM245.5 34.5h10.5v0.5h-10.5zM245.5 35h10.5v0.5h-10.5zM245 35.5h11v0.5h-11zM245 36h11v0.5h-11zM245 36.5h11v0.5h-11zM245.5 37h10v0.5h-10zM245.5 37.5h10v0.5h-10zM245.5 38h10v0.5h-10zM245.5 38.5h10v0.5h-10zM245.5 39h9.5v0.5h-9.5zM245.5 39.5h9.5v0.5h-9.5zM245.5 40h9v0.5h-9zM245.5 40.5h9v0.5h-9zM245.5 41h8.5v0.5h-8.5zM245 41.5h9v0.5h-9zM245 42h9v0.5h-9zM244.5 42.5h9.5v0.5h-9.5zM244 43h10v0.5h-10zM243.5 43.5h11v0.5h-11zM243 44h11.5v0.5h-11.5zM242.5 44.5h12.5v0.5h-12.5zM242.5 45h12.5v0.5h-12.5zM242 45.5h13.5v0.5h-13.5zM242 46h13.5v0.5h-13.5zM241.5 46.5h14v0.5h-14zM241.5 47h14.5v0.5h-14.5zM241.5 47.5h14.5v0.5h-14.5zM241.5 48h14.5v0.5h-14.5zM241.5 48.5h14.5v0.5h-14.5zM241.5 49h14.5v0.5h-14.5zM241.5 49.5h14.5v0.5h-14.5zM241.5 50h14.5v0.5h-14.5zM241.5 50.5h14.5v0.5h-14.5zM241.5 51h14.5v0.5h-14.5zM242 51.5h14v0.5h-14zM242 52h13.5v0.5h-13.5zM242.5 52.5h13v0.5h-13zM242.5 53h13v0.5h-13zM243 53.5h12v0.5h-12zM243.5 54h11.5v0.5h-11.5zM243.5 54.5h11v0.5h-11zM244 55h10.5v0.5h-10.5zM244.5 55.5h9.5v0.5h-9.5zM245 56h9v0.5h-9zM245.5 56.5h8v0.5h-8zM246 57h7.5v0.5h-7.5zM246.5 57.5h6.5v0.5h-6.5zM247 58h5.5v0.5h-5.5zM247.5 58.5h4.5v0.5h-4.5zM248 59h4v0.5h-4zM248.5 59.5h2.5v0.5h-2.5z"/><path fill="#000" d="M245.6 22.2h.7v.7h-.7zM247.3 23h.7v.7h-.7zM251.1 23.3h.7v.7h-.7zM249.5 23.6h.7v.7h-.7zM240.6 24h.7v.7h-.7zM242.9 24.1h.7v.7h-.7zM255.8 24.3h.7v.7h-.7zM253.9 24.3h.7v.7h-.7zM252.8 24.6h.7v.7h-.7zM245.8 25.1h.7v.7h-.7zM247.6 25.6h.7v.7h-.7zM237.5 25.8h.7v.7h-.7zM241.4 26h.7v.7h-.7zM248.3 25.9h.7v.7h-.7zM249.6 25.8h.7v.7h-.7zM257.2 26.5h.7v.7h-.7zM252.8 26.3h.7v.7h-.7zM251.5 26.5h.7v.7h-.7zM243 26.5h.7v.7h-.7zM245.5 26.7h.7v.7h-.7zM250.3 27.1h.7v.7h-.7zM258.7 27.1h.7v.7h-.7zM255.6 27.5h.7v.7h-.7zM251.2 27.4h.7v.7h-.7zM249.3 27.5h.7v.7h-.7zM246.8 27.3h.7v.7h-.7zM244.5 27.3h.7v.7h-.7zM239.1 27.3h.7v.7h-.7zM248 28h.7v.7h-.7zM252.3 27.7h.7v.7h-.7zM253.6 27.9h.7v.7h-.7zM256 28.4h.7v.7h-.7zM250.5 28.6h.7v.7h-.7zM248.8 28.4h.7v.7h-.7zM236.2 29.1h.7v.7h-.7zM241.9 28.9h.7v.7h-.7zM243.2 28.9h.7v.7h-.7zM245.2 29.1h.7v.7h-.7zM246.6 28.7h.7v.7h-.7zM247.9 29h.7v.7h-.7zM250.8 28.9h.7v.7h-.7zM252.1 28.7h.7v.7h-.7zM254.8 28.9h.7v.7h-.7zM257.7 29.3h.7v.7h-.7zM253.8 29.5h.7v.7h-.7zM253.6 29.4h.7v.7h-.7zM252.1 29.6h.7v.7h-.7zM249.8 29.6h.7v.7h-.7zM248.9 29.6h.7v.7h-.7zM246.7 29.2h.7v.7h-.7zM244.3 29.3h.7v.7h-.7zM240.2 29.5h.7v.7h-.7zM248.1 29.7h.7v.7h-.7zM249 30h.7v.7h-.7zM252.8 29.9h.7v.7h-.7zM255.2 29.8h.7v.7h-.7zM260.5 30.1h.7v.7h-.7zM255.9 30.4h.7v.7h-.7zM253.6 30.5h.7v.7h-.7zM247.5 30.6h.7v.7h-.7zM246.2 30.3h.7v.7h-.7zM245.3 30.5h.7v.7h-.7zM242.4 30.2h.7v.7h-.7zM234.6 31h.7v.7h-.7zM239 31h.7v.7h-.7zM244.1 31h.7v.7h-.7zM246.1 31.1h.7v.7h-.7zM247 31.1h.7v.7h-.7zM253.8 30.7h.7v.7h-.7zM254.9 31h.7v.7h-.7zM257.5 30.9h.7v.7h-.7zM255.6 31.5h.7v.7h-.7zM244.7 31.6h.7v.7h-.7zM241.4 31.2h.7v.7h-.7zM242.9 32h.7v.7h-.7zM245.2 31.9h.7v.7h-.7zM254.8 32h.7v.7h-.7zM257.2 31.8h.7v.7h-.7zM259.6 31.8h.7v.7h-.7zM256.2 32.3h.7v.7h-.7zM245 32.5h.7v.7h-.7zM244.1 32.4h.7v.7h-.7zM240.7 32.6h.7v.7h-.7zM238.1 32.6h.7v.7h-.7zM232.3 32.9h.7v.7h-.7zM235.8 33h.7v.7h-.7zM239.6 33.1h.7v.7h-.7zM255.2 33.1h.7v.7h-.7zM256.9 33.1h.7v.7h-.7zM257.9 33.4h.7v.7h-.7zM256.1 33.5h.7v.7h-.7zM244.3 33.4h.7v.7h-.7zM242.9 33.4h.7v.7h-.7zM229.4 33.8h.7v.7h-.7zM233.8 34h.7v.7h-.7zM238.3 34h.7v.7h-.7zM240.3 33.8h.7v.7h-.7zM241.9 33.7h.7v.7h-.7zM243.5 33.7h.7v.7h-.7zM244.8 33.9h.7v.7h-.7zM259.9 33.9h.7v.7h-.7zM262 34.2h.7v.7h-.7zM256.5 34.2h.7v.7h-.7zM244.9 34.2h.7v.7h-.7zM243.5 34.6h.7v.7h-.7zM241 34.6h.7v.7h-.7zM236.9 34.3h.7v.7h-.7zM230.9 34.2h.7v.7h-.7zM226.8 34.5h.7v.7h-.7zM223.6 34.4h.7v.7h-.7zM218.1 34.2h.7v.7h-.7zM242.1 34.7h.7v.7h-.7zM244 34.9h.7v.7h-.7zM255.7 34.7h.7v.7h-.7zM257 35.1h.7v.7h-.7zM258.9 34.8h.7v.7h-.7zM243.2 35.4h.7v.7h-.7zM242.2 35.3h.7v.7h-.7zM239.4 35.4h.7v.7h-.7zM234.7 35.2h.7v.7h-.7zM221.3 35.5h.7v.7h-.7zM233.4 35.7h.7v.7h-.7zM237.9 35.7h.7v.7h-.7zM240.4 36h.7v.7h-.7zM244 35.7h.7v.7h-.7zM255.8 36h.7v.7h-.7zM257.6 35.7h.7v.7h-.7zM257.8 36.6h.7v.7h-.7zM256.1 36.3h.7v.7h-.7zM243.8 36.4h.7v.7h-.7zM241.7 36.2h.7v.7h-.7zM238.9 36.5h.7v.7h-.7zM236.9 36.3h.7v.7h-.7zM227.6 36.6h.7v.7h-.7zM219.3 36.7h.7v.7h-.7zM229.7 36.9h.7v.7h-.7zM239.9 36.8h.7v.7h-.7zM242.9 36.9h.7v.7h-.7zM244.8 36.9h.7v.7h-.7zM256.9 37.1h.7v.7h-.7zM261.1 37.6h.7v.7h-.7zM259.2 37.4h.7v.7h-.7zM256.3 37.6h.7v.7h-.7zM255.6 37.2h.7v.7h-.7zM244.4 37.3h.7v.7h-.7zM241.5 37.3h.7v.7h-.7zM236.3 37.3h.7v.7h-.7zM232.1 37.3h.7v.7h-.7zM224.2 37.3h.7v.7h-.7zM222 37.4h.7v.7h-.7zM225.4 38.1h.7v.7h-.7zM235.1 37.7h.7v.7h-.7zM238.5 38h.7v.7h-.7zM241.6 37.9h.7v.7h-.7zM242.8 38h.7v.7h-.7zM243.7 37.8h.7v.7h-.7zM244.9 37.9h.7v.7h-.7zM255.9 38h.7v.7h-.7zM257.9 38.5h.7v.7h-.7zM255.5 38.3h.7v.7h-.7zM243.5 38.2h.7v.7h-.7zM242 38.2h.7v.7h-.7zM240 38.3h.7v.7h-.7zM233.5 38.3h.7v.7h-.7zM217.4 38.4h.7v.7h-.7zM238.3 39.1h.7v.7h-.7zM244.3 38.9h.7v.7h-.7zM244.7 39.1h.7v.7h-.7zM254.7 39.1h.7v.7h-.7zM255.8 38.9h.7v.7h-.7zM259.1 39.6h.7v.7h-.7zM258 39.5h.7v.7h-.7zM256.5 39.2h.7v.7h-.7zM244.2 39.5h.7v.7h-.7zM243.3 39.3h.7v.7h-.7zM242.5 39.3h.7v.7h-.7zM241 39.2h.7v.7h-.7zM237.3 39.6h.7v.7h-.7zM234.9 39.5h.7v.7h-.7zM229.5 39.5h.7v.7h-.7zM221.7 40.1h.7v.7h-.7zM228.1 39.8h.7v.7h-.7zM235.7 39.7h.7v.7h-.7zM239.5 40h.7v.7h-.7zM242.3 39.7h.7v.7h-.7zM244.7 39.7h.7v.7h-.7zM255.5 40.1h.7v.7h-.7zM261.1 39.7h.7v.7h-.7zM262.7 40.4h.7v.7h-.7zM254.5 40.4h.7v.7h-.7zM244.9 40.4h.7v.7h-.7zM243.3 40.6h.7v.7h-.7zM241.3 40.3h.7v.7h-.7zM238.5 40.6h.7v.7h-.7zM231.4 40.5h.7v.7h-.7zM224.6 41h.7v.7h-.7zM226.5 40.7h.7v.7h-.7zM239.4 41.1h.7v.7h-.7zM240.5 40.7h.7v.7h-.7zM242.8 40.8h.7v.7h-.7zM244.2 40.9h.7v.7h-.7zM254.9 41h.7v.7h-.7zM256.5 41h.7v.7h-.7zM258.6 40.8h.7v.7h-.7zM257.3 41.5h.7v.7h-.7zM255.7 41.3h.7v.7h-.7zM254.2 41.3h.7v.7h-.7zM244.5 41.5h.7v.7h-.7zM243.6 41.6h.7v.7h-.7zM242.3 41.3h.7v.7h-.7zM238.4 41.5h.7v.7h-.7zM237.3 41.6h.7v.7h-.7zM234.1 41.3h.7v.7h-.7zM219.6 41.2h.7v.7h-.7zM216.9 41.7h.7v.7h-.7zM240.2 42.1h.7v.7h-.7zM241.6 42h.7v.7h-.7zM244.5 41.9h.7v.7h-.7zM254.3 42.1h.7v.7h-.7zM259.3 42.3h.7v.7h-.7zM256.3 42.4h.7v.7h-.7zM254.2 42.2h.7v.7h-.7zM243.4 42.5h.7v.7h-.7zM242.3 42.5h.7v.7h-.7zM239.5 42.4h.7v.7h-.7zM236.9 42.2h.7v.7h-.7zM235.1 42.5h.7v.7h-.7zM231 42.6h.7v.7h-.7zM221.3 42.8h.7v.7h-.7zM232.5 42.9h.7v.7h-.7zM238.5 42.8h.7v.7h-.7zM240.6 42.9h.7v.7h-.7zM241.4 43h.7v.7h-.7zM243 42.9h.7v.7h-.7zM253.8 42.9h.7v.7h-.7zM255.5 42.7h.7v.7h-.7zM257.5 43.1h.7v.7h-.7zM259.7 43.6h.7v.7h-.7zM255.8 43.6h.7v.7h-.7zM241.7 43.5h.7v.7h-.7zM239.8 43.4h.7v.7h-.7zM237.9 43.6h.7v.7h-.7zM236.7 43.6h.7v.7h-.7zM235.9 43.6h.7v.7h-.7zM218.7 43.3h.7v.7h-.7zM224.8 43.8h.7v.7h-.7zM229.3 44.1h.7v.7h-.7zM240.4 43.7h.7v.7h-.7zM241.9 43.7h.7v.7h-.7zM254.5 43.7h.7v.7h-.7zM261.5 44.3h.7v.7h-.7zM257.5 44.6h.7v.7h-.7zM256.2 44.3h.7v.7h-.7zM255.4 44.4h.7v.7h-.7zM241.9 44.6h.7v.7h-.7zM240.7 44.4h.7v.7h-.7zM238.7 44.2h.7v.7h-.7zM233.4 44.2h.7v.7h-.7zM227.8 44.4h.7v.7h-.7zM222 44.5h.7v.7h-.7zM223.2 44.9h.7v.7h-.7zM235.6 44.7h.7v.7h-.7zM239.9 44.7h.7v.7h-.7zM256.4 44.9h.7v.7h-.7zM258.6 45.1h.7v.7h-.7zM255.3 45.2h.7v.7h-.7zM241.3 45.2h.7v.7h-.7zM241 45.5h.7v.7h-.7zM238.8 45.2h.7v.7h-.7zM237.5 45.3h.7v.7h-.7zM236.3 45.4h.7v.7h-.7zM217.3 46.1h.7v.7h-.7zM220.1 45.9h.7v.7h-.7zM230.3 45.8h.7v.7h-.7zM235.1 45.7h.7v.7h-.7zM256.1 45.7h.7v.7h-.7zM256.7 45.9h.7v.7h-.7zM258.4 46h.7v.7h-.7zM256 46.6h.7v.7h-.7zM240.6 46.4h.7v.7h-.7zM239.7 46.4h.7v.7h-.7zM238.2 46.5h.7v.7h-.7zM232.8 46.4h.7v.7h-.7zM227.5 47h.7v.7h-.7zM232 47h.7v.7h-.7zM237.4 47h.7v.7h-.7zM239.4 46.7h.7v.7h-.7zM240.8 46.9h.7v.7h-.7zM256.8 47h.7v.7h-.7zM261 47.1h.7v.7h-.7zM262.4 47.2h.7v.7h-.7zM258.7 47.6h.7v.7h-.7zM257.5 47.2h.7v.7h-.7zM256.1 47.6h.7v.7h-.7zM239 47.3h.7v.7h-.7zM236.6 47.5h.7v.7h-.7zM224.3 47.3h.7v.7h-.7zM233.9 48.1h.7v.7h-.7zM239.3 48.1h.7v.7h-.7zM240.6 48h.7v.7h-.7zM241 47.8h.7v.7h-.7zM258.6 47.9h.7v.7h-.7zM260 48.6h.7v.7h-.7zM257 48.3h.7v.7h-.7zM256.5 48.5h.7v.7h-.7zM238.2 48.4h.7v.7h-.7zM236.2 48.4h.7v.7h-.7zM229.4 48.4h.7v.7h-.7zM218.4 49.1h.7v.7h-.7zM221.7 48.7h.7v.7h-.7zM231.3 49.1h.7v.7h-.7zM237.8 49h.7v.7h-.7zM239.5 48.8h.7v.7h-.7zM240.5 48.9h.7v.7h-.7zM256.1 49h.7v.7h-.7zM257.8 49.1h.7v.7h-.7zM256.9 49.5h.7v.7h-.7zM239.6 49.3h.7v.7h-.7zM236.8 49.3h.7v.7h-.7zM234.9 49.3h.7v.7h-.7zM225.4 49.5h.7v.7h-.7zM216.9 49.6h.7v.7h-.7zM226.8 49.9h.7v.7h-.7zM240.4 49.8h.7v.7h-.7zM256.1 50.1h.7v.7h-.7zM258 50.2h.7v.7h-.7zM241.1 50.3h.7v.7h-.7zM239.9 50.4h.7v.7h-.7zM237.4 50.3h.7v.7h-.7zM233.5 50.6h.7v.7h-.7zM220.6 50.4h.7v.7h-.7zM224.2 50.8h.7v.7h-.7zM230.1 50.9h.7v.7h-.7zM235 50.8h.7v.7h-.7zM236.2 50.8h.7v.7h-.7zM238.3 50.7h.7v.7h-.7zM239.7 50.9h.7v.7h-.7zM255.8 50.9h.7v.7h-.7zM256.8 50.8h.7v.7h-.7zM260.3 50.7h.7v.7h-.7zM259.2 51.4h.7v.7h-.7zM256.3 51.2h.7v.7h-.7zM241.6 51.6h.7v.7h-.7zM237.4 51.5h.7v.7h-.7zM222.4 51.7h.7v.7h-.7zM229.1 52.1h.7v.7h-.7zM231.7 51.9h.7v.7h-.7zM233.9 51.7h.7v.7h-.7zM239.6 52h.7v.7h-.7zM240.6 51.7h.7v.7h-.7zM256.7 51.8h.7v.7h-.7zM257.8 52h.7v.7h-.7zM255.3 52.5h.7v.7h-.7zM241.2 52.5h.7v.7h-.7zM238.9 52.5h.7v.7h-.7zM235.6 52.3h.7v.7h-.7zM217.5 52.5h.7v.7h-.7zM220.1 52.9h.7v.7h-.7zM238.1 53.1h.7v.7h-.7zM239.5 52.8h.7v.7h-.7zM240.9 52.7h.7v.7h-.7zM241.8 52.8h.7v.7h-.7zM255.6 52.7h.7v.7h-.7zM256.5 53.1h.7v.7h-.7zM260.6 53.5h.7v.7h-.7zM259 53.6h.7v.7h-.7zM257.8 53.3h.7v.7h-.7zM241.3 53.6h.7v.7h-.7zM240.1 53.5h.7v.7h-.7zM236.6 53.2h.7v.7h-.7zM226.2 53.3h.7v.7h-.7zM232.9 54h.7v.7h-.7zM237.3 54h.7v.7h-.7zM242.3 53.7h.7v.7h-.7zM255.1 53.9h.7v.7h-.7zM256.4 53.9h.7v.7h-.7zM255.3 54.6h.7v.7h-.7zM242.8 54.5h.7v.7h-.7zM241.8 54.3h.7v.7h-.7zM240.8 54.4h.7v.7h-.7zM238.8 54.2h.7v.7h-.7zM227.7 54.6h.7v.7h-.7zM223.9 54.5h.7v.7h-.7zM231.4 55h.7v.7h-.7zM235.2 54.9h.7v.7h-.7zM254.3 55.1h.7v.7h-.7zM262.7 55.6h.7v.7h-.7zM259.1 55.4h.7v.7h-.7zM256.9 55.4h.7v.7h-.7zM256.2 55.4h.7v.7h-.7zM255.5 55.5h.7v.7h-.7zM254.1 55.2h.7v.7h-.7zM243.9 55.5h.7v.7h-.7zM242.5 55.3h.7v.7h-.7zM241.6 55.4h.7v.7h-.7zM240.6 55.2h.7v.7h-.7zM239.3 55.5h.7v.7h-.7zM222.5 55.9h.7v.7h-.7zM230.1 56h.7v.7h-.7zM234 55.7h.7v.7h-.7zM236.9 55.9h.7v.7h-.7zM242.2 55.9h.7v.7h-.7zM243.9 55.7h.7v.7h-.7zM255 55.8h.7v.7h-.7zM257.4 56.4h.7v.7h-.7zM255.3 56.5h.7v.7h-.7zM254.1 56.3h.7v.7h-.7zM245 56.6h.7v.7h-.7zM243.3 56.5h.7v.7h-.7zM241.8 56.3h.7v.7h-.7zM238.5 56.2h.7v.7h-.7zM219.8 56.4h.7v.7h-.7zM218.4 56.5h.7v.7h-.7zM228.3 56.8h.7v.7h-.7zM240 56.9h.7v.7h-.7zM240.9 56.7h.7v.7h-.7zM244 57.1h.7v.7h-.7zM254.8 57.3h.7v.7h-.7zM253.3 57.4h.7v.7h-.7zM245.4 57.6h.7v.7h-.7zM242.5 57.2h.7v.7h-.7zM236.6 57.3h.7v.7h-.7zM234.9 57.2h.7v.7h-.7zM232.5 57.4h.7v.7h-.7zM225.8 57.3h.7v.7h-.7zM216.3 57.9h.7v.7h-.7zM237.5 57.7h.7v.7h-.7zM238.5 57.9h.7v.7h-.7zM239.2 58h.7v.7h-.7zM241.5 58.1h.7v.7h-.7zM243.1 57.8h.7v.7h-.7zM243.7 58h.7v.7h-.7zM245.4 58h.7v.7h-.7zM252.6 57.8h.7v.7h-.7zM253.3 57.8h.7v.7h-.7zM256.4 58.1h.7v.7h-.7zM260.1 58.3h.7v.7h-.7zM258.9 58.2h.7v.7h-.7zM255.8 58.4h.7v.7h-.7zM254.6 58.6h.7v.7h-.7zM251.8 58.4h.7v.7h-.7zM246.7 58.3h.7v.7h-.7zM246.3 58.6h.7v.7h-.7zM245.5 58.6h.7v.7h-.7zM244.4 58.5h.7v.7h-.7zM221.4 58.8h.7v.7h-.7zM224.7 59h.7v.7h-.7zM230.5 59h.7v.7h-.7zM239.9 59.1h.7v.7h-.7zM241.7 58.8h.7v.7h-.7zM243.9 58.9h.7v.7h-.7zM247.5 59h.7v.7h-.7zM251.8 59h.7v.7h-.7zM252.7 58.8h.7v.7h-.7zM254.9 59h.7v.7h-.7zM257.3 58.7h.7v.7h-.7zM256.6 59.3h.7v.7h-.7zM253.9 59.3h.7v.7h-.7zM252.3 59.3h.7v.7h-.7zM250.9 59.3h.7v.7h-.7zM247.2 59.3h.7v.7h-.7zM246.4 59.4h.7v.7h-.7zM244.8 59.3h.7v.7h-.7zM236.3 59.4h.7v.7h-.7zM234.1 59.5h.7v.7h-.7zM226.9 59.4h.7v.7h-.7zM223.3 59.4h.7v.7h-.7zM219.3 59.8h.7v.7h-.7zM228.3 60.1h.7v.7h-.7zM235.4 60.1h.7v.7h-.7zM237.9 60.1h.7v.7h-.7zM240.4 59.7h.7v.7h-.7zM242.3 60.1h.7v.7h-.7zM243.2 60h.7v.7h-.7zM245.4 60.1h.7v.7h-.7zM247.8 59.8h.7v.7h-.7zM249.1 60h.7v.7h-.7zM251.2 60.1h.7v.7h-.7zM253 60h.7v.7h-.7zM254.3 59.7h.7v.7h-.7zM250.9 60.3h.7v.7h-.7zM250.6 60.5h.7v.7h-.7zM249.2 60.6h.7v.7h-.7zM248.3 60.5h.7v.7h-.7zM246.7 60.3h.7v.7h-.7zM246.1 60.5h.7v.7h-.7zM244.6 60.2h.7v.7h-.7zM239 60.3h.7v.7h-.7zM232.3 60.2h.7v.7h-.7zM217.9 60.8h.7v.7h-.7zM247.5 60.8h.7v.7h-.7zM249.2 61.1h.7v.7h-.7zM251.7 61h.7v.7h-.7zM252.5 61.1h.7v.7h-.7zM254.4 61.1h.7v.7h-.7zM258.1 61.3h.7v.7h-.7zM256 61.4h.7v.7h-.7zM253.3 61.4h.7v.7h-.7zM251.2 61.6h.7v.7h-.7zM250.9 61.3h.7v.7h-.7zM249.3 61.4h.7v.7h-.7zM248.5 61.2h.7v.7h-.7zM246.2 61.5h.7v.7h-.7zM245.3 61.3h.7v.7h-.7zM242.9 61.4h.7v.7h-.7zM241.8 61.4h.7v.7h-.7zM240.9 61.6h.7v.7h-.7zM239.5 61.6h.7v.7h-.7zM244.4 61.7h.7v.7h-.7zM246.3 61.9h.7v.7h-.7zM247.6 61.9h.7v.7h-.7zM249 62.1h.7v.7h-.7zM250.6 61.9h.7v.7h-.7zM252.2 61.8h.7v.7h-.7zM253.8 62h.7v.7h-.7zM257.1 61.9h.7v.7h-.7zM253.1 62.5h.7v.7h-.7zM251 62.3h.7v.7h-.7zM248.6 62.4h.7v.7h-.7zM245 62.6h.7v.7h-.7zM241.9 62.5h.7v.7h-.7zM236.3 62.3h.7v.7h-.7zM234.7 62.4h.7v.7h-.7zM224 62.2h.7v.7h-.7zM220.7 62.8h.7v.7h-.7zM230.4 62.9h.7v.7h-.7zM238.9 63.1h.7v.7h-.7zM243 63.1h.7v.7h-.7zM245.9 62.7h.7v.7h-.7zM247.4 62.9h.7v.7h-.7zM249.9 62.9h.7v.7h-.7zM254 62.9h.7v.7h-.7zM260.9 62.7h.7v.7h-.7zM255.8 63.4h.7v.7h-.7zM252.9 63.3h.7v.7h-.7zM251.9 63.5h.7v.7h-.7zM251.1 63.5h.7v.7h-.7zM249.8 63.3h.7v.7h-.7zM248.9 63.4h.7v.7h-.7zM247.8 63.3h.7v.7h-.7zM244.2 63.2h.7v.7h-.7zM237.4 63.6h.7v.7h-.7zM229.1 63.2h.7v.7h-.7zM226.1 63.5h.7v.7h-.7zM219.3 63.9h.7v.7h-.7zM231.9 63.7h.7v.7h-.7zM240.8 64.1h.7v.7h-.7zM242.6 63.9h.7v.7h-.7zM246.7 63.8h.7v.7h-.7zM255.4 64.5h.7v.7h-.7zM254.1 64.4h.7v.7h-.7zM251.8 64.4h.7v.7h-.7zM250.2 64.6h.7v.7h-.7zM248.3 64.2h.7v.7h-.7zM245.3 64.6h.7v.7h-.7zM239.5 64.5h.7v.7h-.7zM217.7 64.3h.7v.7h-.7zM223.3 65h.7v.7h-.7zM234 65.1h.7v.7h-.7zM244.1 65h.7v.7h-.7zM245.8 64.7h.7v.7h-.7zM247.8 65.1h.7v.7h-.7zM249.3 64.8h.7v.7h-.7zM252.9 64.9h.7v.7h-.7zM254.8 64.9h.7v.7h-.7zM257.5 64.9h.7v.7h-.7zM252.3 65.6h.7v.7h-.7zM251 65.2h.7v.7h-.7zM246.5 65.4h.7v.7h-.7zM237.5 65.5h.7v.7h-.7zM235.4 65.5h.7v.7h-.7zM227.9 65.3h.7v.7h-.7zM215.8 65.4h.7v.7h-.7zM222.3 66h.7v.7h-.7zM230.2 66h.7v.7h-.7zM242.1 65.8h.7v.7h-.7zM244.8 66h.7v.7h-.7zM247.6 65.8h.7v.7h-.7zM249.5 66h.7v.7h-.7zM251.4 66.5h.7v.7h-.7zM250.3 66.3h.7v.7h-.7zM242.2 66.3h.7v.7h-.7zM240.9 66.3h.7v.7h-.7zM232 66.6h.7v.7h-.7zM221 66.9h.7v.7h-.7zM226.2 66.7h.7v.7h-.7zM240 66.9h.7v.7h-.7zM248.4 66.9h.7v.7h-.7zM256 67h.7v.7h-.7zM254.1 67.2h.7v.7h-.7zM252.9 67.6h.7v.7h-.7zM250.3 67.2h.7v.7h-.7zM247 67.3h.7v.7h-.7zM243.4 67.5h.7v.7h-.7zM237.4 67.5h.7v.7h-.7zM245.9 68.1h.7v.7h-.7zM257.9 68.1h.7v.7h-.7zM252 68.3h.7v.7h-.7zM249.9 68.6h.7v.7h-.7zM247.9 68.4h.7v.7h-.7zM234.8 68.3h.7v.7h-.7zM226.1 69h.7v.7h-.7zM243.8 69.1h.7v.7h-.7zM254.5 69h.7v.7h-.7zM255.7 69.5h.7v.7h-.7zM248.4 69.5h.7v.7h-.7zM242.4 69.5h.7v.7h-.7zM239.4 69.3h.7v.7h-.7zM236.7 69.4h.7v.7h-.7zM231.8 69.5h.7v.7h-.7zM220 69.6h.7v.7h-.7zM217.9 69.2h.7v.7h-.7z"/><path fill="#fff" d="M250.3 29.7h.7v.7h-.7zM251.2 30.4h.7v.7h-.7zM249.4 30.4h.7v.7h-.7zM252.2 30.9h.7v.7h-.7zM246.5 31.9h.7v.7h-.7zM248.4 31.8h.7v.7h-.7zM253.5 31.9h.7v.7h-.7zM254.3 32.5h.7v.7h-.7zM246.9 32.4h.7v.7h-.7zM245.9 32.8h.7v.7h-.7zM251.9 32.7h.7v.7h-.7zM246 33.8h.7v.7h-.7zM254.8 34.1h.7v.7h-.7zM255.5 34.5h.7v.7h-.7zM254.6 35.4h.7v.7h-.7zM245.4 35.3h.7v.7h-.7zM245.1 35.8h.7v.7h-.7zM245.7 36.9h.7v.7h-.7zM254.9 37h.7v.7h-.7zM253.4 38.6h.7v.7h-.7zM246.1 38.5h.7v.7h-.7zM254.5 39.3h.7v.7h-.7zM247 39.6h.7v.7h-.7zM246.4 40h.7v.7h-.7zM248 39.9h.7v.7h-.7zM252.8 39.9h.7v.7h-.7zM246.1 41h.7v.7h-.7zM250.9 40.9h.7v.7h-.7zM253.5 40.8h.7v.7h-.7zM252.9 41.4h.7v.7h-.7zM246.8 41.9h.7v.7h-.7zM251.8 41.8h.7v.7h-.7zM253.5 42.5h.7v.7h-.7zM249.5 42.3h.7v.7h-.7zM246.1 42.3h.7v.7h-.7zM245 43.1h.7v.7h-.7zM243.9 43.3h.7v.7h-.7zM242.7 44h.7v.7h-.7zM252.5 44.1h.7v.7h-.7zM253.8 44.1h.7v.7h-.7zM247.1 44.6h.7v.7h-.7zM244.5 44.4h.7v.7h-.7zM254.4 45.1h.7v.7h-.7zM242.8 45.6h.7v.7h-.7zM241.8 46h.7v.7h-.7zM253.8 45.8h.7v.7h-.7zM241.3 46.4h.7v.7h-.7zM242.7 46.8h.7v.7h-.7zM255 46.7h.7v.7h-.7zM241.9 47.7h.7v.7h-.7zM255.6 48.5h.7v.7h-.7zM253.6 48.6h.7v.7h-.7zM241.3 48.8h.7v.7h-.7zM255.2 49.2h.7v.7h-.7zM241.4 50.1h.7v.7h-.7zM254.9 50.5h.7v.7h-.7zM242.2 50.4h.7v.7h-.7zM255.1 51.5h.7v.7h-.7zM242.8 51.5h.7v.7h-.7zM242.1 51.8h.7v.7h-.7zM254.6 53.1h.7v.7h-.7zM253.5 53.4h.7v.7h-.7zM243.1 53.3h.7v.7h-.7zM243.5 54h.7v.7h-.7zM245 53.9h.7v.7h-.7zM254.1 54.2h.7v.7h-.7zM244 54.7h.7v.7h-.7zM252.9 54.9h.7v.7h-.7zM246.4 55.4h.7v.7h-.7zM245 55.5h.7v.7h-.7zM246 55.9h.7v.7h-.7zM253 55.8h.7v.7h-.7zM252 56.6h.7v.7h-.7zM249.1 56.3h.7v.7h-.7zM246.6 56.7h.7v.7h-.7zM249.7 56.8h.7v.7h-.7zM252.8 56.8h.7v.7h-.7zM251.2 57.5h.7v.7h-.7zM248.5 57.4h.7v.7h-.7zM246.7 57.3h.7v.7h-.7zM250.9 57.9h.7v.7h-.7zM249.8 58.6h.7v.7h-.7zM247.8 58.5h.7v.7h-.7zM249.1 59.1h.7v.7h-.7zM249.8 59.2h.7v.7h-.7z"/></g></g>
<rect x="214" y="19.6" width="50.3" height="49.7" fill="none" stroke="#9c9c9c" stroke-width="0.9"/>
<g fill="#222" font-size="3.2"><text x="207.4" y="25.72">10<tspan dy="-1.2" font-size="2.4">4</tspan></text><rect x="212.7" y="23.97" width="1.3" height=".7" opacity=".8"/><text x="207.4" y="36.66">10<tspan dy="-1.2" font-size="2.4">3</tspan></text><rect x="212.7" y="34.91" width="1.3" height=".7" opacity=".8"/><text x="207.4" y="48.09">10<tspan dy="-1.2" font-size="2.4">2</tspan></text><rect x="212.7" y="46.34" width="1.3" height=".7" opacity=".8"/><text x="207.4" y="59.77">10<tspan dy="-1.2" font-size="2.4">1</tspan></text><rect x="212.7" y="58.02" width="1.3" height=".7" opacity=".8"/><text x="209.6" y="65.58">0</text><rect x="212.7" y="64.23" width="1.3" height=".7" opacity=".8"/><text x="222.36" y="74.5">10<tspan dy="-1.2" font-size="2.4">1</tspan></text><rect x="224.21" y="69.3" width=".7" height="1.3" opacity=".8"/><text x="234.54" y="74.5">10<tspan dy="-1.2" font-size="2.4">2</tspan></text><rect x="236.39" y="69.3" width=".7" height="1.3" opacity=".8"/><text x="245.6" y="74.5">10<tspan dy="-1.2" font-size="2.4">3</tspan></text><rect x="247.45" y="69.3" width=".7" height="1.3" opacity=".8"/><text x="257.82" y="74.5">10<tspan dy="-1.2" font-size="2.4">4</tspan></text><rect x="259.67" y="69.3" width=".7" height="1.3" opacity=".8"/><text x="218.63" y="74.5">0</text><rect x="219.08" y="69.3" width=".7" height="1.3" opacity=".8"/></g>
<path d="M214 43.9L264.3 43.9" stroke="#858585" stroke-width="1.25" fill="none"/>
<path d="M242.6 19.6L242.6 69.3" stroke="#858585" stroke-width="1.25" fill="none"/>
<text x="215.6" y="27.8" font-size="9.5" text-anchor="start" fill="#111" stroke="#111" stroke-width=".25">4</text>
<text x="263.6" y="27.8" font-size="9.5" text-anchor="end" fill="#111" stroke="#111" stroke-width=".25">28</text>
<text x="214.9" y="68.9" font-size="9.5" text-anchor="start" fill="#111" stroke="#111" stroke-width=".25">15</text>
<text x="263.6" y="68.9" font-size="9.5" text-anchor="end" fill="#111" stroke="#111" stroke-width=".25">53</text>
<g clip-path="url(#c8)"><g filter="url(#bl)"><path fill="#000" d="M250.5 113.5h4v0.5h-4zM250 114h5.5v0.5h-5.5zM249 114.5h7v0.5h-7zM248.5 115h8v0.5h-8zM248 115.5h8.5v0.5h-8.5zM247.5 116h9v0.5h-9zM247 116.5h10v0.5h-10zM247 117h10v0.5h-10zM247 117.5h10v0.5h-10zM247 118h10.5v0.5h-10.5zM246.5 118.5h11v0.5h-11zM246.5 119h11v0.5h-11zM246.5 119.5h11.5v0.5h-11.5zM246.5 120h11.5v0.5h-11.5zM246.5 120.5h11.5v0.5h-11.5zM246.5 121h11.5v0.5h-11.5zM246.5 121.5h11.5v0.5h-11.5zM246.5 122h11.5v0.5h-11.5zM246 122.5h12v0.5h-12zM246 123h12v0.5h-12zM246 123.5h12v0.5h-12zM246 124h12v0.5h-12zM246 124.5h12v0.5h-12zM246 125h12v0.5h-12zM246 125.5h12v0.5h-12zM246 126h12v0.5h-12zM246 126.5h12v0.5h-12zM246 127h12v0.5h-12zM246 127.5h12v0.5h-12zM246 128h12v0.5h-12zM246 128.5h12v0.5h-12zM246 129h12v0.5h-12zM246 129.5h12v0.5h-12zM246 130h12v0.5h-12zM246 130.5h12v0.5h-12zM246.5 131h11.5v0.5h-11.5zM246.5 131.5h11.5v0.5h-11.5zM246.5 132h11.5v0.5h-11.5zM246.5 132.5h11.5v0.5h-11.5zM246.5 133h11.5v0.5h-11.5zM247 133.5h11v0.5h-11zM247 134h11v0.5h-11zM247 134.5h11v0.5h-11zM247.5 135h10.5v0.5h-10.5zM247.5 135.5h10.5v0.5h-10.5zM247.5 136h10.5v0.5h-10.5zM247.5 136.5h10v0.5h-10zM248 137h9.5v0.5h-9.5zM248 137.5h9.5v0.5h-9.5zM248 138h9.5v0.5h-9.5zM248.5 138.5h9v0.5h-9zM248.5 139h9v0.5h-9zM248.5 139.5h9v0.5h-9zM249 140h8.5v0.5h-8.5zM249 140.5h8.5v0.5h-8.5zM249.5 141h8v0.5h-8zM249.5 141.5h7.5v0.5h-7.5zM250 142h7v0.5h-7zM250 142.5h7v0.5h-7zM250.5 143h6.5v0.5h-6.5zM251 143.5h5.5v0.5h-5.5zM251 144h5v0.5h-5zM251.5 144.5h3.5v0.5h-3.5z"/><path fill="#000" d="M244 107.9h.7v.7h-.7zM246.9 108.1h.7v.7h-.7zM249 108.4h.7v.7h-.7zM251.7 109.5h.7v.7h-.7zM255 109.9h.7v.7h-.7zM244.5 110.3h.7v.7h-.7zM247.9 111.2h.7v.7h-.7zM245.9 111.3h.7v.7h-.7zM250.3 111.7h.7v.7h-.7zM252.3 111.9h.7v.7h-.7zM242.9 112.6h.7v.7h-.7zM244.8 113.1h.7v.7h-.7zM247 113h.7v.7h-.7zM250 112.8h.7v.7h-.7zM251.1 113.1h.7v.7h-.7zM251.8 112.8h.7v.7h-.7zM253.5 112.8h.7v.7h-.7zM255.4 112.8h.7v.7h-.7zM257.9 113.3h.7v.7h-.7zM254.8 113.5h.7v.7h-.7zM248.8 113.5h.7v.7h-.7zM247.7 113.3h.7v.7h-.7zM239.9 114.1h.7v.7h-.7zM249.4 114.1h.7v.7h-.7zM256.1 113.8h.7v.7h-.7zM248.2 114.5h.7v.7h-.7zM245 114.3h.7v.7h-.7zM243.4 114.8h.7v.7h-.7zM248.1 115.1h.7v.7h-.7zM257 114.8h.7v.7h-.7zM247.3 115.2h.7v.7h-.7zM245.8 115.5h.7v.7h-.7zM238.8 115.8h.7v.7h-.7zM247 115.7h.7v.7h-.7zM256.4 116h.7v.7h-.7zM259.8 116.3h.7v.7h-.7zM257.5 116.5h.7v.7h-.7zM245.7 116.3h.7v.7h-.7zM241.3 116.5h.7v.7h-.7zM242.4 116.9h.7v.7h-.7zM244.5 116.9h.7v.7h-.7zM246.6 117h.7v.7h-.7zM256.8 117h.7v.7h-.7zM245.5 117.4h.7v.7h-.7zM234 117.5h.7v.7h-.7zM237.1 118.1h.7v.7h-.7zM246.4 117.9h.7v.7h-.7zM257.3 118h.7v.7h-.7zM246.1 118.5h.7v.7h-.7zM244.1 118.3h.7v.7h-.7zM240.3 119h.7v.7h-.7zM241.9 119h.7v.7h-.7zM245.2 118.8h.7v.7h-.7zM257.7 118.8h.7v.7h-.7zM243.3 119.6h.7v.7h-.7zM226.4 119.2h.7v.7h-.7zM220.3 119.2h.7v.7h-.7zM222.9 119.8h.7v.7h-.7zM229 119.8h.7v.7h-.7zM237 119.8h.7v.7h-.7zM244.4 119.8h.7v.7h-.7zM258.3 119.8h.7v.7h-.7zM245.7 120.6h.7v.7h-.7zM241.5 120.3h.7v.7h-.7zM239.1 120.3h.7v.7h-.7zM232.6 120.3h.7v.7h-.7zM244.9 120.7h.7v.7h-.7zM245.8 120.9h.7v.7h-.7zM257.8 121h.7v.7h-.7zM244.6 121.5h.7v.7h-.7zM242.9 121.3h.7v.7h-.7zM242.6 121.8h.7v.7h-.7zM245.2 122h.7v.7h-.7zM257.8 122h.7v.7h-.7zM259.7 122h.7v.7h-.7zM262.1 122.5h.7v.7h-.7zM238.8 122.2h.7v.7h-.7zM235.3 122.7h.7v.7h-.7zM241.4 122.8h.7v.7h-.7zM243.2 123.1h.7v.7h-.7zM244.4 122.9h.7v.7h-.7zM258.1 122.9h.7v.7h-.7zM240.4 123.2h.7v.7h-.7zM217.3 124h.7v.7h-.7zM219.3 124h.7v.7h-.7zM227.4 124h.7v.7h-.7zM233.6 123.7h.7v.7h-.7zM243.7 123.8h.7v.7h-.7zM244.7 123.9h.7v.7h-.7zM257.9 124.1h.7v.7h-.7zM245.3 124.5h.7v.7h-.7zM243.4 124.3h.7v.7h-.7zM241.7 124.5h.7v.7h-.7zM236.5 124.4h.7v.7h-.7zM223.9 124.6h.7v.7h-.7zM238.6 124.7h.7v.7h-.7zM244.6 124.9h.7v.7h-.7zM258.5 125.1h.7v.7h-.7zM243.2 125.5h.7v.7h-.7zM241.1 125.3h.7v.7h-.7zM230.4 125.7h.7v.7h-.7zM245 125.9h.7v.7h-.7zM245.4 126.1h.7v.7h-.7zM258.2 125.7h.7v.7h-.7zM243.2 126.2h.7v.7h-.7zM242.4 126.3h.7v.7h-.7zM239.5 126.3h.7v.7h-.7zM231.9 126.6h.7v.7h-.7zM244.5 126.9h.7v.7h-.7zM245.3 126.9h.7v.7h-.7zM258.5 126.8h.7v.7h-.7zM258.1 127.3h.7v.7h-.7zM244.9 127.5h.7v.7h-.7zM243.6 127.2h.7v.7h-.7zM241.7 127.6h.7v.7h-.7zM237.1 127.5h.7v.7h-.7zM226.1 127.3h.7v.7h-.7zM221 127.5h.7v.7h-.7zM228.4 127.7h.7v.7h-.7zM240.2 127.7h.7v.7h-.7zM245.6 127.7h.7v.7h-.7zM260.6 128.6h.7v.7h-.7zM258.6 128.5h.7v.7h-.7zM244.3 128.2h.7v.7h-.7zM239 128.2h.7v.7h-.7zM242.6 129.1h.7v.7h-.7zM243.9 129h.7v.7h-.7zM245.6 128.9h.7v.7h-.7zM258 128.8h.7v.7h-.7zM262.4 129.6h.7v.7h-.7zM244.7 129.2h.7v.7h-.7zM242.8 129.2h.7v.7h-.7zM241.6 129.2h.7v.7h-.7zM218 129.9h.7v.7h-.7zM234.5 129.9h.7v.7h-.7zM235.8 129.7h.7v.7h-.7zM244.6 130h.7v.7h-.7zM258.7 130.2h.7v.7h-.7zM245 130.5h.7v.7h-.7zM242.9 130.4h.7v.7h-.7zM239.9 130.4h.7v.7h-.7zM232.4 131h.7v.7h-.7zM243.7 130.7h.7v.7h-.7zM245.2 130.7h.7v.7h-.7zM258.1 130.9h.7v.7h-.7zM244.9 131.5h.7v.7h-.7zM239.8 131.3h.7v.7h-.7zM237.8 131.3h.7v.7h-.7zM222 131.4h.7v.7h-.7zM224.1 132.1h.7v.7h-.7zM241 132.1h.7v.7h-.7zM241.8 131.9h.7v.7h-.7zM243.1 131.8h.7v.7h-.7zM244.5 131.9h.7v.7h-.7zM257.8 132h.7v.7h-.7zM245.5 132.2h.7v.7h-.7zM243.3 132.6h.7v.7h-.7zM228.7 132.4h.7v.7h-.7zM236.3 132.8h.7v.7h-.7zM245.8 133.1h.7v.7h-.7zM257.8 132.7h.7v.7h-.7zM259.9 133.3h.7v.7h-.7zM246.5 133.3h.7v.7h-.7zM245 133.4h.7v.7h-.7zM240.2 133.6h.7v.7h-.7zM238.8 133.3h.7v.7h-.7zM219.6 133.9h.7v.7h-.7zM242.3 134.1h.7v.7h-.7zM243.8 134.1h.7v.7h-.7zM246 133.8h.7v.7h-.7zM257.9 133.7h.7v.7h-.7zM246.4 134.5h.7v.7h-.7zM245.5 134.3h.7v.7h-.7zM243.2 134.6h.7v.7h-.7zM232.8 135h.7v.7h-.7zM237.7 134.7h.7v.7h-.7zM242.8 134.9h.7v.7h-.7zM246.7 134.9h.7v.7h-.7zM246.3 135.4h.7v.7h-.7zM244.9 135.2h.7v.7h-.7zM241.2 135.4h.7v.7h-.7zM226.2 136h.7v.7h-.7zM234.8 135.7h.7v.7h-.7zM243.4 135.7h.7v.7h-.7zM258.1 135.8h.7v.7h-.7zM258.5 136.6h.7v.7h-.7zM257.2 136.3h.7v.7h-.7zM246.4 136.4h.7v.7h-.7zM245.7 136.4h.7v.7h-.7zM244.8 136.5h.7v.7h-.7zM244.1 136.6h.7v.7h-.7zM241.7 136.6h.7v.7h-.7zM230.4 136.3h.7v.7h-.7zM217.2 136.8h.7v.7h-.7zM239.1 136.8h.7v.7h-.7zM241 137h.7v.7h-.7zM247.3 137.1h.7v.7h-.7zM259.7 136.8h.7v.7h-.7zM246.7 137.5h.7v.7h-.7zM220.7 137.6h.7v.7h-.7zM223.3 137.9h.7v.7h-.7zM237.9 137.7h.7v.7h-.7zM243.4 137.8h.7v.7h-.7zM245 137.9h.7v.7h-.7zM246.1 138h.7v.7h-.7zM247.4 137.8h.7v.7h-.7zM257.7 138h.7v.7h-.7zM257.6 138.3h.7v.7h-.7zM242.9 138.3h.7v.7h-.7zM239.2 138.4h.7v.7h-.7zM228.3 139h.7v.7h-.7zM235.8 139h.7v.7h-.7zM243.9 138.7h.7v.7h-.7zM245.3 139.1h.7v.7h-.7zM246.5 138.9h.7v.7h-.7zM247.2 139.1h.7v.7h-.7zM241.5 139.4h.7v.7h-.7zM226 140.1h.7v.7h-.7zM244.3 139.8h.7v.7h-.7zM246 140h.7v.7h-.7zM247.2 140h.7v.7h-.7zM248.3 140h.7v.7h-.7zM257.3 139.9h.7v.7h-.7zM258.6 140.5h.7v.7h-.7zM243.6 140.3h.7v.7h-.7zM233 140.4h.7v.7h-.7zM241.9 141h.7v.7h-.7zM245.4 140.8h.7v.7h-.7zM247 140.9h.7v.7h-.7zM248.2 140.8h.7v.7h-.7zM248.8 141.1h.7v.7h-.7zM262.7 140.9h.7v.7h-.7zM257.7 141.6h.7v.7h-.7zM240.3 141.2h.7v.7h-.7zM236.7 141.4h.7v.7h-.7zM235 141.4h.7v.7h-.7zM221.6 141.6h.7v.7h-.7zM230.4 141.7h.7v.7h-.7zM238.6 141.8h.7v.7h-.7zM245 141.9h.7v.7h-.7zM247.9 142h.7v.7h-.7zM257 142.6h.7v.7h-.7zM249.3 142.3h.7v.7h-.7zM223.7 142.2h.7v.7h-.7zM218 142.3h.7v.7h-.7zM241.7 142.8h.7v.7h-.7zM244 142.9h.7v.7h-.7zM245.4 143.1h.7v.7h-.7zM246.3 142.8h.7v.7h-.7zM247.7 143.1h.7v.7h-.7zM258.3 143h.7v.7h-.7zM260.4 142.8h.7v.7h-.7zM256.4 143.2h.7v.7h-.7zM242.8 143.5h.7v.7h-.7zM240 143.7h.7v.7h-.7zM249.4 143.9h.7v.7h-.7zM256.9 144.1h.7v.7h-.7zM256 144.4h.7v.7h-.7zM254.7 144.2h.7v.7h-.7zM251.1 144.3h.7v.7h-.7zM247.8 144.5h.7v.7h-.7zM245.2 144.5h.7v.7h-.7zM226.9 145h.7v.7h-.7zM246.9 145.1h.7v.7h-.7zM250.5 145h.7v.7h-.7zM252.8 144.8h.7v.7h-.7zM254.6 144.9h.7v.7h-.7zM252.7 145.3h.7v.7h-.7zM242.4 145.6h.7v.7h-.7zM236.2 145.5h.7v.7h-.7zM243.9 145.7h.7v.7h-.7zM252.1 145.8h.7v.7h-.7zM254.7 145.8h.7v.7h-.7zM245.9 146.3h.7v.7h-.7zM239.6 146.3h.7v.7h-.7zM229.2 146.2h.7v.7h-.7zM224.6 146.6h.7v.7h-.7zM219.2 147h.7v.7h-.7zM250.2 147.2h.7v.7h-.7zM248.3 147.4h.7v.7h-.7zM240.9 147.3h.7v.7h-.7zM234.3 147.3h.7v.7h-.7zM232.6 147.3h.7v.7h-.7zM243.3 147.9h.7v.7h-.7zM257.8 147.7h.7v.7h-.7zM216.4 148.4h.7v.7h-.7zM237.7 149h.7v.7h-.7zM245.7 148.8h.7v.7h-.7zM253.9 149.4h.7v.7h-.7zM244.2 149.2h.7v.7h-.7zM222.5 149.9h.7v.7h-.7zM240.8 150h.7v.7h-.7zM251.5 150.4h.7v.7h-.7zM218.8 151h.7v.7h-.7zM228.2 150.9h.7v.7h-.7zM248.4 150.7h.7v.7h-.7zM246.6 151.3h.7v.7h-.7zM237.3 151.6h.7v.7h-.7zM235 151.2h.7v.7h-.7zM227 151.7h.7v.7h-.7zM232.1 152.3h.7v.7h-.7z"/><path fill="#fff" d="M253.9 113.5h.7v.7h-.7zM255.3 114.3h.7v.7h-.7zM257.1 118.4h.7v.7h-.7zM246.4 120h.7v.7h-.7zM257.5 119.7h.7v.7h-.7zM246 122.3h.7v.7h-.7zM257.4 123h.7v.7h-.7zM246.1 123.4h.7v.7h-.7zM257.4 124.7h.7v.7h-.7zM245.7 125.2h.7v.7h-.7zM257.5 126.2h.7v.7h-.7zM246.1 130.1h.7v.7h-.7zM257.4 130.1h.7v.7h-.7zM246.2 130.8h.7v.7h-.7zM246.4 132h.7v.7h-.7zM256.7 132.4h.7v.7h-.7zM257.5 135h.7v.7h-.7zM247.2 135.6h.7v.7h-.7zM256.7 137.2h.7v.7h-.7zM248.2 138.3h.7v.7h-.7zM256.9 140.2h.7v.7h-.7zM256.4 141.3h.7v.7h-.7zM249.7 142.1h.7v.7h-.7zM250.3 142.9h.7v.7h-.7zM252 144.2h.7v.7h-.7z"/></g></g>
<rect x="214" y="103.3" width="50.3" height="49.4" fill="none" stroke="#9c9c9c" stroke-width="0.9"/>
<g fill="#222" font-size="3.2"><text x="207.4" y="109.39">10<tspan dy="-1.2" font-size="2.4">4</tspan></text><rect x="212.7" y="107.64" width="1.3" height=".7" opacity=".8"/><text x="207.4" y="120.26">10<tspan dy="-1.2" font-size="2.4">3</tspan></text><rect x="212.7" y="118.51" width="1.3" height=".7" opacity=".8"/><text x="207.4" y="131.62">10<tspan dy="-1.2" font-size="2.4">2</tspan></text><rect x="212.7" y="129.87" width="1.3" height=".7" opacity=".8"/><text x="207.4" y="143.23">10<tspan dy="-1.2" font-size="2.4">1</tspan></text><rect x="212.7" y="141.48" width="1.3" height=".7" opacity=".8"/><text x="209.6" y="149.01">0</text><rect x="212.7" y="147.66" width="1.3" height=".7" opacity=".8"/><text x="222.36" y="157.9">10<tspan dy="-1.2" font-size="2.4">1</tspan></text><rect x="224.21" y="152.7" width=".7" height="1.3" opacity=".8"/><text x="234.54" y="157.9">10<tspan dy="-1.2" font-size="2.4">2</tspan></text><rect x="236.39" y="152.7" width=".7" height="1.3" opacity=".8"/><text x="245.6" y="157.9">10<tspan dy="-1.2" font-size="2.4">3</tspan></text><rect x="247.45" y="152.7" width=".7" height="1.3" opacity=".8"/><text x="257.82" y="157.9">10<tspan dy="-1.2" font-size="2.4">4</tspan></text><rect x="259.67" y="152.7" width=".7" height="1.3" opacity=".8"/><text x="218.63" y="157.9">0</text><rect x="219.08" y="152.7" width=".7" height="1.3" opacity=".8"/></g>
<path d="M214 127.5L264.3 127.5" stroke="#858585" stroke-width="1.25" fill="none"/>
<path d="M242.8 103.3L242.8 152.7" stroke="#858585" stroke-width="1.25" fill="none"/>
<rect x="246.6" y="146" width="17" height="6.6" fill="#fff"/>
<text x="215.6" y="111.5" font-size="9.5" text-anchor="start" fill="#111" stroke="#111" stroke-width=".25">0.3</text>
<text x="263.6" y="111.5" font-size="9.5" text-anchor="end" fill="#111" stroke="#111" stroke-width=".25">47</text>
<text x="214.9" y="152.3" font-size="9.5" text-anchor="start" fill="#111" stroke="#111" stroke-width=".25">1.7</text>
<text x="263.6" y="152.3" font-size="9.5" text-anchor="end" fill="#111" stroke="#111" stroke-width=".25">51</text>
<g clip-path="url(#c9)"><g filter="url(#bl)"><path fill="#000" d="M253.5 196.5h2v0.5h-2zM253 197h3v0.5h-3zM252.5 197.5h4v0.5h-4zM252 198h5v0.5h-5zM252 198.5h5.5v0.5h-5.5zM251.5 199h6v0.5h-6zM251.5 199.5h6v0.5h-6zM251 200h7v0.5h-7zM251 200.5h7v0.5h-7zM251 201h7v0.5h-7zM251 201.5h7v0.5h-7zM250.5 202h8v0.5h-8zM250.5 202.5h8v0.5h-8zM250.5 203h8v0.5h-8zM250.5 203.5h8v0.5h-8zM250.5 204h8v0.5h-8zM250.5 204.5h8v0.5h-8zM250.5 205h8v0.5h-8zM250.5 205.5h8v0.5h-8zM250.5 206h7.5v0.5h-7.5zM250.5 206.5h7.5v0.5h-7.5zM250.5 207h7.5v0.5h-7.5zM250.5 207.5h7.5v0.5h-7.5zM250.5 208h7.5v0.5h-7.5zM250.5 208.5h7.5v0.5h-7.5zM250.5 209h7v0.5h-7zM250.5 209.5h7v0.5h-7zM250.5 210h7v0.5h-7zM250.5 210.5h7v0.5h-7zM250.5 211h7v0.5h-7zM250.5 211.5h7v0.5h-7zM250.5 212h7v0.5h-7zM250.5 212.5h7v0.5h-7zM250.5 213h7v0.5h-7zM250.5 213.5h7v0.5h-7zM250.5 214h7v0.5h-7zM250 214.5h7.5v0.5h-7.5zM250 215h7.5v0.5h-7.5zM250 215.5h7.5v0.5h-7.5zM250 216h7.5v0.5h-7.5zM250 216.5h7.5v0.5h-7.5zM250 217h7.5v0.5h-7.5zM250 217.5h7.5v0.5h-7.5zM250.5 218h7v0.5h-7zM250.5 218.5h7v0.5h-7zM250.5 219h7v0.5h-7zM250.5 219.5h7v0.5h-7zM250.5 220h6.5v0.5h-6.5zM251 220.5h6v0.5h-6zM251 221h6v0.5h-6zM251.5 221.5h5v0.5h-5zM251.5 222h5v0.5h-5zM252 222.5h4v0.5h-4zM252.5 223h3v0.5h-3zM253 223.5h2v0.5h-2z"/><path fill="#000" d="M254.4 191.3h.7v.7h-.7zM250.2 191.4h.7v.7h-.7zM252.7 191.8h.7v.7h-.7zM252.6 193.1h.7v.7h-.7zM255.4 193h.7v.7h-.7zM257.6 193.6h.7v.7h-.7zM251.3 194.1h.7v.7h-.7zM254.2 193.8h.7v.7h-.7zM256.6 194.6h.7v.7h-.7zM252.7 194.5h.7v.7h-.7zM248.3 194.6h.7v.7h-.7zM251.1 194.9h.7v.7h-.7zM253.7 194.7h.7v.7h-.7zM255.2 194.9h.7v.7h-.7zM258.8 195.4h.7v.7h-.7zM255 195.2h.7v.7h-.7zM253.5 195.3h.7v.7h-.7zM252.6 195.9h.7v.7h-.7zM254 195.8h.7v.7h-.7zM256.2 195.8h.7v.7h-.7zM255.4 196.4h.7v.7h-.7zM251.8 196.6h.7v.7h-.7zM250.9 196.5h.7v.7h-.7zM249.3 196.3h.7v.7h-.7zM246.6 196.3h.7v.7h-.7zM252 197h.7v.7h-.7zM256.1 196.7h.7v.7h-.7zM256.6 196.9h.7v.7h-.7zM257.4 197.1h.7v.7h-.7zM256.9 197.4h.7v.7h-.7zM250.8 197.2h.7v.7h-.7zM248.4 198h.7v.7h-.7zM249.9 197.9h.7v.7h-.7zM258.8 198.6h.7v.7h-.7zM258.1 198.4h.7v.7h-.7zM251 198.5h.7v.7h-.7zM243.2 198.4h.7v.7h-.7zM259.3 199.5h.7v.7h-.7zM257.6 199.5h.7v.7h-.7zM250.8 199.4h.7v.7h-.7zM249.3 199.2h.7v.7h-.7zM247.4 199.4h.7v.7h-.7zM245.2 199.3h.7v.7h-.7zM250.5 199.8h.7v.7h-.7zM257.9 199.9h.7v.7h-.7zM249 200.2h.7v.7h-.7zM240.7 201h.7v.7h-.7zM249.6 200.8h.7v.7h-.7zM250.6 200.9h.7v.7h-.7zM258 200.9h.7v.7h-.7zM259.1 201.1h.7v.7h-.7zM261.1 201.1h.7v.7h-.7zM258 201.3h.7v.7h-.7zM246.4 201.5h.7v.7h-.7zM243.4 201.7h.7v.7h-.7zM249.2 201.8h.7v.7h-.7zM260 202.4h.7v.7h-.7zM247 203.1h.7v.7h-.7zM247.9 202.7h.7v.7h-.7zM249.5 202.7h.7v.7h-.7zM258.5 202.8h.7v.7h-.7zM258.9 202.9h.7v.7h-.7zM248.9 203.2h.7v.7h-.7zM238.4 203.7h.7v.7h-.7zM249.7 203.8h.7v.7h-.7zM259.6 204.3h.7v.7h-.7zM249.1 204.2h.7v.7h-.7zM245.7 204.4h.7v.7h-.7zM243.5 204.5h.7v.7h-.7zM250 204.8h.7v.7h-.7zM258.2 204.7h.7v.7h-.7zM258.2 205.5h.7v.7h-.7zM249.6 205.3h.7v.7h-.7zM247.3 205.4h.7v.7h-.7zM240.2 205.4h.7v.7h-.7zM242.5 205.9h.7v.7h-.7zM244.9 205.9h.7v.7h-.7zM248.2 206h.7v.7h-.7zM258.8 206.3h.7v.7h-.7zM249.9 206.4h.7v.7h-.7zM247.1 206.9h.7v.7h-.7zM248.3 206.9h.7v.7h-.7zM249.8 207h.7v.7h-.7zM258 206.7h.7v.7h-.7zM259.9 207.1h.7v.7h-.7zM249.3 207.6h.7v.7h-.7zM244.1 208.1h.7v.7h-.7zM248.2 208h.7v.7h-.7zM258.1 207.8h.7v.7h-.7zM259.6 208.4h.7v.7h-.7zM250 208.3h.7v.7h-.7zM247.5 208.5h.7v.7h-.7zM245.5 208.3h.7v.7h-.7zM240.7 208.6h.7v.7h-.7zM236.9 208.6h.7v.7h-.7zM234.2 209h.7v.7h-.7zM243.1 208.7h.7v.7h-.7zM248.3 209h.7v.7h-.7zM257.3 208.9h.7v.7h-.7zM250.1 209.4h.7v.7h-.7zM246.7 209.3h.7v.7h-.7zM249 209.9h.7v.7h-.7zM249.8 209.9h.7v.7h-.7zM258.5 210h.7v.7h-.7zM257.5 210.2h.7v.7h-.7zM247.9 210.5h.7v.7h-.7zM246.1 210.4h.7v.7h-.7zM221.8 211h.7v.7h-.7zM239.4 211.1h.7v.7h-.7zM248.4 210.7h.7v.7h-.7zM249.3 210.9h.7v.7h-.7zM258.2 210.8h.7v.7h-.7zM260.6 210.8h.7v.7h-.7zM250 211.2h.7v.7h-.7zM247.2 211.2h.7v.7h-.7zM244.1 211.2h.7v.7h-.7zM230.1 211.6h.7v.7h-.7zM226.1 211.3h.7v.7h-.7zM241.5 212h.7v.7h-.7zM246 211.9h.7v.7h-.7zM249.9 211.9h.7v.7h-.7zM257.5 211.8h.7v.7h-.7zM258.3 211.8h.7v.7h-.7zM257.5 212.4h.7v.7h-.7zM248.8 212.2h.7v.7h-.7zM248 212.3h.7v.7h-.7zM244.7 212.4h.7v.7h-.7zM249.7 213h.7v.7h-.7zM259.1 213.2h.7v.7h-.7zM257.3 213.3h.7v.7h-.7zM249.3 213.4h.7v.7h-.7zM248.5 213.3h.7v.7h-.7zM246.8 213.4h.7v.7h-.7zM242.4 213.8h.7v.7h-.7zM245.2 213.8h.7v.7h-.7zM257.5 213.8h.7v.7h-.7zM257.3 214.3h.7v.7h-.7zM249.4 214.3h.7v.7h-.7zM247.9 214.5h.7v.7h-.7zM243.6 214.5h.7v.7h-.7zM249.1 215h.7v.7h-.7zM258.3 215h.7v.7h-.7zM259.2 215.3h.7v.7h-.7zM257.6 215.2h.7v.7h-.7zM247 215.3h.7v.7h-.7zM240.4 215.4h.7v.7h-.7zM237.9 215.9h.7v.7h-.7zM245.4 216h.7v.7h-.7zM247.2 215.9h.7v.7h-.7zM248.9 215.9h.7v.7h-.7zM257.5 216.1h.7v.7h-.7zM248.2 216.3h.7v.7h-.7zM242.9 216.5h.7v.7h-.7zM218.5 216.2h.7v.7h-.7zM245.3 216.8h.7v.7h-.7zM249.4 216.7h.7v.7h-.7zM257.5 217.1h.7v.7h-.7zM259.3 216.7h.7v.7h-.7zM258.6 217.2h.7v.7h-.7zM248.7 217.2h.7v.7h-.7zM247.6 217.5h.7v.7h-.7zM249.4 217.9h.7v.7h-.7zM257.2 218.6h.7v.7h-.7zM249.1 218.6h.7v.7h-.7zM245 218.5h.7v.7h-.7zM233.1 218.7h.7v.7h-.7zM239.7 219h.7v.7h-.7zM243.3 218.9h.7v.7h-.7zM247.1 218.9h.7v.7h-.7zM248.3 218.7h.7v.7h-.7zM257.5 219h.7v.7h-.7zM259.4 218.9h.7v.7h-.7zM257.9 219.2h.7v.7h-.7zM249.4 219.3h.7v.7h-.7zM246.8 220h.7v.7h-.7zM250.1 220h.7v.7h-.7zM257.5 220h.7v.7h-.7zM249.1 220.5h.7v.7h-.7zM241.5 220.5h.7v.7h-.7zM223.1 220.4h.7v.7h-.7zM237.4 220.9h.7v.7h-.7zM245.1 220.8h.7v.7h-.7zM248.1 221h.7v.7h-.7zM250 221h.7v.7h-.7zM257.7 220.9h.7v.7h-.7zM259.2 221.3h.7v.7h-.7zM256.4 221.6h.7v.7h-.7zM250.3 221.2h.7v.7h-.7zM226.6 221.5h.7v.7h-.7zM247 221.8h.7v.7h-.7zM249.4 222h.7v.7h-.7zM256.5 222.1h.7v.7h-.7zM257.5 222.1h.7v.7h-.7zM255.7 222.4h.7v.7h-.7zM251.6 222.3h.7v.7h-.7zM251.1 222.3h.7v.7h-.7zM247.8 222.6h.7v.7h-.7zM244.2 222.2h.7v.7h-.7zM243.1 222.5h.7v.7h-.7zM249.8 222.8h.7v.7h-.7zM256.7 223h.7v.7h-.7zM258 223.4h.7v.7h-.7zM256.1 223.5h.7v.7h-.7zM252.5 223.5h.7v.7h-.7zM251.2 223.3h.7v.7h-.7zM248.3 223.4h.7v.7h-.7zM250 224h.7v.7h-.7zM252.1 223.8h.7v.7h-.7zM252.8 224.1h.7v.7h-.7zM257.1 224.4h.7v.7h-.7zM255.6 224.4h.7v.7h-.7zM254.8 224.2h.7v.7h-.7zM250.9 224.6h.7v.7h-.7zM246.6 224.3h.7v.7h-.7zM229.5 224.9h.7v.7h-.7zM239.7 224.8h.7v.7h-.7zM252.6 224.9h.7v.7h-.7zM253.2 225h.7v.7h-.7zM254.6 225.1h.7v.7h-.7zM255.8 225.2h.7v.7h-.7zM250.5 225.5h.7v.7h-.7zM247.8 225.6h.7v.7h-.7zM251.4 225.9h.7v.7h-.7zM253 226h.7v.7h-.7zM253.7 226.1h.7v.7h-.7zM258.9 226h.7v.7h-.7zM254.9 226.4h.7v.7h-.7zM249 226.3h.7v.7h-.7zM243.6 226.9h.7v.7h-.7zM245.9 226.9h.7v.7h-.7zM251.8 226.7h.7v.7h-.7zM253.3 226.9h.7v.7h-.7zM256.4 226.7h.7v.7h-.7zM250.3 227.6h.7v.7h-.7zM254.7 228.5h.7v.7h-.7zM252.7 228.5h.7v.7h-.7zM235.2 228.5h.7v.7h-.7zM218.1 228.2h.7v.7h-.7zM233.4 228.7h.7v.7h-.7zM241.2 228.8h.7v.7h-.7zM250 228.8h.7v.7h-.7zM222.1 229.4h.7v.7h-.7zM247.6 230.3h.7v.7h-.7zM238.5 230.3h.7v.7h-.7zM252.6 231.1h.7v.7h-.7zM256 231h.7v.7h-.7zM249.8 231.3h.7v.7h-.7zM224.9 232.6h.7v.7h-.7zM253.8 234.4h.7v.7h-.7zM229.2 235.2h.7v.7h-.7z"/><path fill="#fff" d="M253.4 196.4h.7v.7h-.7zM254.4 197.5h.7v.7h-.7zM251.8 197.7h.7v.7h-.7zM256.3 197.9h.7v.7h-.7zM252 199h.7v.7h-.7zM257 198.9h.7v.7h-.7zM250.7 201.3h.7v.7h-.7zM257.5 202.4h.7v.7h-.7zM250.5 202.2h.7v.7h-.7zM257.8 204h.7v.7h-.7zM250.4 204.9h.7v.7h-.7zM257.5 205.9h.7v.7h-.7zM250.2 206.5h.7v.7h-.7zM250.8 207.9h.7v.7h-.7zM257.6 207.8h.7v.7h-.7zM257.1 209.5h.7v.7h-.7zM250.9 209.9h.7v.7h-.7zM257 210.8h.7v.7h-.7zM250.6 212.6h.7v.7h-.7zM250.3 214.2h.7v.7h-.7zM250 215h.7v.7h-.7zM249.8 216.1h.7v.7h-.7zM256.4 216.5h.7v.7h-.7zM250.5 217h.7v.7h-.7zM250.2 217.9h.7v.7h-.7zM257 217.9h.7v.7h-.7zM250.4 218.8h.7v.7h-.7zM256.3 219.8h.7v.7h-.7zM251.1 220.3h.7v.7h-.7zM256.1 221h.7v.7h-.7zM251.3 221.4h.7v.7h-.7zM252.5 221.9h.7v.7h-.7zM253.7 223h.7v.7h-.7zM255 222.9h.7v.7h-.7zM254.3 223.3h.7v.7h-.7zM253.6 223.2h.7v.7h-.7z"/></g></g>
<rect x="214" y="186.3" width="50.3" height="49.4" fill="none" stroke="#9c9c9c" stroke-width="0.9"/>
<g fill="#222" font-size="3.2"><text x="207.4" y="192.39">10<tspan dy="-1.2" font-size="2.4">4</tspan></text><rect x="212.7" y="190.64" width="1.3" height=".7" opacity=".8"/><text x="207.4" y="203.26">10<tspan dy="-1.2" font-size="2.4">3</tspan></text><rect x="212.7" y="201.51" width="1.3" height=".7" opacity=".8"/><text x="207.4" y="214.62">10<tspan dy="-1.2" font-size="2.4">2</tspan></text><rect x="212.7" y="212.87" width="1.3" height=".7" opacity=".8"/><text x="207.4" y="226.23">10<tspan dy="-1.2" font-size="2.4">1</tspan></text><rect x="212.7" y="224.48" width="1.3" height=".7" opacity=".8"/><text x="209.6" y="232.01">0</text><rect x="212.7" y="230.66" width="1.3" height=".7" opacity=".8"/><text x="222.36" y="240.9">10<tspan dy="-1.2" font-size="2.4">1</tspan></text><rect x="224.21" y="235.7" width=".7" height="1.3" opacity=".8"/><text x="234.54" y="240.9">10<tspan dy="-1.2" font-size="2.4">2</tspan></text><rect x="236.39" y="235.7" width=".7" height="1.3" opacity=".8"/><text x="245.6" y="240.9">10<tspan dy="-1.2" font-size="2.4">3</tspan></text><rect x="247.45" y="235.7" width=".7" height="1.3" opacity=".8"/><text x="257.82" y="240.9">10<tspan dy="-1.2" font-size="2.4">4</tspan></text><rect x="259.67" y="235.7" width=".7" height="1.3" opacity=".8"/><text x="218.63" y="240.9">0</text><rect x="219.08" y="235.7" width=".7" height="1.3" opacity=".8"/></g>
<path d="M214 210.9L264.3 210.9" stroke="#858585" stroke-width="1.25" fill="none"/>
<path d="M242.6 186.3L242.6 235.7" stroke="#858585" stroke-width="1.25" fill="none"/>
<text x="215.6" y="194.5" font-size="9.5" text-anchor="start" fill="#111" stroke="#111" stroke-width=".25">0.5</text>
<text x="263.6" y="194.5" font-size="9.5" text-anchor="end" fill="#111" stroke="#111" stroke-width=".25">59</text>
<text x="214.9" y="235.3" font-size="9.5" text-anchor="start" fill="#111" stroke="#111" stroke-width=".25">1</text>
<text x="263.6" y="235.3" font-size="9.5" text-anchor="end" fill="#111" stroke="#111" stroke-width=".25">39.5</text>
<g clip-path="url(#c10)"><g filter="url(#bl)"><path fill="#000" d="M330.5 20h21v0.5h-21zM330 20.5h21.5v0.5h-21.5zM330 21h21.5v0.5h-21.5zM329.5 21.5h22v0.5h-22zM329.5 22h22v0.5h-22zM329.5 22.5h22v0.5h-22zM329 23h22.5v0.5h-22.5zM329 23.5h22.5v0.5h-22.5zM329 24h22.5v0.5h-22.5zM329 24.5h22.5v0.5h-22.5zM329 25h22.5v0.5h-22.5zM329 25.5h22.5v0.5h-22.5zM329 26h22.5v0.5h-22.5zM329 26.5h22.5v0.5h-22.5zM329.5 27h22v0.5h-22zM329.5 27.5h22v0.5h-22zM329.5 28h22v0.5h-22zM329.5 28.5h22v0.5h-22zM329.5 29h22v0.5h-22zM329.5 29.5h22v0.5h-22zM329.5 30h21.5v0.5h-21.5zM330 30.5h21v0.5h-21zM330 31h21v0.5h-21zM330 31.5h21v0.5h-21zM330 32h21v0.5h-21zM330 32.5h21.5v0.5h-21.5zM330 33h21.5v0.5h-21.5zM330 33.5h21.5v0.5h-21.5zM330 34h21.5v0.5h-21.5zM330 34.5h21.5v0.5h-21.5zM330 35h21.5v0.5h-21.5zM330 35.5h21.5v0.5h-21.5zM330 36h21.5v0.5h-21.5zM330 36.5h21.5v0.5h-21.5zM330 37h21.5v0.5h-21.5zM329.5 37.5h22v0.5h-22zM329.5 38h22v0.5h-22zM329.5 38.5h22v0.5h-22zM329 39h22.5v0.5h-22.5zM329 39.5h23v0.5h-23zM328.5 40h24v0.5h-24zM328.5 40.5h24.5v0.5h-24.5zM328 41h25.5v0.5h-25.5zM327.5 41.5h26.5v0.5h-26.5zM327 42h27.5v0.5h-27.5zM327 42.5h28v0.5h-28zM326.5 43h28.5v0.5h-28.5zM326 43.5h28.5v0.5h-28.5zM325.5 44h29v0.5h-29zM325 44.5h29v0.5h-29zM324.5 45h29.5v0.5h-29.5zM323.5 45.5h30v0.5h-30zM323 46h30v0.5h-30zM322 46.5h31v0.5h-31zM321 47h31.5v0.5h-31.5zM320 47.5h32.5v0.5h-32.5zM320 48h32v0.5h-32zM320 48.5h32v0.5h-32zM320 49h31.5v0.5h-31.5zM320 49.5h31v0.5h-31zM320 50h31v0.5h-31zM320 50.5h30.5v0.5h-30.5zM320 51h30.5v0.5h-30.5zM320 51.5h30v0.5h-30zM320 52h29.5v0.5h-29.5zM320 52.5h29.5v0.5h-29.5zM320 53h29v0.5h-29zM320 53.5h28.5v0.5h-28.5zM320 54h28.5v0.5h-28.5zM320 54.5h28v0.5h-28zM320 55h27.5v0.5h-27.5zM320 55.5h27.5v0.5h-27.5zM320 56h27v0.5h-27zM320 56.5h27v0.5h-27zM320 57h26.5v0.5h-26.5zM320 57.5h26v0.5h-26zM320 58h26v0.5h-26zM320 58.5h25.5v0.5h-25.5zM320 59h25v0.5h-25zM320 59.5h25v0.5h-25zM320 60h24.5v0.5h-24.5zM320 60.5h24.5v0.5h-24.5zM320 61h24v0.5h-24zM320 61.5h24v0.5h-24zM320 62h23.5v0.5h-23.5zM320 62.5h23.5v0.5h-23.5zM320 63h23v0.5h-23zM320 63.5h15.5v0.5h-15.5zM320 64h15.5v0.5h-15.5zM320 64.5h15.5v0.5h-15.5zM320 65h15.5v0.5h-15.5zM320 65.5h15.5v0.5h-15.5zM320 66h15.5v0.5h-15.5zM320 66.5h15.5v0.5h-15.5zM320 67h15.5v0.5h-15.5zM320 67.5h15.5v0.5h-15.5zM320 68h15.5v0.5h-15.5zM320 68.5h15.5v0.5h-15.5zM320 69h15.5v0.5h-15.5zM320 69.5h15.5v0.5h-15.5zM320 70h15.5v0.5h-15.5zM320 70.5h15.5v0.5h-15.5z"/><path fill="#000" d="M328.6 19.9h.7v.7h-.7zM351.3 19.7h.7v.7h-.7zM329 20.3h.7v.7h-.7zM326.4 20.4h.7v.7h-.7zM325.6 20.4h.7v.7h-.7zM321.2 20.4h.7v.7h-.7zM323.5 20.8h.7v.7h-.7zM327 21.1h.7v.7h-.7zM327.5 20.7h.7v.7h-.7zM329.3 21.1h.7v.7h-.7zM354.3 21h.7v.7h-.7zM352 21.5h.7v.7h-.7zM328.9 21.4h.7v.7h-.7zM328 21.3h.7v.7h-.7zM322.4 21.5h.7v.7h-.7zM324.1 21.8h.7v.7h-.7zM325.6 22h.7v.7h-.7zM326.4 21.8h.7v.7h-.7zM328.5 22.1h.7v.7h-.7zM353.3 21.9h.7v.7h-.7zM354.8 22h.7v.7h-.7zM356.3 22.2h.7v.7h-.7zM329.1 22.5h.7v.7h-.7zM327.5 22.4h.7v.7h-.7zM324.4 22.5h.7v.7h-.7zM320.1 22.2h.7v.7h-.7zM321.5 23.1h.7v.7h-.7zM323.6 22.9h.7v.7h-.7zM326.8 22.9h.7v.7h-.7zM328.1 23h.7v.7h-.7zM352.2 22.8h.7v.7h-.7zM354.8 22.7h.7v.7h-.7zM353.4 23.5h.7v.7h-.7zM351.3 23.5h.7v.7h-.7zM328.6 23.2h.7v.7h-.7zM325.9 23.2h.7v.7h-.7zM325.3 23.4h.7v.7h-.7zM322.3 23.3h.7v.7h-.7zM326.3 24.1h.7v.7h-.7zM327.7 23.7h.7v.7h-.7zM355.8 23.8h.7v.7h-.7zM353.8 24.5h.7v.7h-.7zM351.8 24.6h.7v.7h-.7zM326.9 24.4h.7v.7h-.7zM325.4 24.3h.7v.7h-.7zM324.2 24.2h.7v.7h-.7zM322 24.6h.7v.7h-.7zM320.2 24.5h.7v.7h-.7zM323.5 25h.7v.7h-.7zM327.2 24.8h.7v.7h-.7zM328.3 24.9h.7v.7h-.7zM354.7 25.1h.7v.7h-.7zM357.1 25.1h.7v.7h-.7zM353.3 25.2h.7v.7h-.7zM327.7 25.3h.7v.7h-.7zM326.7 25.2h.7v.7h-.7zM326.1 25.3h.7v.7h-.7zM324.7 25.4h.7v.7h-.7zM322.9 25.5h.7v.7h-.7zM321.4 25.5h.7v.7h-.7zM325.2 25.8h.7v.7h-.7zM328.1 26h.7v.7h-.7zM352 26h.7v.7h-.7zM354.4 26h.7v.7h-.7zM327.3 26.3h.7v.7h-.7zM326.6 26.2h.7v.7h-.7zM324.6 26.4h.7v.7h-.7zM322.4 26.4h.7v.7h-.7zM321 27.1h.7v.7h-.7zM323.7 26.9h.7v.7h-.7zM327.4 26.9h.7v.7h-.7zM328.2 26.9h.7v.7h-.7zM353 26.7h.7v.7h-.7zM357.6 27.1h.7v.7h-.7zM356.3 27.3h.7v.7h-.7zM355.4 27.2h.7v.7h-.7zM353.5 27.3h.7v.7h-.7zM326.6 27.5h.7v.7h-.7zM325.5 27.6h.7v.7h-.7zM322.9 27.6h.7v.7h-.7zM324.5 28.1h.7v.7h-.7zM325.7 28.1h.7v.7h-.7zM327.5 27.9h.7v.7h-.7zM328.4 27.7h.7v.7h-.7zM361.3 28.6h.7v.7h-.7zM353.8 28.2h.7v.7h-.7zM351.9 28.5h.7v.7h-.7zM322.3 28.5h.7v.7h-.7zM320.4 28.3h.7v.7h-.7zM323.4 29.1h.7v.7h-.7zM325.1 29h.7v.7h-.7zM326.4 28.9h.7v.7h-.7zM327.5 29h.7v.7h-.7zM328.3 29.1h.7v.7h-.7zM328.7 28.8h.7v.7h-.7zM355.9 29.1h.7v.7h-.7zM363 29.4h.7v.7h-.7zM358.5 29.5h.7v.7h-.7zM354.4 29.5h.7v.7h-.7zM352.2 29.3h.7v.7h-.7zM327.9 29.5h.7v.7h-.7zM326.6 29.3h.7v.7h-.7zM324.4 29.6h.7v.7h-.7zM322.6 29.2h.7v.7h-.7zM320.9 29.5h.7v.7h-.7zM325.6 29.9h.7v.7h-.7zM327.2 29.9h.7v.7h-.7zM329.1 29.7h.7v.7h-.7zM356 29.9h.7v.7h-.7zM354.8 30.3h.7v.7h-.7zM350.8 30.6h.7v.7h-.7zM328.9 30.2h.7v.7h-.7zM327.6 30.4h.7v.7h-.7zM326.4 30.4h.7v.7h-.7zM324.4 30.3h.7v.7h-.7zM323 30.5h.7v.7h-.7zM321.3 30.5h.7v.7h-.7zM325.5 30.9h.7v.7h-.7zM327.7 31h.7v.7h-.7zM329.5 30.9h.7v.7h-.7zM352.3 30.7h.7v.7h-.7zM353.5 30.9h.7v.7h-.7zM360.4 31.5h.7v.7h-.7zM355.2 31.3h.7v.7h-.7zM351.3 31.4h.7v.7h-.7zM329.3 31.3h.7v.7h-.7zM328.3 31.2h.7v.7h-.7zM326.7 31.3h.7v.7h-.7zM326 31.5h.7v.7h-.7zM323.9 31.4h.7v.7h-.7zM320.6 31.8h.7v.7h-.7zM322.4 32.1h.7v.7h-.7zM325.1 31.9h.7v.7h-.7zM326.7 31.7h.7v.7h-.7zM329.3 32.1h.7v.7h-.7zM350.8 31.8h.7v.7h-.7zM354.4 32.5h.7v.7h-.7zM329.1 32.3h.7v.7h-.7zM328.6 32.6h.7v.7h-.7zM323.1 32.6h.7v.7h-.7zM323.8 32.9h.7v.7h-.7zM325.3 32.7h.7v.7h-.7zM326.3 33.1h.7v.7h-.7zM327.6 33h.7v.7h-.7zM352.2 32.7h.7v.7h-.7zM356.1 32.8h.7v.7h-.7zM358.1 32.8h.7v.7h-.7zM329.5 33.4h.7v.7h-.7zM328.3 33.3h.7v.7h-.7zM327.4 33.4h.7v.7h-.7zM325.8 33.2h.7v.7h-.7zM322.5 33.4h.7v.7h-.7zM321 33.5h.7v.7h-.7zM323.3 33.7h.7v.7h-.7zM324.6 33.7h.7v.7h-.7zM327.1 33.9h.7v.7h-.7zM328.3 33.8h.7v.7h-.7zM353.1 33.7h.7v.7h-.7zM354 33.8h.7v.7h-.7zM356.2 34h.7v.7h-.7zM352.1 34.5h.7v.7h-.7zM329.4 34.2h.7v.7h-.7zM329 34.2h.7v.7h-.7zM326.6 34.3h.7v.7h-.7zM325.6 34.2h.7v.7h-.7zM321.6 34.4h.7v.7h-.7zM323 35h.7v.7h-.7zM327.2 34.9h.7v.7h-.7zM328.4 34.9h.7v.7h-.7zM354.7 34.8h.7v.7h-.7zM353.6 35.3h.7v.7h-.7zM328.9 35.2h.7v.7h-.7zM326.6 35.5h.7v.7h-.7zM326 35.4h.7v.7h-.7zM325 35.2h.7v.7h-.7zM323.9 35.3h.7v.7h-.7zM320.7 35.5h.7v.7h-.7zM321.7 35.9h.7v.7h-.7zM324.6 36h.7v.7h-.7zM327.5 35.9h.7v.7h-.7zM328.8 35.8h.7v.7h-.7zM351.6 36h.7v.7h-.7zM353.8 36h.7v.7h-.7zM355.5 35.9h.7v.7h-.7zM352.5 36.6h.7v.7h-.7zM328.8 36.4h.7v.7h-.7zM328 36.5h.7v.7h-.7zM326.3 36.5h.7v.7h-.7zM323.2 36.5h.7v.7h-.7zM321.2 36.7h.7v.7h-.7zM322.8 36.7h.7v.7h-.7zM325.4 36.9h.7v.7h-.7zM326.8 36.9h.7v.7h-.7zM327.9 36.7h.7v.7h-.7zM356.7 37h.7v.7h-.7zM354.2 37.5h.7v.7h-.7zM328.5 37.2h.7v.7h-.7zM326.4 37.6h.7v.7h-.7zM325.3 37.4h.7v.7h-.7zM324.3 37.2h.7v.7h-.7zM320.2 37.8h.7v.7h-.7zM327.5 37.9h.7v.7h-.7zM328.6 37.9h.7v.7h-.7zM352 37.8h.7v.7h-.7zM352.9 38h.7v.7h-.7zM356 37.8h.7v.7h-.7zM354.2 38.5h.7v.7h-.7zM328.8 38.2h.7v.7h-.7zM326.7 38.3h.7v.7h-.7zM325.2 38.4h.7v.7h-.7zM324.6 38.3h.7v.7h-.7zM323.2 38.5h.7v.7h-.7zM321.9 38.4h.7v.7h-.7zM326.6 38.8h.7v.7h-.7zM327.5 38.7h.7v.7h-.7zM328.4 38.7h.7v.7h-.7zM351.3 39.1h.7v.7h-.7zM353.5 39.3h.7v.7h-.7zM326.9 39.4h.7v.7h-.7zM324.7 39.5h.7v.7h-.7zM322.8 39.2h.7v.7h-.7zM320.3 39.3h.7v.7h-.7zM322.1 40.1h.7v.7h-.7zM323.7 39.9h.7v.7h-.7zM325.5 39.7h.7v.7h-.7zM326.2 39.7h.7v.7h-.7zM327.7 39.9h.7v.7h-.7zM355 40h.7v.7h-.7zM352.7 40.4h.7v.7h-.7zM327.5 40.3h.7v.7h-.7zM325.9 40.4h.7v.7h-.7zM324.3 40.4h.7v.7h-.7zM323 40.5h.7v.7h-.7zM321.4 40.8h.7v.7h-.7zM327.4 41h.7v.7h-.7zM353.7 41h.7v.7h-.7zM326.8 41.2h.7v.7h-.7zM326.6 41.4h.7v.7h-.7zM325.3 41.2h.7v.7h-.7zM324.5 41.6h.7v.7h-.7zM322.8 41.3h.7v.7h-.7zM320.9 42h.7v.7h-.7zM323.9 42h.7v.7h-.7zM326.1 42h.7v.7h-.7zM325.4 42.2h.7v.7h-.7zM324.4 42.5h.7v.7h-.7zM322.7 42.5h.7v.7h-.7zM321.8 42.5h.7v.7h-.7zM320 42.5h.7v.7h-.7zM324.7 43h.7v.7h-.7zM326.1 42.9h.7v.7h-.7zM355 43.4h.7v.7h-.7zM324.2 43.5h.7v.7h-.7zM323.5 43.6h.7v.7h-.7zM320.8 43.3h.7v.7h-.7zM321.3 43.9h.7v.7h-.7zM322.6 44h.7v.7h-.7zM324.6 44.3h.7v.7h-.7zM324.1 44.3h.7v.7h-.7zM322.5 44.3h.7v.7h-.7zM319.8 44.3h.7v.7h-.7zM320.9 45.1h.7v.7h-.7zM323.4 45.1h.7v.7h-.7zM323.1 45.4h.7v.7h-.7zM321.9 45.5h.7v.7h-.7zM320.6 46.1h.7v.7h-.7zM321.7 45.8h.7v.7h-.7zM320.8 46.4h.7v.7h-.7zM319.7 47h.7v.7h-.7zM353.4 47.5h.7v.7h-.7zM361.2 47.7h.7v.7h-.7zM360.1 49.2h.7v.7h-.7zM350.9 50h.7v.7h-.7zM349.3 52h.7v.7h-.7zM361 51.7h.7v.7h-.7zM360.1 53h.7v.7h-.7zM361.3 52.7h.7v.7h-.7zM348.6 53.4h.7v.7h-.7zM361.8 54.4h.7v.7h-.7zM360 54.6h.7v.7h-.7zM361.4 55.1h.7v.7h-.7zM347.2 56.1h.7v.7h-.7zM360.8 56.3h.7v.7h-.7zM360.1 56.9h.7v.7h-.7zM346 57.3h.7v.7h-.7zM361.3 58.1h.7v.7h-.7zM360.3 59h.7v.7h-.7zM362.5 59.3h.7v.7h-.7zM360.8 60.2h.7v.7h-.7zM349.5 60.5h.7v.7h-.7zM346.3 61.5h.7v.7h-.7zM359.4 62.8h.7v.7h-.7zM361.4 63h.7v.7h-.7zM342.4 63.6h.7v.7h-.7zM339.6 63.3h.7v.7h-.7zM337.6 63.3h.7v.7h-.7zM335.3 63.6h.7v.7h-.7zM336.5 64h.7v.7h-.7zM338.8 63.8h.7v.7h-.7zM340.9 64.4h.7v.7h-.7zM335.3 64.9h.7v.7h-.7zM335.6 67.9h.7v.7h-.7zM335.4 70.6h.7v.7h-.7z"/><path fill="#fff" d="M329.9 20.3h.7v.7h-.7zM331.1 20.7h.7v.7h-.7zM331.4 21.5h.7v.7h-.7zM329.9 21.4h.7v.7h-.7zM329.8 23h.7v.7h-.7zM329.4 23.2h.7v.7h-.7zM330.5 23.7h.7v.7h-.7zM328.9 24.3h.7v.7h-.7zM330.7 25.1h.7v.7h-.7zM329.9 25.5h.7v.7h-.7zM329.2 25.9h.7v.7h-.7zM332 26.2h.7v.7h-.7zM328.8 26.4h.7v.7h-.7zM330.5 27h.7v.7h-.7zM350.8 26.8h.7v.7h-.7zM329.2 28h.7v.7h-.7zM330.4 28.4h.7v.7h-.7zM329.2 28.4h.7v.7h-.7zM331.8 28.7h.7v.7h-.7zM350.9 29.4h.7v.7h-.7zM329.7 29.5h.7v.7h-.7zM330.9 30.1h.7v.7h-.7zM330.8 31.1h.7v.7h-.7zM332.3 31.4h.7v.7h-.7zM330.4 31.4h.7v.7h-.7zM331.6 32.4h.7v.7h-.7zM330.1 33h.7v.7h-.7zM351 33.6h.7v.7h-.7zM330.2 33.7h.7v.7h-.7zM331.2 33.8h.7v.7h-.7zM332.1 34.9h.7v.7h-.7zM330.8 35.3h.7v.7h-.7zM329.8 35.6h.7v.7h-.7zM333 35.9h.7v.7h-.7zM330.3 36.5h.7v.7h-.7zM330.5 36.7h.7v.7h-.7zM332 37h.7v.7h-.7zM330.7 37.2h.7v.7h-.7zM329.6 37.3h.7v.7h-.7zM330.1 38.5h.7v.7h-.7zM332 39.3h.7v.7h-.7zM330.6 39.4h.7v.7h-.7zM328.7 39.6h.7v.7h-.7zM330 40h.7v.7h-.7zM328.5 40.9h.7v.7h-.7zM327.8 41.8h.7v.7h-.7zM329.5 42h.7v.7h-.7zM331 41.7h.7v.7h-.7zM326.8 42.3h.7v.7h-.7zM328 42.7h.7v.7h-.7zM326.9 43.2h.7v.7h-.7zM325.5 43.8h.7v.7h-.7zM328.5 44.1h.7v.7h-.7zM325.1 44.9h.7v.7h-.7zM326.6 44.9h.7v.7h-.7zM352.9 45.6h.7v.7h-.7zM323.6 45.8h.7v.7h-.7zM324.9 46h.7v.7h-.7zM320.7 46.7h.7v.7h-.7zM322.6 47.5h.7v.7h-.7zM320.4 47.8h.7v.7h-.7zM323.3 47.7h.7v.7h-.7zM351.6 48.5h.7v.7h-.7zM344.6 59.4h.7v.7h-.7zM343.4 61.4h.7v.7h-.7z"/></g></g>
<rect x="320.4" y="20.7" width="49.9" height="49.8" fill="none" stroke="#9c9c9c" stroke-width="0.9"/>
<g fill="#222" font-size="3.2"><text x="313.8" y="26.83">10<tspan dy="-1.2" font-size="2.4">4</tspan></text><rect x="319.1" y="25.08" width="1.3" height=".7" opacity=".8"/><text x="313.8" y="37.79">10<tspan dy="-1.2" font-size="2.4">3</tspan></text><rect x="319.1" y="36.04" width="1.3" height=".7" opacity=".8"/><text x="313.8" y="49.24">10<tspan dy="-1.2" font-size="2.4">2</tspan></text><rect x="319.1" y="47.49" width="1.3" height=".7" opacity=".8"/><text x="313.8" y="60.94">10<tspan dy="-1.2" font-size="2.4">1</tspan></text><rect x="319.1" y="59.19" width="1.3" height=".7" opacity=".8"/><text x="316" y="66.77">0</text><rect x="319.1" y="65.42" width="1.3" height=".7" opacity=".8"/><text x="328.68" y="75.7">10<tspan dy="-1.2" font-size="2.4">1</tspan></text><rect x="330.53" y="70.5" width=".7" height="1.3" opacity=".8"/><text x="340.75" y="75.7">10<tspan dy="-1.2" font-size="2.4">2</tspan></text><rect x="342.6" y="70.5" width=".7" height="1.3" opacity=".8"/><text x="351.73" y="75.7">10<tspan dy="-1.2" font-size="2.4">3</tspan></text><rect x="353.58" y="70.5" width=".7" height="1.3" opacity=".8"/><text x="363.86" y="75.7">10<tspan dy="-1.2" font-size="2.4">4</tspan></text><rect x="365.71" y="70.5" width=".7" height="1.3" opacity=".8"/><text x="324.99" y="75.7">0</text><rect x="325.44" y="70.5" width=".7" height="1.3" opacity=".8"/></g>
<rect x="355.3" y="49.2" width="11.2" height="21.3" fill="none" stroke="#555" stroke-width="0.9"/>
<rect x="335.6" y="62.7" width="19.4" height="7.8" fill="#fff"/>
<text x="337.3" y="70.2" font-size="9.1" text-anchor="start" fill="#111" stroke="#111" stroke-width=".2">0.01</text>
<g clip-path="url(#c11)"><g filter="url(#bl)"><path fill="#000" d="M335 104h18.5v0.5h-18.5zM335 104.5h18.5v0.5h-18.5zM334.5 105h18.5v0.5h-18.5zM334.5 105.5h18.5v0.5h-18.5zM334 106h19v0.5h-19zM334 106.5h18.5v0.5h-18.5zM334 107h18.5v0.5h-18.5zM333.5 107.5h18.5v0.5h-18.5zM333.5 108h18.5v0.5h-18.5zM333.5 108.5h18v0.5h-18zM333 109h18.5v0.5h-18.5zM333 109.5h18.5v0.5h-18.5zM333 110h18.5v0.5h-18.5zM333 110.5h18v0.5h-18zM333 111h18v0.5h-18zM332.5 111.5h18.5v0.5h-18.5zM332.5 112h18.5v0.5h-18.5zM332.5 112.5h18v0.5h-18zM332.5 113h18v0.5h-18zM332.5 113.5h18v0.5h-18zM332 114h18.5v0.5h-18.5zM332 114.5h18v0.5h-18zM332 115h18v0.5h-18zM332 115.5h18v0.5h-18zM332 116h18v0.5h-18zM332 116.5h18v0.5h-18zM331.5 117h19v0.5h-19zM331.5 117.5h19v0.5h-19zM331.5 118h19v0.5h-19zM331.5 118.5h19.5v0.5h-19.5zM331 119h20v0.5h-20zM331 119.5h20v0.5h-20zM331 120h20.5v0.5h-20.5zM330.5 120.5h21v0.5h-21zM330.5 121h21v0.5h-21zM330.5 121.5h22v0.5h-22zM330 122h23v0.5h-23zM330 122.5h23.5v0.5h-23.5zM329.5 123h24.5v0.5h-24.5zM329.5 123.5h25.5v0.5h-25.5zM329 124h26.5v0.5h-26.5zM328.5 124.5h27.5v0.5h-27.5zM328.5 125h28v0.5h-28zM328 125.5h28v0.5h-28zM328 126h28v0.5h-28zM327.5 126.5h28v0.5h-28zM327 127h28.5v0.5h-28.5zM327 127.5h28v0.5h-28zM326.5 128h28v0.5h-28zM326 128.5h28.5v0.5h-28.5zM325.5 129h28.5v0.5h-28.5zM325 129.5h28.5v0.5h-28.5zM324.5 130h29v0.5h-29zM324 130.5h29v0.5h-29zM323.5 131h29.5v0.5h-29.5zM322.5 131.5h30v0.5h-30zM321 132h31v0.5h-31zM320 132.5h32v0.5h-32zM320 133h31.5v0.5h-31.5zM320 133.5h31v0.5h-31zM320 134h31v0.5h-31zM320 134.5h30.5v0.5h-30.5zM320 135h30v0.5h-30zM320 135.5h30v0.5h-30zM320 136h29.5v0.5h-29.5zM360.5 136h1v0.5h-1zM320 136.5h29v0.5h-29zM360.5 136.5h1v0.5h-1zM320 137h29v0.5h-29zM360 137h2v0.5h-2zM320 137.5h28.5v0.5h-28.5zM360 137.5h2v0.5h-2zM320 138h28v0.5h-28zM360 138h2v0.5h-2zM320 138.5h28v0.5h-28zM360 138.5h2v0.5h-2zM320 139h27.5v0.5h-27.5zM360 139h2v0.5h-2zM320 139.5h27v0.5h-27zM360 139.5h2v0.5h-2zM320 140h27v0.5h-27zM360 140h2v0.5h-2zM320 140.5h26.5v0.5h-26.5zM360 140.5h2v0.5h-2zM320 141h26v0.5h-26zM360 141h2v0.5h-2zM320 141.5h26v0.5h-26zM360 141.5h2v0.5h-2zM320 142h25.5v0.5h-25.5zM360.5 142h1v0.5h-1zM320 142.5h25.5v0.5h-25.5zM360.5 142.5h1v0.5h-1zM320 143h25v0.5h-25zM320 143.5h25v0.5h-25zM320 144h24.5v0.5h-24.5zM320 144.5h24.5v0.5h-24.5zM320 145h24v0.5h-24zM320 145.5h24v0.5h-24zM320 146h23.5v0.5h-23.5zM320 146.5h15.5v0.5h-15.5zM320 147h15.5v0.5h-15.5zM320 147.5h15.5v0.5h-15.5zM320 148h15.5v0.5h-15.5zM320 148.5h15.5v0.5h-15.5zM320 149h15.5v0.5h-15.5zM320 149.5h15.5v0.5h-15.5zM320 150h15.5v0.5h-15.5zM320 150.5h15.5v0.5h-15.5zM320 151h15.5v0.5h-15.5zM320 151.5h15.5v0.5h-15.5zM320 152h15.5v0.5h-15.5zM320 152.5h15.5v0.5h-15.5zM320 153h15.5v0.5h-15.5zM320 153.5h15.5v0.5h-15.5zM320 154h15.5v0.5h-15.5zM320 154.5h15v0.5h-15z"/><path fill="#000" d="M327.6 103.8h.7v.7h-.7zM332.5 104h.7v.7h-.7zM334.1 103.8h.7v.7h-.7zM334.3 104.2h.7v.7h-.7zM331.5 104.4h.7v.7h-.7zM331 104.5h.7v.7h-.7zM329.3 104.5h.7v.7h-.7zM327.9 104.3h.7v.7h-.7zM325.2 104.6h.7v.7h-.7zM323.3 104.6h.7v.7h-.7zM321 105.1h.7v.7h-.7zM322.6 105h.7v.7h-.7zM329.8 105h.7v.7h-.7zM331.7 104.7h.7v.7h-.7zM332.9 105h.7v.7h-.7zM333.5 104.8h.7v.7h-.7zM353.1 104.9h.7v.7h-.7zM353.8 104.8h.7v.7h-.7zM356.1 104.8h.7v.7h-.7zM357.9 104.7h.7v.7h-.7zM360.1 105.1h.7v.7h-.7zM358.9 105.2h.7v.7h-.7zM333.8 105.3h.7v.7h-.7zM332.2 105.2h.7v.7h-.7zM331.3 105.2h.7v.7h-.7zM330.6 105.2h.7v.7h-.7zM328.5 105.2h.7v.7h-.7zM325.7 105.6h.7v.7h-.7zM323.8 105.7h.7v.7h-.7zM326.8 105.7h.7v.7h-.7zM328 105.7h.7v.7h-.7zM328.9 105.8h.7v.7h-.7zM330 105.7h.7v.7h-.7zM332.8 106h.7v.7h-.7zM355.8 106.1h.7v.7h-.7zM362.1 106h.7v.7h-.7zM360.4 106.6h.7v.7h-.7zM356.7 106.3h.7v.7h-.7zM355 106.3h.7v.7h-.7zM353.3 106.4h.7v.7h-.7zM352.4 106.2h.7v.7h-.7zM333.3 106.2h.7v.7h-.7zM332.2 106.6h.7v.7h-.7zM331.6 106.4h.7v.7h-.7zM330.3 106.4h.7v.7h-.7zM326.1 106.6h.7v.7h-.7zM322.3 106.4h.7v.7h-.7zM321.4 106.7h.7v.7h-.7zM324.3 106.8h.7v.7h-.7zM327.3 106.9h.7v.7h-.7zM328.3 106.7h.7v.7h-.7zM329.5 106.9h.7v.7h-.7zM330.7 106.8h.7v.7h-.7zM332.4 106.7h.7v.7h-.7zM358.5 107.1h.7v.7h-.7zM353.2 107.4h.7v.7h-.7zM333.1 107.5h.7v.7h-.7zM326.2 107.3h.7v.7h-.7zM323.6 107.4h.7v.7h-.7zM325.1 108.1h.7v.7h-.7zM327.9 107.7h.7v.7h-.7zM329.1 108h.7v.7h-.7zM329.8 107.9h.7v.7h-.7zM330.8 107.7h.7v.7h-.7zM331.4 108h.7v.7h-.7zM332.5 107.8h.7v.7h-.7zM356.6 107.9h.7v.7h-.7zM359.5 107.7h.7v.7h-.7zM358.5 108.3h.7v.7h-.7zM357.4 108.6h.7v.7h-.7zM355.3 108.5h.7v.7h-.7zM351.6 108.4h.7v.7h-.7zM332.9 108.3h.7v.7h-.7zM331.8 108.2h.7v.7h-.7zM330.3 108.5h.7v.7h-.7zM327.5 108.4h.7v.7h-.7zM326.5 108.2h.7v.7h-.7zM322.3 108.2h.7v.7h-.7zM320.9 109h.7v.7h-.7zM323.8 108.9h.7v.7h-.7zM328.9 109.1h.7v.7h-.7zM330 108.9h.7v.7h-.7zM332.3 109.1h.7v.7h-.7zM352.5 109h.7v.7h-.7zM360.2 109.1h.7v.7h-.7zM354.5 109.3h.7v.7h-.7zM331.7 109.3h.7v.7h-.7zM330.9 109.6h.7v.7h-.7zM329.1 109.4h.7v.7h-.7zM328 109.4h.7v.7h-.7zM326.3 109.6h.7v.7h-.7zM320.9 109.7h.7v.7h-.7zM322.6 110h.7v.7h-.7zM324.6 110.1h.7v.7h-.7zM329.4 110h.7v.7h-.7zM330.8 109.9h.7v.7h-.7zM331.7 109.7h.7v.7h-.7zM351.4 109.9h.7v.7h-.7zM353.3 109.7h.7v.7h-.7zM355.3 110h.7v.7h-.7zM356.4 110h.7v.7h-.7zM358.3 110.5h.7v.7h-.7zM331.9 110.2h.7v.7h-.7zM330.1 110.5h.7v.7h-.7zM328.5 110.4h.7v.7h-.7zM327.4 110.4h.7v.7h-.7zM326.6 110.4h.7v.7h-.7zM323.4 110.2h.7v.7h-.7zM325 110.9h.7v.7h-.7zM325.7 110.9h.7v.7h-.7zM327.9 111h.7v.7h-.7zM329.6 111.1h.7v.7h-.7zM331.1 110.8h.7v.7h-.7zM350.9 111.1h.7v.7h-.7zM352.4 110.8h.7v.7h-.7zM357.2 110.7h.7v.7h-.7zM360.1 111.3h.7v.7h-.7zM332.1 111.3h.7v.7h-.7zM330.9 111.4h.7v.7h-.7zM329.7 111.3h.7v.7h-.7zM328.4 111.4h.7v.7h-.7zM322.8 111.4h.7v.7h-.7zM321 111.6h.7v.7h-.7zM321.8 111.9h.7v.7h-.7zM325.3 112h.7v.7h-.7zM331.6 111.7h.7v.7h-.7zM352.9 111.8h.7v.7h-.7zM355.5 111.8h.7v.7h-.7zM356 112.5h.7v.7h-.7zM353.7 112.5h.7v.7h-.7zM350.5 112.2h.7v.7h-.7zM330.3 112.3h.7v.7h-.7zM329.8 112.5h.7v.7h-.7zM329.1 112.3h.7v.7h-.7zM327.9 112.4h.7v.7h-.7zM327.1 112.2h.7v.7h-.7zM322.9 112.4h.7v.7h-.7zM324.6 112.9h.7v.7h-.7zM325.7 112.8h.7v.7h-.7zM327.3 113h.7v.7h-.7zM328.3 112.9h.7v.7h-.7zM330.1 112.8h.7v.7h-.7zM331.1 112.9h.7v.7h-.7zM331.9 112.9h.7v.7h-.7zM351.3 112.7h.7v.7h-.7zM357.1 113.1h.7v.7h-.7zM358.1 112.9h.7v.7h-.7zM359.1 112.8h.7v.7h-.7zM353.2 113.4h.7v.7h-.7zM330.9 113.4h.7v.7h-.7zM323.9 113.6h.7v.7h-.7zM320.4 113.3h.7v.7h-.7zM326.5 113.8h.7v.7h-.7zM327.7 113.7h.7v.7h-.7zM329 113.8h.7v.7h-.7zM330 114.1h.7v.7h-.7zM331.2 114h.7v.7h-.7zM350.6 114.1h.7v.7h-.7zM354.5 113.8h.7v.7h-.7zM356.1 114h.7v.7h-.7zM352.4 114.5h.7v.7h-.7zM330.3 114.6h.7v.7h-.7zM329.6 114.5h.7v.7h-.7zM327.7 114.5h.7v.7h-.7zM326.8 114.6h.7v.7h-.7zM326.1 114.5h.7v.7h-.7zM324.9 114.4h.7v.7h-.7zM322.5 114.3h.7v.7h-.7zM320.7 114.5h.7v.7h-.7zM323.9 115h.7v.7h-.7zM329.1 115.1h.7v.7h-.7zM331.2 114.7h.7v.7h-.7zM350.3 115h.7v.7h-.7zM355.2 114.7h.7v.7h-.7zM357.4 115.1h.7v.7h-.7zM360.8 115h.7v.7h-.7zM359.1 115.2h.7v.7h-.7zM354 115.4h.7v.7h-.7zM351.9 115.2h.7v.7h-.7zM330.9 115.3h.7v.7h-.7zM328.4 115.3h.7v.7h-.7zM327.1 115.4h.7v.7h-.7zM324.7 115.6h.7v.7h-.7zM322.8 115.6h.7v.7h-.7zM321.6 115.9h.7v.7h-.7zM327.7 115.8h.7v.7h-.7zM328.9 115.9h.7v.7h-.7zM330.1 115.9h.7v.7h-.7zM330.4 115.8h.7v.7h-.7zM331.4 116h.7v.7h-.7zM356.5 116.1h.7v.7h-.7zM355.1 116.6h.7v.7h-.7zM352.7 116.5h.7v.7h-.7zM350.2 116.5h.7v.7h-.7zM329.6 116.4h.7v.7h-.7zM327.4 116.6h.7v.7h-.7zM326.1 116.6h.7v.7h-.7zM325 116.4h.7v.7h-.7zM320.8 117.1h.7v.7h-.7zM323 116.8h.7v.7h-.7zM326.5 116.9h.7v.7h-.7zM327.9 116.9h.7v.7h-.7zM329.9 117.1h.7v.7h-.7zM331.1 117.1h.7v.7h-.7zM351.4 116.7h.7v.7h-.7zM358.9 116.9h.7v.7h-.7zM356.9 117.6h.7v.7h-.7zM355.6 117.2h.7v.7h-.7zM330.8 117.4h.7v.7h-.7zM329.3 117.5h.7v.7h-.7zM328.3 117.6h.7v.7h-.7zM325.1 117.6h.7v.7h-.7zM322.1 117.8h.7v.7h-.7zM323.5 117.9h.7v.7h-.7zM326.2 117.7h.7v.7h-.7zM327.1 117.9h.7v.7h-.7zM327.7 117.9h.7v.7h-.7zM329.9 117.8h.7v.7h-.7zM330.5 118.1h.7v.7h-.7zM354 118h.7v.7h-.7zM356.9 118.3h.7v.7h-.7zM352.5 118.5h.7v.7h-.7zM350.8 118.6h.7v.7h-.7zM330.7 118.5h.7v.7h-.7zM328.8 118.5h.7v.7h-.7zM325.8 118.4h.7v.7h-.7zM324.3 118.2h.7v.7h-.7zM320 118.6h.7v.7h-.7zM321.4 118.8h.7v.7h-.7zM325.2 119h.7v.7h-.7zM327.1 119h.7v.7h-.7zM327.9 118.9h.7v.7h-.7zM329 118.8h.7v.7h-.7zM330.4 118.9h.7v.7h-.7zM353.4 118.7h.7v.7h-.7zM355.9 119h.7v.7h-.7zM354.4 119.4h.7v.7h-.7zM330.5 119.6h.7v.7h-.7zM328 119.5h.7v.7h-.7zM323.2 119.5h.7v.7h-.7zM320.4 119.9h.7v.7h-.7zM325 119.8h.7v.7h-.7zM326.5 119.8h.7v.7h-.7zM328.5 119.7h.7v.7h-.7zM329.3 120h.7v.7h-.7zM329.8 119.9h.7v.7h-.7zM352.4 119.9h.7v.7h-.7zM357.3 120.4h.7v.7h-.7zM355.9 120.5h.7v.7h-.7zM328.8 120.2h.7v.7h-.7zM327.5 120.3h.7v.7h-.7zM325.9 120.5h.7v.7h-.7zM324.6 120.4h.7v.7h-.7zM322.6 120.3h.7v.7h-.7zM327.9 121h.7v.7h-.7zM329.9 121h.7v.7h-.7zM351.8 121h.7v.7h-.7zM330 121.4h.7v.7h-.7zM329.2 121.6h.7v.7h-.7zM328.5 121.5h.7v.7h-.7zM327.2 121.5h.7v.7h-.7zM326.6 121.4h.7v.7h-.7zM325.6 121.6h.7v.7h-.7zM324.4 121.2h.7v.7h-.7zM322.8 121.4h.7v.7h-.7zM321 121.2h.7v.7h-.7zM322 121.8h.7v.7h-.7zM328.2 122.1h.7v.7h-.7zM355.3 122h.7v.7h-.7zM353.3 122.3h.7v.7h-.7zM329.3 122.5h.7v.7h-.7zM327.6 122.4h.7v.7h-.7zM326.5 122.5h.7v.7h-.7zM324.2 122.4h.7v.7h-.7zM323.3 122.3h.7v.7h-.7zM321.1 122.8h.7v.7h-.7zM325.4 122.8h.7v.7h-.7zM327.2 123.1h.7v.7h-.7zM328.3 123h.7v.7h-.7zM327.3 123.3h.7v.7h-.7zM326.4 123.4h.7v.7h-.7zM324.2 123.4h.7v.7h-.7zM322.7 123.2h.7v.7h-.7zM325.5 124h.7v.7h-.7zM328.2 124.1h.7v.7h-.7zM357.4 124.2h.7v.7h-.7zM328 124.3h.7v.7h-.7zM327.1 124.5h.7v.7h-.7zM325 124.6h.7v.7h-.7zM323.3 124.3h.7v.7h-.7zM321.1 124.2h.7v.7h-.7zM321.7 125.1h.7v.7h-.7zM325.5 124.7h.7v.7h-.7zM326.6 125h.7v.7h-.7zM327.2 125.1h.7v.7h-.7zM326.5 125.4h.7v.7h-.7zM324.6 125.3h.7v.7h-.7zM323.1 125.5h.7v.7h-.7zM320.9 125.7h.7v.7h-.7zM323.9 125.8h.7v.7h-.7zM327.2 126h.7v.7h-.7zM326.8 126.6h.7v.7h-.7zM326.1 126.4h.7v.7h-.7zM324.7 126.3h.7v.7h-.7zM322.6 126.5h.7v.7h-.7zM323.8 126.7h.7v.7h-.7zM325.7 127.1h.7v.7h-.7zM354.9 127.6h.7v.7h-.7zM325.1 127.6h.7v.7h-.7zM323.4 127.2h.7v.7h-.7zM322.2 127.6h.7v.7h-.7zM320.6 127.8h.7v.7h-.7zM321.5 128h.7v.7h-.7zM324.8 128h.7v.7h-.7zM325.5 128.1h.7v.7h-.7zM325.7 127.7h.7v.7h-.7zM323.8 128.3h.7v.7h-.7zM322.8 128.2h.7v.7h-.7zM320.3 129h.7v.7h-.7zM324.4 128.7h.7v.7h-.7zM353.8 128.7h.7v.7h-.7zM324.2 129.4h.7v.7h-.7zM323 129.5h.7v.7h-.7zM322.1 129.6h.7v.7h-.7zM321.8 129.7h.7v.7h-.7zM323.8 129.7h.7v.7h-.7zM360 129.7h.7v.7h-.7zM322.7 130.3h.7v.7h-.7zM321.3 130.5h.7v.7h-.7zM320.5 130.4h.7v.7h-.7zM322.3 130.9h.7v.7h-.7zM352.8 130.8h.7v.7h-.7zM322.1 131.4h.7v.7h-.7zM320.9 131.5h.7v.7h-.7zM319.8 131.5h.7v.7h-.7zM361 132.2h.7v.7h-.7zM351.8 132.5h.7v.7h-.7zM359.4 132.9h.7v.7h-.7zM362.8 133h.7v.7h-.7zM356.4 133.6h.7v.7h-.7zM351 133.3h.7v.7h-.7zM360.7 134.1h.7v.7h-.7zM350.1 134.7h.7v.7h-.7zM358.9 135h.7v.7h-.7zM360.4 135.1h.7v.7h-.7zM360.5 135.6h.7v.7h-.7zM359.8 135.8h.7v.7h-.7zM361.5 135.9h.7v.7h-.7zM362.4 136.4h.7v.7h-.7zM349.1 136.6h.7v.7h-.7zM359.6 137.1h.7v.7h-.7zM358.6 137.7h.7v.7h-.7zM361.7 137.7h.7v.7h-.7zM347.5 138.7h.7v.7h-.7zM359.6 139.1h.7v.7h-.7zM361.7 139.1h.7v.7h-.7zM363.5 139.2h.7v.7h-.7zM357.8 139.7h.7v.7h-.7zM359.4 139.9h.7v.7h-.7zM361.8 140.3h.7v.7h-.7zM347.3 140.2h.7v.7h-.7zM346.1 141.1h.7v.7h-.7zM345.2 141.9h.7v.7h-.7zM359.2 142h.7v.7h-.7zM362.8 142h.7v.7h-.7zM358.1 142.7h.7v.7h-.7zM360.9 142.9h.7v.7h-.7zM362.3 143h.7v.7h-.7zM361 143.5h.7v.7h-.7zM359.8 143.4h.7v.7h-.7zM344.9 143.9h.7v.7h-.7zM343.8 144.7h.7v.7h-.7zM359.7 144.9h.7v.7h-.7zM361.4 145.4h.7v.7h-.7zM359 146.2h.7v.7h-.7zM339.6 146.5h.7v.7h-.7zM338.2 146.3h.7v.7h-.7zM336 146.5h.7v.7h-.7zM342 147.5h.7v.7h-.7zM361.4 147.7h.7v.7h-.7zM336.4 148.2h.7v.7h-.7zM335.4 150.3h.7v.7h-.7zM336.3 153.3h.7v.7h-.7zM335 154.2h.7v.7h-.7z"/><path fill="#fff" d="M335.7 104.5h.7v.7h-.7zM336.8 105.3h.7v.7h-.7zM335.1 105.3h.7v.7h-.7zM335.4 106.1h.7v.7h-.7zM334.3 106.4h.7v.7h-.7zM335.5 107.1h.7v.7h-.7zM336.4 106.7h.7v.7h-.7zM334.2 107.2h.7v.7h-.7zM334 108.2h.7v.7h-.7zM335 108.9h.7v.7h-.7zM336.1 108.8h.7v.7h-.7zM334 109.4h.7v.7h-.7zM333.2 109.9h.7v.7h-.7zM332.9 110.4h.7v.7h-.7zM333.9 111.1h.7v.7h-.7zM334.7 111h.7v.7h-.7zM335.9 111.1h.7v.7h-.7zM332.3 111.3h.7v.7h-.7zM333.6 112h.7v.7h-.7zM334.5 112.6h.7v.7h-.7zM332.4 112.2h.7v.7h-.7zM335.2 113.5h.7v.7h-.7zM332.7 113.4h.7v.7h-.7zM333.3 113.9h.7v.7h-.7zM332.6 114.5h.7v.7h-.7zM333.3 114.9h.7v.7h-.7zM334.8 114.8h.7v.7h-.7zM332.1 115.3h.7v.7h-.7zM332.6 116h.7v.7h-.7zM334.4 116.1h.7v.7h-.7zM332.8 116.5h.7v.7h-.7zM333.4 117.5h.7v.7h-.7zM332 117.2h.7v.7h-.7zM332.3 117.8h.7v.7h-.7zM332.2 118.8h.7v.7h-.7zM334.2 118.8h.7v.7h-.7zM333.1 119.4h.7v.7h-.7zM331.3 119.9h.7v.7h-.7zM350.7 120.1h.7v.7h-.7zM330.7 120.9h.7v.7h-.7zM333.4 121h.7v.7h-.7zM332.6 121.5h.7v.7h-.7zM330.8 121.4h.7v.7h-.7zM333.2 122.3h.7v.7h-.7zM331.6 122.6h.7v.7h-.7zM330.3 122.9h.7v.7h-.7zM354.6 123.2h.7v.7h-.7zM331.3 123.5h.7v.7h-.7zM329.6 123.2h.7v.7h-.7zM329 124h.7v.7h-.7zM332.4 123.7h.7v.7h-.7zM329.4 125h.7v.7h-.7zM330.3 124.7h.7v.7h-.7zM354.9 125.4h.7v.7h-.7zM328.3 125.6h.7v.7h-.7zM329.3 125.8h.7v.7h-.7zM330.9 126.3h.7v.7h-.7zM328.4 126.3h.7v.7h-.7zM327.8 127.1h.7v.7h-.7zM326.8 127.5h.7v.7h-.7zM327.3 127.9h.7v.7h-.7zM326.2 129h.7v.7h-.7zM328.7 128.8h.7v.7h-.7zM325.4 129.6h.7v.7h-.7zM326.9 130.1h.7v.7h-.7zM324.7 130.3h.7v.7h-.7zM323.8 130.7h.7v.7h-.7zM326.3 130.9h.7v.7h-.7zM321.9 132h.7v.7h-.7zM323.5 132.1h.7v.7h-.7zM320.3 132.4h.7v.7h-.7zM320.9 132.8h.7v.7h-.7zM322.2 133.8h.7v.7h-.7zM361.4 137h.7v.7h-.7zM359.9 138h.7v.7h-.7zM361.6 141.5h.7v.7h-.7zM360.1 141.6h.7v.7h-.7zM361 142.3h.7v.7h-.7zM337.6 145.9h.7v.7h-.7zM335 146.4h.7v.7h-.7z"/></g></g>
<rect x="320.4" y="104.4" width="49.9" height="49.9" fill="none" stroke="#9c9c9c" stroke-width="0.9"/>
<g fill="#222" font-size="3.2"><text x="313.8" y="110.54">10<tspan dy="-1.2" font-size="2.4">4</tspan></text><rect x="319.1" y="108.79" width="1.3" height=".7" opacity=".8"/><text x="313.8" y="121.52">10<tspan dy="-1.2" font-size="2.4">3</tspan></text><rect x="319.1" y="119.77" width="1.3" height=".7" opacity=".8"/><text x="313.8" y="133">10<tspan dy="-1.2" font-size="2.4">2</tspan></text><rect x="319.1" y="131.25" width="1.3" height=".7" opacity=".8"/><text x="313.8" y="144.72">10<tspan dy="-1.2" font-size="2.4">1</tspan></text><rect x="319.1" y="142.97" width="1.3" height=".7" opacity=".8"/><text x="316" y="150.56">0</text><rect x="319.1" y="149.21" width="1.3" height=".7" opacity=".8"/><text x="328.68" y="159.5">10<tspan dy="-1.2" font-size="2.4">1</tspan></text><rect x="330.53" y="154.3" width=".7" height="1.3" opacity=".8"/><text x="340.75" y="159.5">10<tspan dy="-1.2" font-size="2.4">2</tspan></text><rect x="342.6" y="154.3" width=".7" height="1.3" opacity=".8"/><text x="351.73" y="159.5">10<tspan dy="-1.2" font-size="2.4">3</tspan></text><rect x="353.58" y="154.3" width=".7" height="1.3" opacity=".8"/><text x="363.86" y="159.5">10<tspan dy="-1.2" font-size="2.4">4</tspan></text><rect x="365.71" y="154.3" width=".7" height="1.3" opacity=".8"/><text x="324.99" y="159.5">0</text><rect x="325.44" y="154.3" width=".7" height="1.3" opacity=".8"/></g>
<rect x="355.6" y="132.2" width="10.8" height="22.1" fill="none" stroke="#555" stroke-width="0.9"/>
<rect x="335.6" y="146.9" width="19.6" height="7.4" fill="#fff"/>
<text x="337.3" y="154" font-size="9.1" text-anchor="start" fill="#111" stroke="#111" stroke-width=".2">0.19</text>
<g clip-path="url(#c12)"><g filter="url(#bl)"><path fill="#000" d="M325.5 187h28.5v0.5h-28.5zM325.5 187.5h28.5v0.5h-28.5zM325 188h29.5v0.5h-29.5zM324.5 188.5h29.5v0.5h-29.5zM324.5 189h29.5v0.5h-29.5zM324 189.5h30v0.5h-30zM324 190h29.5v0.5h-29.5zM324 190.5h29.5v0.5h-29.5zM324 191h29.5v0.5h-29.5zM324 191.5h29v0.5h-29zM324 192h29v0.5h-29zM324 192.5h29v0.5h-29zM324 193h28.5v0.5h-28.5zM324 193.5h28.5v0.5h-28.5zM324.5 194h28v0.5h-28zM324.5 194.5h28v0.5h-28zM324.5 195h28v0.5h-28zM324.5 195.5h28v0.5h-28zM324.5 196h28v0.5h-28zM324.5 196.5h28v0.5h-28zM324.5 197h28v0.5h-28zM325 197.5h27.5v0.5h-27.5zM325 198h27.5v0.5h-27.5zM325 198.5h27.5v0.5h-27.5zM325 199h28v0.5h-28zM325 199.5h28v0.5h-28zM325 200h28v0.5h-28zM325 200.5h28v0.5h-28zM325 201h28v0.5h-28zM325 201.5h28.5v0.5h-28.5zM325 202h29v0.5h-29zM325.5 202.5h28.5v0.5h-28.5zM325.5 203h29v0.5h-29zM325 203.5h30v0.5h-30zM325 204h30.5v0.5h-30.5zM325 204.5h31v0.5h-31zM325 205h31.5v0.5h-31.5zM325 205.5h32v0.5h-32zM325 206h32.5v0.5h-32.5zM324.5 206.5h33.5v0.5h-33.5zM324.5 207h33v0.5h-33zM324 207.5h33.5v0.5h-33.5zM323.5 208h33.5v0.5h-33.5zM323 208.5h34v0.5h-34zM322.5 209h34v0.5h-34zM322 209.5h34v0.5h-34zM321 210h35v0.5h-35zM320.5 210.5h35v0.5h-35zM320 211h35v0.5h-35zM320 211.5h35v0.5h-35zM320 212h34.5v0.5h-34.5zM320 212.5h34.5v0.5h-34.5zM320 213h34v0.5h-34zM320 213.5h33.5v0.5h-33.5zM320 214h33.5v0.5h-33.5zM320 214.5h33v0.5h-33zM320 215h32.5v0.5h-32.5zM320 215.5h32.5v0.5h-32.5zM320 216h32v0.5h-32zM320 216.5h32v0.5h-32zM320 217h31.5v0.5h-31.5zM320 217.5h31v0.5h-31zM320 218h31v0.5h-31zM320 218.5h30.5v0.5h-30.5zM320 219h30v0.5h-30zM320 219.5h30v0.5h-30zM320 220h29.5v0.5h-29.5zM320 220.5h29v0.5h-29zM320 221h29v0.5h-29zM360.5 221h0.5v0.5h-0.5zM320 221.5h28.5v0.5h-28.5zM360 221.5h1v0.5h-1zM320 222h28v0.5h-28zM360 222h1.5v0.5h-1.5zM320 222.5h28v0.5h-28zM360 222.5h1.5v0.5h-1.5zM320 223h27.5v0.5h-27.5zM360 223h1.5v0.5h-1.5zM320 223.5h27v0.5h-27zM360 223.5h1.5v0.5h-1.5zM320 224h27v0.5h-27zM360 224h1.5v0.5h-1.5zM320 224.5h26.5v0.5h-26.5zM360 224.5h1.5v0.5h-1.5zM320 225h26.5v0.5h-26.5zM360 225h1.5v0.5h-1.5zM320 225.5h26v0.5h-26zM360.5 225.5h0.5v0.5h-0.5zM320 226h25.5v0.5h-25.5zM320 226.5h25.5v0.5h-25.5zM320 227h25v0.5h-25zM320 227.5h25v0.5h-25zM320 228h24.5v0.5h-24.5zM320 228.5h24.5v0.5h-24.5zM320 229h24v0.5h-24zM320 229.5h23.5v0.5h-23.5zM320 230h16v0.5h-16zM320 230.5h15.5v0.5h-15.5zM320 231h15.5v0.5h-15.5zM320 231.5h15.5v0.5h-15.5zM320 232h15.5v0.5h-15.5zM320 232.5h15.5v0.5h-15.5zM320 233h15.5v0.5h-15.5zM320 233.5h15.5v0.5h-15.5zM320 234h15.5v0.5h-15.5zM320 234.5h15.5v0.5h-15.5zM320 235h15.5v0.5h-15.5zM320 235.5h15.5v0.5h-15.5zM320 236h15.5v0.5h-15.5zM320 236.5h15.5v0.5h-15.5zM320 237h15.5v0.5h-15.5zM320 237.5h15v0.5h-15z"/><path fill="#000" d="M325 187h.7v.7h-.7zM369.1 187.5h.7v.7h-.7zM364.9 187.5h.7v.7h-.7zM323.8 187.5h.7v.7h-.7zM320.2 187.3h.7v.7h-.7zM322.5 187.8h.7v.7h-.7zM323.6 187.7h.7v.7h-.7zM324.3 187.9h.7v.7h-.7zM355.2 188h.7v.7h-.7zM357.3 187.7h.7v.7h-.7zM360.5 188h.7v.7h-.7zM361.9 188h.7v.7h-.7zM366 187.8h.7v.7h-.7zM367.6 187.9h.7v.7h-.7zM369.6 188.3h.7v.7h-.7zM368.2 188.4h.7v.7h-.7zM367 188.3h.7v.7h-.7zM365.6 188.4h.7v.7h-.7zM364.1 188.4h.7v.7h-.7zM356.3 188.2h.7v.7h-.7zM354.6 188.3h.7v.7h-.7zM323.9 188.5h.7v.7h-.7zM322.5 188.4h.7v.7h-.7zM320.7 188.3h.7v.7h-.7zM321.3 189.1h.7v.7h-.7zM323.4 189.1h.7v.7h-.7zM358.5 189h.7v.7h-.7zM359.4 189h.7v.7h-.7zM363 189.1h.7v.7h-.7zM364.4 188.9h.7v.7h-.7zM366.2 188.9h.7v.7h-.7zM367.3 189.1h.7v.7h-.7zM370.5 188.8h.7v.7h-.7zM368.8 189.4h.7v.7h-.7zM366.3 189.4h.7v.7h-.7zM365.3 189.5h.7v.7h-.7zM361.7 189.4h.7v.7h-.7zM360.9 189.6h.7v.7h-.7zM357.8 189.3h.7v.7h-.7zM354.5 189.3h.7v.7h-.7zM322.5 189.2h.7v.7h-.7zM320.4 189.5h.7v.7h-.7zM321.6 189.7h.7v.7h-.7zM323 190.1h.7v.7h-.7zM323.2 189.7h.7v.7h-.7zM355.1 190.1h.7v.7h-.7zM355.9 190h.7v.7h-.7zM356.8 190h.7v.7h-.7zM359.6 190h.7v.7h-.7zM362.7 189.8h.7v.7h-.7zM364.6 190.1h.7v.7h-.7zM365.3 189.8h.7v.7h-.7zM366.7 190h.7v.7h-.7zM367.6 189.9h.7v.7h-.7zM369.1 190.1h.7v.7h-.7zM368.5 190.3h.7v.7h-.7zM366.4 190.5h.7v.7h-.7zM365.3 190.2h.7v.7h-.7zM363.8 190.5h.7v.7h-.7zM363.5 190.4h.7v.7h-.7zM362.1 190.6h.7v.7h-.7zM354 190.4h.7v.7h-.7zM353.3 190.3h.7v.7h-.7zM322 190.5h.7v.7h-.7zM320.5 190.3h.7v.7h-.7zM321.3 191.1h.7v.7h-.7zM323.3 190.8h.7v.7h-.7zM355 191.1h.7v.7h-.7zM357.2 190.8h.7v.7h-.7zM358.4 191h.7v.7h-.7zM359.8 191h.7v.7h-.7zM364.8 190.9h.7v.7h-.7zM365.9 190.9h.7v.7h-.7zM366.9 191h.7v.7h-.7zM368.1 190.7h.7v.7h-.7zM369.6 190.8h.7v.7h-.7zM364.5 191.2h.7v.7h-.7zM363.5 191.5h.7v.7h-.7zM362.4 191.3h.7v.7h-.7zM355.7 191.4h.7v.7h-.7zM353 191.5h.7v.7h-.7zM323.1 191.3h.7v.7h-.7zM322.6 191.4h.7v.7h-.7zM320.4 191.6h.7v.7h-.7zM322 192.1h.7v.7h-.7zM323.6 191.8h.7v.7h-.7zM356.8 191.9h.7v.7h-.7zM358.3 191.9h.7v.7h-.7zM360.3 191.9h.7v.7h-.7zM361.5 192.1h.7v.7h-.7zM363 192h.7v.7h-.7zM364.5 191.9h.7v.7h-.7zM365.3 191.8h.7v.7h-.7zM366.4 192h.7v.7h-.7zM366.8 192h.7v.7h-.7zM368.1 191.8h.7v.7h-.7zM365.2 192.2h.7v.7h-.7zM364.6 192.4h.7v.7h-.7zM362.9 192.3h.7v.7h-.7zM361.2 192.3h.7v.7h-.7zM359.1 192.3h.7v.7h-.7zM355.9 192.3h.7v.7h-.7zM354.3 192.3h.7v.7h-.7zM353 192.2h.7v.7h-.7zM322.6 192.6h.7v.7h-.7zM320.9 192.4h.7v.7h-.7zM323 192.7h.7v.7h-.7zM356.7 192.8h.7v.7h-.7zM359.8 192.9h.7v.7h-.7zM363.1 193h.7v.7h-.7zM365 193.1h.7v.7h-.7zM366.3 192.8h.7v.7h-.7zM368.3 192.7h.7v.7h-.7zM367 193.3h.7v.7h-.7zM364.8 193.5h.7v.7h-.7zM364.6 193.3h.7v.7h-.7zM364 193.2h.7v.7h-.7zM363.4 193.4h.7v.7h-.7zM361.9 193.5h.7v.7h-.7zM360.2 193.4h.7v.7h-.7zM359 193.2h.7v.7h-.7zM355.4 193.6h.7v.7h-.7zM354.5 193.3h.7v.7h-.7zM353 193.3h.7v.7h-.7zM323.5 193.3h.7v.7h-.7zM322 193.3h.7v.7h-.7zM321.4 193.6h.7v.7h-.7zM320.4 193.8h.7v.7h-.7zM323.9 194.1h.7v.7h-.7zM357.6 194.1h.7v.7h-.7zM361.5 193.7h.7v.7h-.7zM362.3 194.1h.7v.7h-.7zM365.3 194.1h.7v.7h-.7zM365.5 194.4h.7v.7h-.7zM363.4 194.5h.7v.7h-.7zM360.6 194.3h.7v.7h-.7zM356.4 194.6h.7v.7h-.7zM354.5 194.3h.7v.7h-.7zM353.1 194.6h.7v.7h-.7zM324.1 194.2h.7v.7h-.7zM323 194.4h.7v.7h-.7zM321.6 194.2h.7v.7h-.7zM322.6 194.9h.7v.7h-.7zM323.5 194.9h.7v.7h-.7zM356.7 194.9h.7v.7h-.7zM358.9 195h.7v.7h-.7zM360.5 195.1h.7v.7h-.7zM361.4 194.7h.7v.7h-.7zM362.4 194.9h.7v.7h-.7zM363.4 195h.7v.7h-.7zM364.3 194.7h.7v.7h-.7zM365.8 195.1h.7v.7h-.7zM366.9 195.5h.7v.7h-.7zM364.1 195.5h.7v.7h-.7zM362.3 195.2h.7v.7h-.7zM361 195.4h.7v.7h-.7zM358.7 195.3h.7v.7h-.7zM357.3 195.3h.7v.7h-.7zM355.3 195.6h.7v.7h-.7zM353.8 195.2h.7v.7h-.7zM352.3 195.3h.7v.7h-.7zM322.8 195.5h.7v.7h-.7zM321 195.6h.7v.7h-.7zM319.9 195.4h.7v.7h-.7zM321.4 195.9h.7v.7h-.7zM322.2 195.9h.7v.7h-.7zM323.8 195.7h.7v.7h-.7zM354.5 195.8h.7v.7h-.7zM356.6 195.7h.7v.7h-.7zM358.4 195.8h.7v.7h-.7zM359.7 196h.7v.7h-.7zM361.4 196h.7v.7h-.7zM361.9 195.7h.7v.7h-.7zM362.7 195.9h.7v.7h-.7zM365 196h.7v.7h-.7zM364.3 196.3h.7v.7h-.7zM362.9 196.5h.7v.7h-.7zM360.5 196.2h.7v.7h-.7zM359.5 196.4h.7v.7h-.7zM352.8 196.5h.7v.7h-.7zM323.4 196.5h.7v.7h-.7zM322 196.2h.7v.7h-.7zM320.4 197h.7v.7h-.7zM323 196.7h.7v.7h-.7zM324.1 196.8h.7v.7h-.7zM354.1 196.8h.7v.7h-.7zM355.1 197h.7v.7h-.7zM357.1 196.9h.7v.7h-.7zM358 196.9h.7v.7h-.7zM360.7 196.7h.7v.7h-.7zM361.3 196.8h.7v.7h-.7zM362.4 197.1h.7v.7h-.7zM363.8 197.3h.7v.7h-.7zM362.3 197.2h.7v.7h-.7zM360.3 197.6h.7v.7h-.7zM359.3 197.2h.7v.7h-.7zM355.3 197.2h.7v.7h-.7zM352.6 197.2h.7v.7h-.7zM324.3 197.4h.7v.7h-.7zM322.5 197.2h.7v.7h-.7zM321.2 197.5h.7v.7h-.7zM322.7 197.7h.7v.7h-.7zM354 197.8h.7v.7h-.7zM356.4 197.8h.7v.7h-.7zM359.1 197.8h.7v.7h-.7zM360.6 197.8h.7v.7h-.7zM361.8 198.1h.7v.7h-.7zM363.2 198.1h.7v.7h-.7zM362 198.2h.7v.7h-.7zM361.1 198.5h.7v.7h-.7zM359.7 198.6h.7v.7h-.7zM359 198.2h.7v.7h-.7zM358.1 198.3h.7v.7h-.7zM324 198.4h.7v.7h-.7zM322.4 198.4h.7v.7h-.7zM320.7 198.4h.7v.7h-.7zM319.9 198.3h.7v.7h-.7zM321.6 199.1h.7v.7h-.7zM323.5 199.1h.7v.7h-.7zM324.4 198.8h.7v.7h-.7zM353.3 199.1h.7v.7h-.7zM354.3 199.1h.7v.7h-.7zM355.9 198.8h.7v.7h-.7zM356.8 199h.7v.7h-.7zM358.8 198.8h.7v.7h-.7zM362.5 199.1h.7v.7h-.7zM361 199.4h.7v.7h-.7zM360.4 199.4h.7v.7h-.7zM359.3 199.4h.7v.7h-.7zM357.9 199.2h.7v.7h-.7zM355.6 199.5h.7v.7h-.7zM323.3 199.4h.7v.7h-.7zM322.5 199.5h.7v.7h-.7zM319.7 199.2h.7v.7h-.7zM321.1 200.1h.7v.7h-.7zM322.8 200h.7v.7h-.7zM324.3 200h.7v.7h-.7zM352.9 199.9h.7v.7h-.7zM356.9 200h.7v.7h-.7zM358.4 199.8h.7v.7h-.7zM359.7 200.1h.7v.7h-.7zM361.9 200.1h.7v.7h-.7zM361 200.2h.7v.7h-.7zM359 200.4h.7v.7h-.7zM357.6 200.4h.7v.7h-.7zM354.2 200.5h.7v.7h-.7zM324.2 200.3h.7v.7h-.7zM321.9 200.3h.7v.7h-.7zM320.4 201h.7v.7h-.7zM322.4 201.1h.7v.7h-.7zM323.4 200.8h.7v.7h-.7zM355.6 201h.7v.7h-.7zM356.9 201.1h.7v.7h-.7zM358.3 200.7h.7v.7h-.7zM359.2 200.8h.7v.7h-.7zM360.5 201.5h.7v.7h-.7zM358.7 201.3h.7v.7h-.7zM357.3 201.4h.7v.7h-.7zM356.1 201.5h.7v.7h-.7zM353.5 201.6h.7v.7h-.7zM324.1 201.2h.7v.7h-.7zM320.6 201.7h.7v.7h-.7zM321.7 202h.7v.7h-.7zM322.7 201.7h.7v.7h-.7zM324.2 201.9h.7v.7h-.7zM354.4 202h.7v.7h-.7zM357.5 201.8h.7v.7h-.7zM358.4 201.7h.7v.7h-.7zM359.5 201.7h.7v.7h-.7zM361.5 202.2h.7v.7h-.7zM357.8 202.2h.7v.7h-.7zM356.5 202.5h.7v.7h-.7zM355.5 202.4h.7v.7h-.7zM354 202.4h.7v.7h-.7zM325 202.5h.7v.7h-.7zM324 202.5h.7v.7h-.7zM322.2 202.2h.7v.7h-.7zM321.1 202.2h.7v.7h-.7zM323.8 202.7h.7v.7h-.7zM355.5 203.1h.7v.7h-.7zM356.2 203.1h.7v.7h-.7zM356.9 202.8h.7v.7h-.7zM358.8 203.1h.7v.7h-.7zM357.8 203.2h.7v.7h-.7zM354.9 203.3h.7v.7h-.7zM324.2 203.6h.7v.7h-.7zM323.1 203.5h.7v.7h-.7zM321.8 203.3h.7v.7h-.7zM320.4 204.1h.7v.7h-.7zM321.4 203.9h.7v.7h-.7zM323.2 203.9h.7v.7h-.7zM357.1 203.9h.7v.7h-.7zM357.8 203.7h.7v.7h-.7zM359.8 203.9h.7v.7h-.7zM356.5 204.4h.7v.7h-.7zM324.5 204.2h.7v.7h-.7zM323 204.5h.7v.7h-.7zM321.2 204.3h.7v.7h-.7zM321.7 204.8h.7v.7h-.7zM324.1 205h.7v.7h-.7zM357.3 205.5h.7v.7h-.7zM323.6 205.3h.7v.7h-.7zM321 205.5h.7v.7h-.7zM320.2 205.7h.7v.7h-.7zM322.1 205.7h.7v.7h-.7zM322.8 206h.7v.7h-.7zM323.9 205.9h.7v.7h-.7zM324.5 205.8h.7v.7h-.7zM320.8 207h.7v.7h-.7zM321.8 206.9h.7v.7h-.7zM322.9 206.8h.7v.7h-.7zM323.2 206.8h.7v.7h-.7zM323 207.6h.7v.7h-.7zM322.1 207.2h.7v.7h-.7zM319.9 207.5h.7v.7h-.7zM320.8 208.1h.7v.7h-.7zM357.7 207.9h.7v.7h-.7zM321.3 208.3h.7v.7h-.7zM319.8 208.5h.7v.7h-.7zM320.6 208.9h.7v.7h-.7zM321.8 209.1h.7v.7h-.7zM321.2 209.6h.7v.7h-.7zM319.7 210.1h.7v.7h-.7zM355 210.8h.7v.7h-.7zM353.4 213.6h.7v.7h-.7zM355.4 214.1h.7v.7h-.7zM352.5 216h.7v.7h-.7zM351.5 216.7h.7v.7h-.7zM359.8 218.1h.7v.7h-.7zM350.1 218.9h.7v.7h-.7zM361.1 218.7h.7v.7h-.7zM359.8 219.7h.7v.7h-.7zM361.4 220.2h.7v.7h-.7zM359.6 220.4h.7v.7h-.7zM349 220.3h.7v.7h-.7zM359.3 221.2h.7v.7h-.7zM361.5 222.5h.7v.7h-.7zM359.4 222.2h.7v.7h-.7zM359 224h.7v.7h-.7zM361.3 224.2h.7v.7h-.7zM346.7 224.6h.7v.7h-.7zM360.7 225.4h.7v.7h-.7zM345.6 225.9h.7v.7h-.7zM359 225.9h.7v.7h-.7zM360.5 226h.7v.7h-.7zM362.6 226h.7v.7h-.7zM359.9 226.5h.7v.7h-.7zM360.5 227.3h.7v.7h-.7zM344.1 229h.7v.7h-.7zM361.6 229.6h.7v.7h-.7zM336.4 229.9h.7v.7h-.7zM337.3 229.8h.7v.7h-.7zM338.5 229.8h.7v.7h-.7zM339.9 230h.7v.7h-.7zM343.5 230.1h.7v.7h-.7zM335.6 230.4h.7v.7h-.7zM359.6 231.9h.7v.7h-.7zM335.4 232.5h.7v.7h-.7zM335.9 234.3h.7v.7h-.7zM335.2 236.6h.7v.7h-.7z"/><path fill="#fff" d="M353.4 187.1h.7v.7h-.7zM325.8 187.3h.7v.7h-.7zM324.3 188.8h.7v.7h-.7zM325.4 189.1h.7v.7h-.7zM323.9 190.4h.7v.7h-.7zM325.7 191.6h.7v.7h-.7zM324.5 191.5h.7v.7h-.7zM325.4 191.7h.7v.7h-.7zM324 192.3h.7v.7h-.7zM325.4 193.3h.7v.7h-.7zM324.8 194.6h.7v.7h-.7zM325.7 195h.7v.7h-.7zM324.2 196.1h.7v.7h-.7zM325.3 196.3h.7v.7h-.7zM326.1 197.2h.7v.7h-.7zM325 198.4h.7v.7h-.7zM325.8 198.8h.7v.7h-.7zM352.6 199.3h.7v.7h-.7zM326.8 200.1h.7v.7h-.7zM325.5 200.3h.7v.7h-.7zM325.8 201.5h.7v.7h-.7zM324.8 201.5h.7v.7h-.7zM327.2 202h.7v.7h-.7zM326.3 203.1h.7v.7h-.7zM326 203.3h.7v.7h-.7zM325.8 204.4h.7v.7h-.7zM325.1 205.1h.7v.7h-.7zM325.9 205.7h.7v.7h-.7zM324.6 207.1h.7v.7h-.7zM325.5 207.3h.7v.7h-.7zM323.7 207.7h.7v.7h-.7zM356.4 208.3h.7v.7h-.7zM323.1 208.2h.7v.7h-.7zM324.3 208.8h.7v.7h-.7zM323.6 209.4h.7v.7h-.7zM320.8 210h.7v.7h-.7zM323 210.4h.7v.7h-.7zM320.3 210.8h.7v.7h-.7zM322 210.8h.7v.7h-.7zM360.5 220.7h.7v.7h-.7zM360.4 222.1h.7v.7h-.7zM347.5 222.3h.7v.7h-.7zM360.7 223.2h.7v.7h-.7zM359.7 224.7h.7v.7h-.7z"/></g></g>
<rect x="320.4" y="187.8" width="49.9" height="49.7" fill="none" stroke="#9c9c9c" stroke-width="0.9"/>
<g fill="#222" font-size="3.2"><text x="313.8" y="193.92">10<tspan dy="-1.2" font-size="2.4">4</tspan></text><rect x="319.1" y="192.17" width="1.3" height=".7" opacity=".8"/><text x="313.8" y="204.86">10<tspan dy="-1.2" font-size="2.4">3</tspan></text><rect x="319.1" y="203.11" width="1.3" height=".7" opacity=".8"/><text x="313.8" y="216.29">10<tspan dy="-1.2" font-size="2.4">2</tspan></text><rect x="319.1" y="214.54" width="1.3" height=".7" opacity=".8"/><text x="313.8" y="227.97">10<tspan dy="-1.2" font-size="2.4">1</tspan></text><rect x="319.1" y="226.22" width="1.3" height=".7" opacity=".8"/><text x="316" y="233.78">0</text><rect x="319.1" y="232.43" width="1.3" height=".7" opacity=".8"/><text x="328.68" y="242.7">10<tspan dy="-1.2" font-size="2.4">1</tspan></text><rect x="330.53" y="237.5" width=".7" height="1.3" opacity=".8"/><text x="340.75" y="242.7">10<tspan dy="-1.2" font-size="2.4">2</tspan></text><rect x="342.6" y="237.5" width=".7" height="1.3" opacity=".8"/><text x="351.73" y="242.7">10<tspan dy="-1.2" font-size="2.4">3</tspan></text><rect x="353.58" y="237.5" width=".7" height="1.3" opacity=".8"/><text x="363.86" y="242.7">10<tspan dy="-1.2" font-size="2.4">4</tspan></text><rect x="365.71" y="237.5" width=".7" height="1.3" opacity=".8"/><text x="324.99" y="242.7">0</text><rect x="325.44" y="237.5" width=".7" height="1.3" opacity=".8"/></g>
<rect x="355.6" y="216.2" width="10.8" height="21.3" fill="none" stroke="#555" stroke-width="0.9"/>
<rect x="335.6" y="230.4" width="19" height="7.1" fill="#fff"/>
<text x="337.3" y="237.2" font-size="9.1" text-anchor="start" fill="#111" stroke="#111" stroke-width=".2">0.02</text>
<g clip-path="url(#c13)"><g filter="url(#bl)"><path fill="#666" d="M422.6 33.4h.7v.7h-.7zM420.5 33.4h.7v.7h-.7zM417.7 33.3h.7v.7h-.7zM419.6 33.9h.7v.7h-.7zM417.1 34.2h.7v.7h-.7zM415.9 34.4h.7v.7h-.7zM413.3 34.3h.7v.7h-.7zM414.7 36h.7v.7h-.7zM420.8 35.9h.7v.7h-.7zM424.1 36.1h.7v.7h-.7zM419.3 36.3h.7v.7h-.7zM417.6 37.5h.7v.7h-.7z"/></g></g>
<rect x="392.6" y="20.7" width="50.5" height="49.7" fill="none" stroke="#9c9c9c" stroke-width="0.9"/>
<g fill="#222" font-size="3.2"><text x="386" y="26.82">10<tspan dy="-1.2" font-size="2.4">4</tspan></text><rect x="391.3" y="25.07" width="1.3" height=".7" opacity=".8"/><text x="386" y="37.76">10<tspan dy="-1.2" font-size="2.4">3</tspan></text><rect x="391.3" y="36.01" width="1.3" height=".7" opacity=".8"/><text x="386" y="49.19">10<tspan dy="-1.2" font-size="2.4">2</tspan></text><rect x="391.3" y="47.44" width="1.3" height=".7" opacity=".8"/><text x="386" y="60.87">10<tspan dy="-1.2" font-size="2.4">1</tspan></text><rect x="391.3" y="59.12" width="1.3" height=".7" opacity=".8"/><text x="388.2" y="66.68">0</text><rect x="391.3" y="65.33" width="1.3" height=".7" opacity=".8"/><text x="401.01" y="75.6">10<tspan dy="-1.2" font-size="2.4">1</tspan></text><rect x="402.86" y="70.4" width=".7" height="1.3" opacity=".8"/><text x="413.23" y="75.6">10<tspan dy="-1.2" font-size="2.4">2</tspan></text><rect x="415.08" y="70.4" width=".7" height="1.3" opacity=".8"/><text x="424.34" y="75.6">10<tspan dy="-1.2" font-size="2.4">3</tspan></text><rect x="426.19" y="70.4" width=".7" height="1.3" opacity=".8"/><text x="436.61" y="75.6">10<tspan dy="-1.2" font-size="2.4">4</tspan></text><rect x="438.46" y="70.4" width=".7" height="1.3" opacity=".8"/><text x="397.25" y="75.6">0</text><rect x="397.7" y="70.4" width=".7" height="1.3" opacity=".8"/></g>
<path d="M392.6 24.7L443.1 24.7" stroke="#555" stroke-width="0.8" fill="none"/>
<path d="M420.9 24.7L420.9 70.4" stroke="#555" stroke-width="0.8" fill="none"/>
<text x="394.1" y="70.1" font-size="9.5" text-anchor="start" fill="#111" stroke="#111" stroke-width=".25">60</text>
<text x="442.5" y="70.1" font-size="9.5" text-anchor="end" fill="#111" stroke="#111" stroke-width=".25">40</text>
<g clip-path="url(#c14)"><g filter="url(#bl)"><path fill="#444" d="M419.5 124.5h1v0.5h-1zM418 125h4v0.5h-4zM417.5 125.5h5v0.5h-5zM417.5 126h5v0.5h-5zM418 126.5h4.5v0.5h-4.5zM418.5 127h3v0.5h-3z"/><path fill="#444" d="M420 119.5h.7v.7h-.7zM414.5 119.5h.7v.7h-.7zM417.4 120.6h.7v.7h-.7zM412 120.9h.7v.7h-.7zM421.9 120.9h.7v.7h-.7zM418.7 121.6h.7v.7h-.7zM416.6 121.5h.7v.7h-.7zM409.7 121.4h.7v.7h-.7zM407.9 122.1h.7v.7h-.7zM425.8 122.4h.7v.7h-.7zM421 122.5h.7v.7h-.7zM413.7 122.5h.7v.7h-.7zM415.5 123.1h.7v.7h-.7zM417.9 123.1h.7v.7h-.7zM422.7 123h.7v.7h-.7zM424.4 123.2h.7v.7h-.7zM422.1 123.4h.7v.7h-.7zM420.3 123.4h.7v.7h-.7zM419.4 123.5h.7v.7h-.7zM416.4 123.5h.7v.7h-.7zM412 123.5h.7v.7h-.7zM412.9 123.8h.7v.7h-.7zM418.9 124.1h.7v.7h-.7zM420.7 124.1h.7v.7h-.7zM423.7 124.3h.7v.7h-.7zM422.3 124.4h.7v.7h-.7zM418.4 124.3h.7v.7h-.7zM417.8 124.2h.7v.7h-.7zM416.3 124.2h.7v.7h-.7zM414.7 124.6h.7v.7h-.7zM409.1 124.3h.7v.7h-.7zM414.6 124.9h.7v.7h-.7zM417.4 125.1h.7v.7h-.7zM421.8 125.1h.7v.7h-.7zM423.2 124.9h.7v.7h-.7zM428 124.8h.7v.7h-.7zM425.3 125.4h.7v.7h-.7zM417 125.6h.7v.7h-.7zM415.7 125.6h.7v.7h-.7zM410.5 125.4h.7v.7h-.7zM405.5 125.4h.7v.7h-.7zM412.4 125.7h.7v.7h-.7zM415 125.9h.7v.7h-.7zM416.5 126.1h.7v.7h-.7zM422.4 125.9h.7v.7h-.7zM423.5 125.8h.7v.7h-.7zM427 126.3h.7v.7h-.7zM424.3 126.5h.7v.7h-.7zM422.4 126.4h.7v.7h-.7zM417.5 126.3h.7v.7h-.7zM413.5 126.5h.7v.7h-.7zM408.1 127.1h.7v.7h-.7zM415.3 126.8h.7v.7h-.7zM416.6 126.9h.7v.7h-.7zM417.8 126.9h.7v.7h-.7zM422.8 126.9h.7v.7h-.7zM424 127.5h.7v.7h-.7zM422.3 127.6h.7v.7h-.7zM420.7 127.5h.7v.7h-.7zM419.6 127.2h.7v.7h-.7zM416.8 127.4h.7v.7h-.7zM414.4 127.3h.7v.7h-.7zM411.5 128.1h.7v.7h-.7zM418.5 127.9h.7v.7h-.7zM420.7 127.9h.7v.7h-.7zM425.5 128h.7v.7h-.7zM422.2 128.4h.7v.7h-.7zM418.8 128.6h.7v.7h-.7zM416.9 128.5h.7v.7h-.7zM420 128.8h.7v.7h-.7zM421.5 128.8h.7v.7h-.7zM415 129.4h.7v.7h-.7zM409.6 130h.7v.7h-.7zM411.4 130.1h.7v.7h-.7zM416.2 129.8h.7v.7h-.7zM424 130.4h.7v.7h-.7zM418.2 130.6h.7v.7h-.7zM404 130.3h.7v.7h-.7zM413.9 130.9h.7v.7h-.7zM407.1 131.7h.7v.7h-.7zM428.5 131.8h.7v.7h-.7zM420.7 133.9h.7v.7h-.7zM416.6 134.9h.7v.7h-.7zM419.1 134.7h.7v.7h-.7zM411.8 135.3h.7v.7h-.7z"/><path fill="#fff" d="M419.9 124.4h.7v.7h-.7zM419.2 124.9h.7v.7h-.7zM421.1 125.1h.7v.7h-.7zM418.2 126h.7v.7h-.7zM421.6 126.3h.7v.7h-.7zM419 126.8h.7v.7h-.7zM420 126.9h.7v.7h-.7z"/></g></g>
<rect x="392.6" y="104.4" width="50.5" height="50" fill="none" stroke="#9c9c9c" stroke-width="0.9"/>
<g fill="#222" font-size="3.2"><text x="386" y="110.55">10<tspan dy="-1.2" font-size="2.4">4</tspan></text><rect x="391.3" y="108.8" width="1.3" height=".7" opacity=".8"/><text x="386" y="121.55">10<tspan dy="-1.2" font-size="2.4">3</tspan></text><rect x="391.3" y="119.8" width="1.3" height=".7" opacity=".8"/><text x="386" y="133.05">10<tspan dy="-1.2" font-size="2.4">2</tspan></text><rect x="391.3" y="131.3" width="1.3" height=".7" opacity=".8"/><text x="386" y="144.8">10<tspan dy="-1.2" font-size="2.4">1</tspan></text><rect x="391.3" y="143.05" width="1.3" height=".7" opacity=".8"/><text x="388.2" y="150.65">0</text><rect x="391.3" y="149.3" width="1.3" height=".7" opacity=".8"/><text x="401.01" y="159.6">10<tspan dy="-1.2" font-size="2.4">1</tspan></text><rect x="402.86" y="154.4" width=".7" height="1.3" opacity=".8"/><text x="413.23" y="159.6">10<tspan dy="-1.2" font-size="2.4">2</tspan></text><rect x="415.08" y="154.4" width=".7" height="1.3" opacity=".8"/><text x="424.34" y="159.6">10<tspan dy="-1.2" font-size="2.4">3</tspan></text><rect x="426.19" y="154.4" width=".7" height="1.3" opacity=".8"/><text x="436.61" y="159.6">10<tspan dy="-1.2" font-size="2.4">4</tspan></text><rect x="438.46" y="154.4" width=".7" height="1.3" opacity=".8"/><text x="397.25" y="159.6">0</text><rect x="397.7" y="154.4" width=".7" height="1.3" opacity=".8"/></g>
<path d="M392.6 108.8L443.1 108.8" stroke="#888" stroke-width="1.7" fill="none"/>
<path d="M420.9 108.8L420.9 154.4" stroke="#555" stroke-width="0.8" fill="none"/>
<text x="394.1" y="154.1" font-size="9.5" text-anchor="start" fill="#111" stroke="#111" stroke-width=".25">65</text>
<text x="442.5" y="154.1" font-size="9.5" text-anchor="end" fill="#111" stroke="#111" stroke-width=".25">35</text>
<g clip-path="url(#c15)"><g filter="url(#bl)"><path fill="#666" d="M411.8 206.5h.7v.7h-.7zM409.8 206.5h.7v.7h-.7zM415 207.3h.7v.7h-.7zM412.9 207.4h.7v.7h-.7zM417.1 208.4h.7v.7h-.7zM411 208.5h.7v.7h-.7zM409.1 208.4h.7v.7h-.7zM406.3 208.4h.7v.7h-.7zM408.1 208.9h.7v.7h-.7zM412.8 209.1h.7v.7h-.7zM415.5 209.6h.7v.7h-.7zM411.2 209.4h.7v.7h-.7zM404.7 209.3h.7v.7h-.7zM408.8 210.1h.7v.7h-.7zM410.2 209.8h.7v.7h-.7zM418.4 210.3h.7v.7h-.7zM414.6 210.2h.7v.7h-.7zM413.4 210.3h.7v.7h-.7zM412.2 210.2h.7v.7h-.7zM406.5 210.3h.7v.7h-.7zM401.8 210.4h.7v.7h-.7zM415.5 211.4h.7v.7h-.7zM412.2 211.2h.7v.7h-.7zM411 211.5h.7v.7h-.7zM410 211.5h.7v.7h-.7zM408.3 211.6h.7v.7h-.7zM403.8 212.1h.7v.7h-.7zM406.7 211.9h.7v.7h-.7zM413.6 211.7h.7v.7h-.7zM414.9 212.1h.7v.7h-.7zM416.6 212.1h.7v.7h-.7zM417.3 212.6h.7v.7h-.7zM410.9 212.6h.7v.7h-.7zM407.9 212.2h.7v.7h-.7zM409.1 212.8h.7v.7h-.7zM411.8 212.9h.7v.7h-.7zM419.3 213.5h.7v.7h-.7zM413.9 213.3h.7v.7h-.7zM412.8 213.6h.7v.7h-.7zM410.1 213.5h.7v.7h-.7zM406 213.4h.7v.7h-.7zM400.8 213.5h.7v.7h-.7zM399.1 213.3h.7v.7h-.7zM411.4 213.7h.7v.7h-.7zM414.9 213.9h.7v.7h-.7zM410.2 214.3h.7v.7h-.7zM409.1 214.3h.7v.7h-.7zM412.3 215h.7v.7h-.7zM404.6 215.2h.7v.7h-.7zM408.4 215.7h.7v.7h-.7zM411.6 215.8h.7v.7h-.7zM416.8 216.2h.7v.7h-.7zM413 216.4h.7v.7h-.7zM406.6 216.2h.7v.7h-.7zM414.8 216.8h.7v.7h-.7z"/></g></g>
<rect x="392.6" y="187.6" width="50.5" height="50" fill="none" stroke="#9c9c9c" stroke-width="0.9"/>
<g fill="#222" font-size="3.2"><text x="386" y="193.75">10<tspan dy="-1.2" font-size="2.4">4</tspan></text><rect x="391.3" y="192" width="1.3" height=".7" opacity=".8"/><text x="386" y="204.75">10<tspan dy="-1.2" font-size="2.4">3</tspan></text><rect x="391.3" y="203" width="1.3" height=".7" opacity=".8"/><text x="386" y="216.25">10<tspan dy="-1.2" font-size="2.4">2</tspan></text><rect x="391.3" y="214.5" width="1.3" height=".7" opacity=".8"/><text x="386" y="228">10<tspan dy="-1.2" font-size="2.4">1</tspan></text><rect x="391.3" y="226.25" width="1.3" height=".7" opacity=".8"/><text x="388.2" y="233.85">0</text><rect x="391.3" y="232.5" width="1.3" height=".7" opacity=".8"/><text x="401.01" y="242.8">10<tspan dy="-1.2" font-size="2.4">1</tspan></text><rect x="402.86" y="237.6" width=".7" height="1.3" opacity=".8"/><text x="413.23" y="242.8">10<tspan dy="-1.2" font-size="2.4">2</tspan></text><rect x="415.08" y="237.6" width=".7" height="1.3" opacity=".8"/><text x="424.34" y="242.8">10<tspan dy="-1.2" font-size="2.4">3</tspan></text><rect x="426.19" y="237.6" width=".7" height="1.3" opacity=".8"/><text x="436.61" y="242.8">10<tspan dy="-1.2" font-size="2.4">4</tspan></text><rect x="438.46" y="237.6" width=".7" height="1.3" opacity=".8"/><text x="397.25" y="242.8">0</text><rect x="397.7" y="237.6" width=".7" height="1.3" opacity=".8"/></g>
<path d="M392.6 192L443.1 192" stroke="#555" stroke-width="0.8" fill="none"/>
<path d="M420.9 192L420.9 237.6" stroke="#555" stroke-width="0.8" fill="none"/>
<text x="394.1" y="237.3" font-size="9.5" text-anchor="start" fill="#111" stroke="#111" stroke-width=".25">97</text>
<text x="442.5" y="237.3" font-size="9.5" text-anchor="end" fill="#111" stroke="#111" stroke-width=".25">3</text>
<g clip-path="url(#c16)"><g filter="url(#bl)"><path fill="#777" d="M504.9 32.9h.7v.7h-.7zM503 34h.7v.7h-.7zM504.7 34.9h.7v.7h-.7zM507.7 36.2h.7v.7h-.7zM505.8 36.5h.7v.7h-.7zM503.7 36.6h.7v.7h-.7zM500.9 37h.7v.7h-.7zM503.1 37.9h.7v.7h-.7zM506.4 39.4h.7v.7h-.7zM503.9 39.8h.7v.7h-.7zM506.8 42.3h.7v.7h-.7zM502.4 42.3h.7v.7h-.7zM505.1 42.8h.7v.7h-.7zM501.6 44.8h.7v.7h-.7zM499.5 45.8h.7v.7h-.7zM504.1 48.1h.7v.7h-.7zM498 49h.7v.7h-.7zM501.1 49h.7v.7h-.7zM502.5 50.1h.7v.7h-.7zM499.8 50.7h.7v.7h-.7zM505 50.8h.7v.7h-.7zM497.3 52.9h.7v.7h-.7zM502.8 52.8h.7v.7h-.7zM500.7 54h.7v.7h-.7zM506 53.8h.7v.7h-.7zM502.9 55.4h.7v.7h-.7zM498.8 55.2h.7v.7h-.7zM501.9 57.6h.7v.7h-.7zM504.7 58h.7v.7h-.7zM497.1 58.8h.7v.7h-.7zM499.3 60.5h.7v.7h-.7z"/></g></g>
<rect x="466.4" y="20.7" width="50.1" height="49.7" fill="none" stroke="#9c9c9c" stroke-width="0.9"/>
<g fill="#222" font-size="3.2"><text x="459.8" y="26.82">10<tspan dy="-1.2" font-size="2.4">4</tspan></text><rect x="465.1" y="25.07" width="1.3" height=".7" opacity=".8"/><text x="459.8" y="37.76">10<tspan dy="-1.2" font-size="2.4">3</tspan></text><rect x="465.1" y="36.01" width="1.3" height=".7" opacity=".8"/><text x="459.8" y="49.19">10<tspan dy="-1.2" font-size="2.4">2</tspan></text><rect x="465.1" y="47.44" width="1.3" height=".7" opacity=".8"/><text x="459.8" y="60.87">10<tspan dy="-1.2" font-size="2.4">1</tspan></text><rect x="465.1" y="59.12" width="1.3" height=".7" opacity=".8"/><text x="462" y="66.68">0</text><rect x="465.1" y="65.33" width="1.3" height=".7" opacity=".8"/><text x="474.72" y="75.6">10<tspan dy="-1.2" font-size="2.4">1</tspan></text><rect x="476.57" y="70.4" width=".7" height="1.3" opacity=".8"/><text x="486.85" y="75.6">10<tspan dy="-1.2" font-size="2.4">2</tspan></text><rect x="488.7" y="70.4" width=".7" height="1.3" opacity=".8"/><text x="497.87" y="75.6">10<tspan dy="-1.2" font-size="2.4">3</tspan></text><rect x="499.72" y="70.4" width=".7" height="1.3" opacity=".8"/><text x="510.04" y="75.6">10<tspan dy="-1.2" font-size="2.4">4</tspan></text><rect x="511.89" y="70.4" width=".7" height="1.3" opacity=".8"/><text x="471.01" y="75.6">0</text><rect x="471.46" y="70.4" width=".7" height="1.3" opacity=".8"/></g>
<path d="M466.4 45.3L516.5 45.3" stroke="#555" stroke-width="0.8" fill="none"/>
<path d="M495.2 20.7L495.2 70.4" stroke="#555" stroke-width="0.8" fill="none"/>
<text x="468" y="29.5" font-size="9.5" text-anchor="start" fill="#111" stroke="#111" stroke-width=".25">3</text>
<text x="515.8" y="29.5" font-size="9.5" text-anchor="end" fill="#111" stroke="#111" stroke-width=".25">35</text>
<text x="467.3" y="70" font-size="9.5" text-anchor="start" fill="#111" stroke="#111" stroke-width=".25">14</text>
<text x="515.8" y="70" font-size="9.5" text-anchor="end" fill="#111" stroke="#111" stroke-width=".25">48</text>
<g clip-path="url(#c17)"><g filter="url(#bl)"><path fill="#555" d="M501.4 114.8h.7v.7h-.7zM502.4 116.2h.7v.7h-.7zM500 118.1h.7v.7h-.7zM504 118.3h.7v.7h-.7zM502.6 118.4h.7v.7h-.7zM501.5 120h.7v.7h-.7zM503 120.4h.7v.7h-.7zM501 121h.7v.7h-.7zM498.3 121.2h.7v.7h-.7zM499.7 122.1h.7v.7h-.7zM502.8 121.7h.7v.7h-.7zM504.5 122.5h.7v.7h-.7zM501.4 122.5h.7v.7h-.7zM502.3 122.9h.7v.7h-.7zM501.5 123.4h.7v.7h-.7zM504 124.4h.7v.7h-.7zM502.4 124.6h.7v.7h-.7zM500.4 124.2h.7v.7h-.7zM501.2 124.8h.7v.7h-.7zM505.6 125.2h.7v.7h-.7zM503.3 125.4h.7v.7h-.7zM501.5 125.2h.7v.7h-.7zM499.3 125.3h.7v.7h-.7zM501.9 126h.7v.7h-.7zM502.4 126.6h.7v.7h-.7zM501 126.5h.7v.7h-.7zM499.8 127.1h.7v.7h-.7zM504.5 127.6h.7v.7h-.7zM502 127.2h.7v.7h-.7zM501.4 127.9h.7v.7h-.7zM502.6 127.9h.7v.7h-.7zM503.2 128.1h.7v.7h-.7zM501.6 128.3h.7v.7h-.7zM500.3 128.3h.7v.7h-.7zM502.4 128.8h.7v.7h-.7zM503.2 129h.7v.7h-.7zM501.4 129.5h.7v.7h-.7zM499 129.6h.7v.7h-.7zM501.1 130h.7v.7h-.7zM502.3 129.7h.7v.7h-.7zM503.7 130.3h.7v.7h-.7zM501.9 130.6h.7v.7h-.7zM499.6 130.4h.7v.7h-.7zM500.5 130.7h.7v.7h-.7zM502.9 131.1h.7v.7h-.7zM501.1 131.5h.7v.7h-.7zM496.7 131.6h.7v.7h-.7zM501.8 131.9h.7v.7h-.7zM503.5 132.1h.7v.7h-.7zM506.4 132.1h.7v.7h-.7zM504.8 132.3h.7v.7h-.7zM502.3 132.5h.7v.7h-.7zM500.8 132.3h.7v.7h-.7zM499.8 132.9h.7v.7h-.7zM501.6 132.8h.7v.7h-.7zM503 133.4h.7v.7h-.7zM501.1 134h.7v.7h-.7zM502.9 134.2h.7v.7h-.7zM502 134.6h.7v.7h-.7zM499.6 135h.7v.7h-.7zM503.4 135.5h.7v.7h-.7zM501.9 135.4h.7v.7h-.7zM500.4 135.2h.7v.7h-.7zM501.6 135.8h.7v.7h-.7zM502.5 136.4h.7v.7h-.7zM504.5 136.8h.7v.7h-.7zM502.8 137.2h.7v.7h-.7zM501.5 137.5h.7v.7h-.7zM500.5 138.3h.7v.7h-.7zM498.3 138.2h.7v.7h-.7zM505.4 139.3h.7v.7h-.7zM502.8 139.4h.7v.7h-.7zM501 139.8h.7v.7h-.7zM503 141h.7v.7h-.7zM500.4 141.8h.7v.7h-.7zM502.5 142.2h.7v.7h-.7zM501.6 144.1h.7v.7h-.7zM504.3 145.1h.7v.7h-.7zM497.4 146.1h.7v.7h-.7zM501.3 147.2h.7v.7h-.7z"/></g></g>
<rect x="466.4" y="104.4" width="50.1" height="50" fill="none" stroke="#9c9c9c" stroke-width="0.9"/>
<g fill="#222" font-size="3.2"><text x="459.8" y="110.55">10<tspan dy="-1.2" font-size="2.4">4</tspan></text><rect x="465.1" y="108.8" width="1.3" height=".7" opacity=".8"/><text x="459.8" y="121.55">10<tspan dy="-1.2" font-size="2.4">3</tspan></text><rect x="465.1" y="119.8" width="1.3" height=".7" opacity=".8"/><text x="459.8" y="133.05">10<tspan dy="-1.2" font-size="2.4">2</tspan></text><rect x="465.1" y="131.3" width="1.3" height=".7" opacity=".8"/><text x="459.8" y="144.8">10<tspan dy="-1.2" font-size="2.4">1</tspan></text><rect x="465.1" y="143.05" width="1.3" height=".7" opacity=".8"/><text x="462" y="150.65">0</text><rect x="465.1" y="149.3" width="1.3" height=".7" opacity=".8"/><text x="474.72" y="159.6">10<tspan dy="-1.2" font-size="2.4">1</tspan></text><rect x="476.57" y="154.4" width=".7" height="1.3" opacity=".8"/><text x="486.85" y="159.6">10<tspan dy="-1.2" font-size="2.4">2</tspan></text><rect x="488.7" y="154.4" width=".7" height="1.3" opacity=".8"/><text x="497.87" y="159.6">10<tspan dy="-1.2" font-size="2.4">3</tspan></text><rect x="499.72" y="154.4" width=".7" height="1.3" opacity=".8"/><text x="510.04" y="159.6">10<tspan dy="-1.2" font-size="2.4">4</tspan></text><rect x="511.89" y="154.4" width=".7" height="1.3" opacity=".8"/><text x="471.01" y="159.6">0</text><rect x="471.46" y="154.4" width=".7" height="1.3" opacity=".8"/></g>
<path d="M466.4 128.5L516.5 128.5" stroke="#555" stroke-width="0.8" fill="none"/>
<path d="M495.2 104.4L495.2 154.4" stroke="#555" stroke-width="0.8" fill="none"/>
<text x="468" y="113.2" font-size="9.5" text-anchor="start" fill="#111" stroke="#111" stroke-width=".25">0</text>
<text x="515.8" y="113.2" font-size="9.5" text-anchor="end" fill="#111" stroke="#111" stroke-width=".25">34</text>
<text x="467.3" y="154" font-size="9.5" text-anchor="start" fill="#111" stroke="#111" stroke-width=".25">3</text>
<text x="515.8" y="154" font-size="9.5" text-anchor="end" fill="#111" stroke="#111" stroke-width=".25">63</text>
<g clip-path="url(#c18)"><g filter="url(#bl)"><path fill="#777" d="M503.9 200.6h.7v.7h-.7zM502.6 200.3h.7v.7h-.7zM502.8 202.6h.7v.7h-.7zM502 203h.7v.7h-.7zM503.9 203.9h.7v.7h-.7zM504.9 204.5h.7v.7h-.7zM501.9 204.4h.7v.7h-.7zM503.6 204.9h.7v.7h-.7zM502.2 205.6h.7v.7h-.7zM503.2 205.9h.7v.7h-.7zM500.7 206.4h.7v.7h-.7zM502.4 207h.7v.7h-.7zM503.9 207.1h.7v.7h-.7zM502 208.1h.7v.7h-.7zM504.5 208.1h.7v.7h-.7zM503.3 208.3h.7v.7h-.7zM502.8 209.1h.7v.7h-.7zM502.1 209.6h.7v.7h-.7zM503.4 210.2h.7v.7h-.7zM502.5 210.5h.7v.7h-.7zM504.3 210.7h.7v.7h-.7zM501.1 211.5h.7v.7h-.7zM502.5 212.1h.7v.7h-.7zM503.8 211.7h.7v.7h-.7zM505.9 213h.7v.7h-.7zM502.8 213.6h.7v.7h-.7zM503.7 213.8h.7v.7h-.7zM502.2 214.4h.7v.7h-.7zM504 215.4h.7v.7h-.7zM501.3 216.1h.7v.7h-.7zM502.7 217.4h.7v.7h-.7zM503.8 217.8h.7v.7h-.7zM503.1 219.5h.7v.7h-.7zM505 219.8h.7v.7h-.7zM502 220.2h.7v.7h-.7zM502.5 221.9h.7v.7h-.7zM504.5 222.6h.7v.7h-.7zM503.1 223.4h.7v.7h-.7zM504.1 224.9h.7v.7h-.7zM501.8 225.8h.7v.7h-.7zM504 227.9h.7v.7h-.7zM502.3 228.9h.7v.7h-.7zM502.7 234.9h.7v.7h-.7z"/></g></g>
<rect x="466.4" y="187.8" width="50.1" height="49.8" fill="none" stroke="#9c9c9c" stroke-width="0.9"/>
<g fill="#222" font-size="3.2"><text x="459.8" y="193.93">10<tspan dy="-1.2" font-size="2.4">4</tspan></text><rect x="465.1" y="192.18" width="1.3" height=".7" opacity=".8"/><text x="459.8" y="204.89">10<tspan dy="-1.2" font-size="2.4">3</tspan></text><rect x="465.1" y="203.14" width="1.3" height=".7" opacity=".8"/><text x="459.8" y="216.34">10<tspan dy="-1.2" font-size="2.4">2</tspan></text><rect x="465.1" y="214.59" width="1.3" height=".7" opacity=".8"/><text x="459.8" y="228.04">10<tspan dy="-1.2" font-size="2.4">1</tspan></text><rect x="465.1" y="226.29" width="1.3" height=".7" opacity=".8"/><text x="462" y="233.87">0</text><rect x="465.1" y="232.52" width="1.3" height=".7" opacity=".8"/><text x="474.72" y="242.8">10<tspan dy="-1.2" font-size="2.4">1</tspan></text><rect x="476.57" y="237.6" width=".7" height="1.3" opacity=".8"/><text x="486.85" y="242.8">10<tspan dy="-1.2" font-size="2.4">2</tspan></text><rect x="488.7" y="237.6" width=".7" height="1.3" opacity=".8"/><text x="497.87" y="242.8">10<tspan dy="-1.2" font-size="2.4">3</tspan></text><rect x="499.72" y="237.6" width=".7" height="1.3" opacity=".8"/><text x="510.04" y="242.8">10<tspan dy="-1.2" font-size="2.4">4</tspan></text><rect x="511.89" y="237.6" width=".7" height="1.3" opacity=".8"/><text x="471.01" y="242.8">0</text><rect x="471.46" y="237.6" width=".7" height="1.3" opacity=".8"/></g>
<path d="M466.4 212.2L516.5 212.2" stroke="#555" stroke-width="0.8" fill="none"/>
<path d="M495.2 187.8L495.2 237.6" stroke="#555" stroke-width="0.8" fill="none"/>
<text x="468" y="196.6" font-size="9.5" text-anchor="start" fill="#111" stroke="#111" stroke-width=".25">2</text>
<text x="515.8" y="196.6" font-size="9.5" text-anchor="end" fill="#111" stroke="#111" stroke-width=".25">43</text>
<text x="467.3" y="237.2" font-size="9.5" text-anchor="start" fill="#111" stroke="#111" stroke-width=".25">3</text>
<text x="515.8" y="237.2" font-size="9.5" text-anchor="end" fill="#111" stroke="#111" stroke-width=".25">52</text>
<text x="1.1" y="14.4" font-size="18.4" font-weight="bold" text-anchor="start" fill="#111">A</text>
<text x="0" y="293" font-size="18.3" font-weight="bold" text-anchor="start" fill="#111">B</text>
<text x="293.4" y="292.9" font-size="18.4" font-weight="bold" text-anchor="start" fill="#111">C</text>
<text x="97.3" y="11.6" font-size="10.75" font-weight="bold" text-anchor="start" fill="#111">NOD/SCID/<tspan font-weight="normal">&#947;</tspan>c<tspan dy="-2.6" font-size="8.4">-/-</tspan><tspan dy="2.6"> day 7 spleen</tspan></text>
<text x="359.4" y="11.6" font-size="10.75" font-weight="bold" text-anchor="start" fill="#111">NOD/SCID day 7 spleen</text>
<text x="0.6" y="49.4" font-size="10.85" font-weight="bold" text-anchor="start" fill="#111">CD56<tspan dy="-3.4" font-size="8.5">br</tspan></text>
<text x="0.6" y="132.1" font-size="10.85" font-weight="bold" text-anchor="start" fill="#111">CD62L<tspan dy="-3.6" font-size="8.8">+</tspan></text>
<text x="0.6" y="213.9" font-size="10.85" font-weight="bold" text-anchor="start" fill="#111">CD62L<tspan dy="-3.6" font-size="8.8">-</tspan></text>
<text x="56.9" y="57" font-size="10.6" text-anchor="start" fill="#111" transform="rotate(-90 56.9 57)" stroke="#111" stroke-width=".22">CD3+PI</text>
<text x="130.6" y="47.4" font-size="10.6" text-anchor="start" fill="#111" transform="rotate(-90 130.6 47.4)" stroke="#111" stroke-width=".22">CD56</text>
<text x="204.2" y="38.2" font-size="10.6" text-anchor="start" fill="#111" transform="rotate(-90 204.2 38.2)" stroke="#111" stroke-width=".22">KIR</text>
<path d="M53.6 67L53.6 235.8" stroke="#777" stroke-width="1" fill="none"/>
<path d="M53.6 62L52.15 68.8L55.05 68.8z" fill="#111"/>
<path d="M127.3 67L127.3 233" stroke="#777" stroke-width="1" fill="none"/>
<path d="M127.3 62L125.85 68.8L128.75 68.8z" fill="#111"/>
<path d="M200.7 67L200.7 233" stroke="#777" stroke-width="1" fill="none"/>
<path d="M200.7 62L199.25 68.8L202.15 68.8z" fill="#111"/>
<text x="309.1" y="58.4" font-size="10.6" text-anchor="start" fill="#111" transform="rotate(-90 309.1 58.4)" stroke="#111" stroke-width=".22">CD3+PI</text>
<text x="383.1" y="48" font-size="10.6" text-anchor="start" fill="#111" transform="rotate(-90 383.1 48)" stroke="#111" stroke-width=".22">CD56</text>
<text x="457.1" y="38.9" font-size="10.6" text-anchor="start" fill="#111" transform="rotate(-90 457.1 38.9)" stroke="#111" stroke-width=".22">KIR</text>
<path d="M306 68.5L306 236.6" stroke="#777" stroke-width="1" fill="none"/>
<path d="M306 63.5L304.55 70.3L307.45 70.3z" fill="#111"/>
<path d="M379.9 58.4L379.9 234.5" stroke="#777" stroke-width="1" fill="none"/>
<path d="M379.9 53.4L378.45 60.2L381.35 60.2z" fill="#111"/>
<path d="M453.7 49.7L453.7 234.5" stroke="#777" stroke-width="1" fill="none"/>
<path d="M453.7 44.7L452.25 51.5L455.15 51.5z" fill="#111"/>
<text x="91.2" y="253" font-size="10.8" text-anchor="middle" fill="#111" stroke="#111" stroke-width=".22">CD45</text>
<text x="166.3" y="252.6" font-size="10.8" text-anchor="middle" fill="#111" stroke="#111" stroke-width=".22">CD62L</text>
<text x="240.6" y="252.6" font-size="10.8" text-anchor="middle" fill="#111" stroke="#111" stroke-width=".22">CD16</text>
<text x="344.2" y="254.2" font-size="10.8" text-anchor="middle" fill="#111" stroke="#111" stroke-width=".22">CD45</text>
<text x="419" y="254.2" font-size="10.8" text-anchor="middle" fill="#111" stroke="#111" stroke-width=".22">CD62L</text>
<text x="493" y="254.2" font-size="10.8" text-anchor="middle" fill="#111" stroke="#111" stroke-width=".22">CD16</text>
<path d="M24.8 322.4L24.8 393.45" stroke="#111" stroke-width="1.1" fill="none"/>
<path d="M22.2 392.9L24.8 392.9" stroke="#111" stroke-width="1" fill="none"/>
<text x="21.6" y="395.75" font-size="7.8" text-anchor="end" fill="#111" stroke="#111" stroke-width=".22">0</text>
<path d="M22.2 382.9L24.8 382.9" stroke="#111" stroke-width="1" fill="none"/>
<text x="21.6" y="385.75" font-size="7.8" text-anchor="end" fill="#111" stroke="#111" stroke-width=".22">2</text>
<path d="M22.2 372.9L24.8 372.9" stroke="#111" stroke-width="1" fill="none"/>
<text x="21.6" y="375.75" font-size="7.8" text-anchor="end" fill="#111" stroke="#111" stroke-width=".22">4</text>
<path d="M22.2 362.9L24.8 362.9" stroke="#111" stroke-width="1" fill="none"/>
<text x="21.6" y="365.75" font-size="7.8" text-anchor="end" fill="#111" stroke="#111" stroke-width=".22">6</text>
<path d="M22.2 352.9L24.8 352.9" stroke="#111" stroke-width="1" fill="none"/>
<text x="21.6" y="355.75" font-size="7.8" text-anchor="end" fill="#111" stroke="#111" stroke-width=".22">8</text>
<path d="M22.2 342.9L24.8 342.9" stroke="#111" stroke-width="1" fill="none"/>
<text x="21.6" y="345.75" font-size="7.8" text-anchor="end" fill="#111" stroke="#111" stroke-width=".22">10</text>
<path d="M22.2 332.9L24.8 332.9" stroke="#111" stroke-width="1" fill="none"/>
<text x="21.6" y="335.75" font-size="7.8" text-anchor="end" fill="#111" stroke="#111" stroke-width=".22">12</text>
<path d="M22.2 322.9L24.8 322.9" stroke="#111" stroke-width="1" fill="none"/>
<text x="21.6" y="325.75" font-size="7.8" text-anchor="end" fill="#111" stroke="#111" stroke-width=".22">14</text>
<path d="M24.25 392.9L130 392.9" stroke="#111" stroke-width="1.1" fill="none"/>
<text x="9.5" y="369.9" font-size="9.5" text-anchor="start" fill="#111" transform="rotate(-90 9.5 369.9)" stroke="#111" stroke-width=".22">% RTL</text>
<path d="M42.3 328.3L42.3 330.3" stroke="#333" stroke-width="0.9" fill="none"/>
<path d="M42.3 342.4L42.3 354.6" stroke="#333" stroke-width="0.9" fill="none"/>
<path d="M36.7 328.3L47.9 328.3" stroke="#333" stroke-width="0.9" fill="none"/>
<path d="M36.7 354.6L47.9 354.6" stroke="#333" stroke-width="0.9" fill="none"/>
<rect x="30.4" y="330.3" width="23.8" height="12.1" fill="#000" stroke="#000" stroke-width="0.9"/>
<path d="M77.25 333L77.25 336.6" stroke="#333" stroke-width="0.9" fill="none"/>
<path d="M77.25 348.5L77.25 357.4" stroke="#333" stroke-width="0.9" fill="none"/>
<path d="M71.65 333L82.85 333" stroke="#333" stroke-width="0.9" fill="none"/>
<path d="M71.65 357.4L82.85 357.4" stroke="#333" stroke-width="0.9" fill="none"/>
<rect x="65.6" y="336.6" width="23.3" height="11.9" fill="#4a4a4a" stroke="#222" stroke-width="0.9"/>
<rect x="66.1" y="337.1" width="22.3" height="10.9" fill="url(#hd)"/>
<path d="M65.6 342.6L88.9 342.6" stroke="#1c1c1c" stroke-width="1" fill="none"/>
<path d="M112.4 335.5L112.4 341.4" stroke="#333" stroke-width="0.9" fill="none"/>
<path d="M112.4 352.9L112.4 362.1" stroke="#333" stroke-width="0.9" fill="none"/>
<path d="M106.8 335.5L118 335.5" stroke="#333" stroke-width="0.9" fill="none"/>
<path d="M106.8 362.1L118 362.1" stroke="#333" stroke-width="0.9" fill="none"/>
<rect x="100.5" y="341.4" width="23.8" height="11.5" fill="#d6d6d6" stroke="#555" stroke-width="0.9"/>
<rect x="101" y="341.9" width="22.8" height="10.5" fill="url(#hl)"/>
<path d="M100.5 349.3L124.3 349.3" stroke="#444" stroke-width="1" fill="none"/>
<path d="M43.2 313.3V311.6H112.3V313.3" fill="none" stroke="#444" stroke-width=".8"/>
<text x="77.5" y="313.3" font-size="10" font-weight="bold" text-anchor="middle" fill="#111">**</text>
<path d="M43.2 323.1V321.4H77.4V323.1" fill="none" stroke="#444" stroke-width=".8"/>
<text x="60" y="323" font-size="10" font-weight="bold" text-anchor="middle" fill="#111">*</text>
<path d="M78.3 329.1V327.4H112.3V329.1" fill="none" stroke="#444" stroke-width=".8"/>
<text x="94.6" y="329.2" font-size="10" font-weight="bold" text-anchor="middle" fill="#111">*</text>
<text x="27.7" y="404.4" font-size="9.25" text-anchor="start" fill="#111" stroke="#111" stroke-width=".22">CD56<tspan dy="-3.9" font-size="7.3">br</tspan></text>
<text x="61.8" y="404.4" font-size="9.25" text-anchor="start" fill="#111" stroke="#111" stroke-width=".22">CD62L<tspan dy="-4.1" font-size="6.6" font-weight="bold" stroke="none">+</tspan></text>
<text x="69.6" y="415.5" font-size="9.25" text-anchor="start" fill="#111" stroke="#111" stroke-width=".22">KIR<tspan dy="-4.1" font-size="6.6" font-weight="bold" stroke="none">-</tspan></text>
<text x="98" y="404.4" font-size="9.25" text-anchor="start" fill="#111" stroke="#111" stroke-width=".22">CD62L<tspan dy="-4.1" font-size="6.6" font-weight="bold" stroke="none">-</tspan></text>
<text x="103.5" y="415.5" font-size="9.25" text-anchor="start" fill="#111" stroke="#111" stroke-width=".22">KIR<tspan dy="-4.1" font-size="6.6" font-weight="bold" stroke="none">+</tspan></text>
<path d="M166.8 322.35L166.8 393.4" stroke="#111" stroke-width="1.1" fill="none"/>
<path d="M164.2 392.85L166.8 392.85" stroke="#111" stroke-width="1" fill="none"/>
<text x="163.6" y="395.7" font-size="7.8" text-anchor="end" fill="#111" stroke="#111" stroke-width=".22">-10</text>
<path d="M164.2 378.85L166.8 378.85" stroke="#111" stroke-width="1" fill="none"/>
<text x="163.6" y="381.7" font-size="7.8" text-anchor="end" fill="#111" stroke="#111" stroke-width=".22">0</text>
<path d="M164.2 364.85L166.8 364.85" stroke="#111" stroke-width="1" fill="none"/>
<text x="163.6" y="367.7" font-size="7.8" text-anchor="end" fill="#111" stroke="#111" stroke-width=".22">10</text>
<path d="M164.2 350.85L166.8 350.85" stroke="#111" stroke-width="1" fill="none"/>
<text x="163.6" y="353.7" font-size="7.8" text-anchor="end" fill="#111" stroke="#111" stroke-width=".22">20</text>
<path d="M164.2 336.85L166.8 336.85" stroke="#111" stroke-width="1" fill="none"/>
<text x="163.6" y="339.7" font-size="7.8" text-anchor="end" fill="#111" stroke="#111" stroke-width=".22">30</text>
<path d="M164.2 322.85L166.8 322.85" stroke="#111" stroke-width="1" fill="none"/>
<text x="163.6" y="325.7" font-size="7.8" text-anchor="end" fill="#111" stroke="#111" stroke-width=".22">40</text>
<path d="M166.25 392.85L273 392.85" stroke="#111" stroke-width="1.1" fill="none"/>
<text x="154.4" y="386.3" font-size="9.4" text-anchor="start" fill="#111" transform="rotate(-90 154.4 386.3)" stroke="#111" stroke-width=".22">% telom short</text>
<path d="M193 332.8L193 351.3" stroke="#333" stroke-width="0.9" fill="none"/>
<path d="M193 375.8L193 381.4" stroke="#333" stroke-width="0.9" fill="none"/>
<path d="M184.6 332.8L201.4 332.8" stroke="#333" stroke-width="0.9" fill="none"/>
<path d="M184.6 381.4L201.4 381.4" stroke="#333" stroke-width="0.9" fill="none"/>
<rect x="175.2" y="351.3" width="35.6" height="24.5" fill="#4a4a4a" stroke="#222" stroke-width="0.9"/>
<rect x="175.7" y="351.8" width="34.6" height="23.5" fill="url(#hd)"/>
<path d="M175.2 365.4L210.8 365.4" stroke="#1c1c1c" stroke-width="1" fill="none"/>
<path d="M245.9 328.3L245.9 339.3" stroke="#333" stroke-width="0.9" fill="none"/>
<path d="M245.9 366.5L245.9 378.8" stroke="#333" stroke-width="0.9" fill="none"/>
<path d="M237.5 328.3L254.3 328.3" stroke="#333" stroke-width="0.9" fill="none"/>
<path d="M237.5 378.8L254.3 378.8" stroke="#333" stroke-width="0.9" fill="none"/>
<rect x="228.3" y="339.3" width="35.2" height="27.2" fill="#d6d6d6" stroke="#555" stroke-width="0.9"/>
<rect x="228.8" y="339.8" width="34.2" height="26.2" fill="url(#hl)"/>
<path d="M228.3 360.3L263.5 360.3" stroke="#444" stroke-width="1" fill="none"/>
<path d="M192.6 322.3V320.6H245.8V322.3" fill="none" stroke="#444" stroke-width=".8"/>
<text x="218.3" y="322.6" font-size="10" font-weight="bold" text-anchor="middle" fill="#111">*</text>
<text x="178.5" y="404.4" font-size="9.25" text-anchor="start" fill="#111" stroke="#111" stroke-width=".22">CD62L<tspan dy="-4.1" font-size="6.6" font-weight="bold" stroke="none">+</tspan></text>
<text x="186.1" y="415.5" font-size="9.25" text-anchor="start" fill="#111" stroke="#111" stroke-width=".22">KIR<tspan dy="-4.1" font-size="6.6" font-weight="bold" stroke="none">-</tspan></text>
<text x="231.8" y="404.4" font-size="9.25" text-anchor="start" fill="#111" stroke="#111" stroke-width=".22">CD62L<tspan dy="-4.1" font-size="6.6" font-weight="bold" stroke="none">-</tspan></text>
<text x="237.8" y="415.5" font-size="9.25" text-anchor="start" fill="#111" stroke="#111" stroke-width=".22">KIR<tspan dy="-4.1" font-size="6.6" font-weight="bold" stroke="none">+</tspan></text>
<path d="M320.85 296.2L320.85 393.05" stroke="#111" stroke-width="1.2" fill="none"/>
<path d="M317.95 392.5L320.85 392.5" stroke="#111" stroke-width="1" fill="none"/>
<text x="317.15" y="395.35" font-size="7.8" text-anchor="end" fill="#111" stroke="#111" stroke-width=".22">0</text>
<path d="M317.95 373.34L320.85 373.34" stroke="#111" stroke-width="1" fill="none"/>
<text x="317.15" y="376.19" font-size="7.8" text-anchor="end" fill="#111" stroke="#111" stroke-width=".22">20</text>
<path d="M317.95 354.18L320.85 354.18" stroke="#111" stroke-width="1" fill="none"/>
<text x="317.15" y="357.03" font-size="7.8" text-anchor="end" fill="#111" stroke="#111" stroke-width=".22">40</text>
<path d="M317.95 335.02L320.85 335.02" stroke="#111" stroke-width="1" fill="none"/>
<text x="317.15" y="337.87" font-size="7.8" text-anchor="end" fill="#111" stroke="#111" stroke-width=".22">60</text>
<path d="M317.95 315.86L320.85 315.86" stroke="#111" stroke-width="1" fill="none"/>
<text x="317.15" y="318.71" font-size="7.8" text-anchor="end" fill="#111" stroke="#111" stroke-width=".22">80</text>
<path d="M317.95 296.7L320.85 296.7" stroke="#111" stroke-width="1" fill="none"/>
<text x="317.15" y="299.55" font-size="7.8" text-anchor="end" fill="#111" stroke="#111" stroke-width=".22">100</text>
<path d="M320.25 392.5L460.2 392.5" stroke="#111" stroke-width="1.1" fill="none"/>
<path d="M320.85 392.5L320.85 394.9" stroke="#111" stroke-width="1" fill="none"/>
<text x="321" y="401.8" font-size="7.8" text-anchor="middle" fill="#111" stroke="#111" stroke-width=".22">0</text>
<path d="M343.98 392.5L343.98 394.9" stroke="#111" stroke-width="1" fill="none"/>
<text x="344.13" y="401.8" font-size="7.8" text-anchor="middle" fill="#111" stroke="#111" stroke-width=".22">10</text>
<path d="M367.11 392.5L367.11 394.9" stroke="#111" stroke-width="1" fill="none"/>
<text x="367.26" y="401.8" font-size="7.8" text-anchor="middle" fill="#111" stroke="#111" stroke-width=".22">20</text>
<path d="M390.24 392.5L390.24 394.9" stroke="#111" stroke-width="1" fill="none"/>
<text x="390.39" y="401.8" font-size="7.8" text-anchor="middle" fill="#111" stroke="#111" stroke-width=".22">30</text>
<path d="M413.37 392.5L413.37 394.9" stroke="#111" stroke-width="1" fill="none"/>
<text x="413.52" y="401.8" font-size="7.8" text-anchor="middle" fill="#111" stroke="#111" stroke-width=".22">40</text>
<path d="M436.5 392.5L436.5 394.9" stroke="#111" stroke-width="1" fill="none"/>
<text x="436.65" y="401.8" font-size="7.8" text-anchor="middle" fill="#111" stroke="#111" stroke-width=".22">50</text>
<path d="M459.63 392.5L459.63 394.9" stroke="#111" stroke-width="1" fill="none"/>
<text x="459.78" y="401.8" font-size="7.8" text-anchor="middle" fill="#111" stroke="#111" stroke-width=".22">60</text>
<text x="302.5" y="368.1" font-size="9.45" text-anchor="start" fill="#111" transform="rotate(-90 302.5 368.1)" stroke="#111" stroke-width=".22">% NK cells</text>
<text x="367" y="413.8" font-size="9.36" text-anchor="start" fill="#111" stroke="#111" stroke-width=".22">Age (Years)</text>
<path d="M329 344.6L448.2 323.1" stroke="#333" stroke-width="0.8" fill="none"/>
<path d="M329 353L448.2 368.5" stroke="#777" stroke-width="0.8" fill="none"/>
<path d="M329 383.8L450.5 389.2" stroke="#222" stroke-width="0.8" fill="none"/>
<g fill="#f6f6f6" stroke="#2a2a2a" stroke-width=".75"><rect x="326.2" y="336.1" width="3.2" height="3.2"/><rect x="326.2" y="341.9" width="3.2" height="3.2"/><rect x="329" y="341.9" width="3.2" height="3.2"/><rect x="330.9" y="331.2" width="3.2" height="3.2"/><rect x="333.2" y="329.6" width="3.2" height="3.2"/><rect x="331.2" y="348.7" width="3.2" height="3.2"/><rect x="363.3" y="316.9" width="3.2" height="3.2"/><rect x="367.8" y="339" width="3.2" height="3.2"/><rect x="367.8" y="347.7" width="3.2" height="3.2"/><rect x="384.1" y="336.6" width="3.2" height="3.2"/><rect x="393" y="325.8" width="3.2" height="3.2"/><rect x="344.9" y="355.3" width="3.2" height="3.2"/><rect x="335.5" y="364.9" width="3.2" height="3.2"/><rect x="395.6" y="321.5" width="3.2" height="3.2"/><rect x="397.9" y="330.7" width="3.2" height="3.2"/><rect x="414.1" y="332.6" width="3.2" height="3.2"/><rect x="416.4" y="310.7" width="3.2" height="3.2"/><rect x="421" y="314.1" width="3.2" height="3.2"/><rect x="423.5" y="323.3" width="3.2" height="3.2"/><rect x="427.9" y="319.9" width="3.2" height="3.2"/><rect x="432.7" y="317.6" width="3.2" height="3.2"/><rect x="446.6" y="319.9" width="3.2" height="3.2"/><rect x="448.9" y="324.9" width="3.2" height="3.2"/><rect x="448.9" y="329.6" width="3.2" height="3.2"/><rect x="402.6" y="350.3" width="3.2" height="3.2"/><rect x="405.3" y="353" width="3.2" height="3.2"/></g><g fill="#555" stroke="#111" stroke-width=".55"><path d="M337.1 328.9l1.7 3.2h-3.4z"/><path d="M346.5 338.9l1.7 3.2h-3.4z"/><path d="M330.3 349.3l1.7 3.2h-3.4z"/><path d="M327.8 356.3l1.7 3.2h-3.4z"/><path d="M327.8 359.9l1.7 3.2h-3.4z"/><path d="M332.5 361.1l1.7 3.2h-3.4z"/><path d="M334.8 368.6l1.7 3.2h-3.4z"/><path d="M369.4 353.9l1.7 3.2h-3.4z"/><path d="M364.9 371.5l1.7 3.2h-3.4z"/><path d="M385.7 363l1.7 3.2h-3.4z"/><path d="M394.6 364.3l1.7 3.2h-3.4z"/><path d="M404.2 340.5l1.7 3.2h-3.4z"/><path d="M406.5 344.6l1.7 3.2h-3.4z"/><path d="M399.5 359.9l1.7 3.2h-3.4z"/><path d="M397.2 370.7l1.7 3.2h-3.4z"/><path d="M415.7 360.4l1.7 3.2h-3.4z"/><path d="M425.1 365.8l1.7 3.2h-3.4z"/><path d="M429.7 369.9l1.7 3.2h-3.4z"/><path d="M434.3 371.5l1.7 3.2h-3.4z"/><path d="M418 376.9l1.7 3.2h-3.4z"/><path d="M422.6 377.3l1.7 3.2h-3.4z"/><path d="M450.5 358.1l1.7 3.2h-3.4z"/><path d="M450.8 365.3l1.7 3.2h-3.4z"/><path d="M448.2 367.8l1.7 3.2h-3.4z"/></g><g fill="#000"><circle cx="327.8" cy="378" r="1.75"/><circle cx="332.5" cy="380" r="1.75"/><circle cx="369.4" cy="376.5" r="1.75"/><circle cx="385.7" cy="378.2" r="1.75"/><circle cx="346.5" cy="384" r="1.75"/><circle cx="327.5" cy="385.7" r="1.75"/><circle cx="330.2" cy="387.2" r="1.75"/><circle cx="332.5" cy="385.7" r="1.75"/><circle cx="334.8" cy="385" r="1.75"/><circle cx="337.1" cy="384.8" r="1.75"/><circle cx="364.9" cy="389.5" r="1.75"/><circle cx="369.4" cy="390.5" r="1.75"/><circle cx="394.8" cy="387.2" r="1.75"/><circle cx="406.5" cy="380.8" r="1.75"/><circle cx="397.2" cy="385.4" r="1.75"/><circle cx="399.5" cy="388.5" r="1.75"/><circle cx="404.2" cy="388.5" r="1.75"/><circle cx="415.7" cy="385.8" r="1.75"/><circle cx="418" cy="390.5" r="1.75"/><circle cx="422.6" cy="386.6" r="1.75"/><circle cx="425.1" cy="389.2" r="1.75"/><circle cx="429.7" cy="388.9" r="1.75"/><circle cx="434.3" cy="388" r="1.75"/><circle cx="448.2" cy="389.5" r="1.75"/><circle cx="450.5" cy="389.5" r="1.75"/></g>
<circle cx="479.0" cy="330.55" r="2.7" fill="#000"/>
<path d="M479.05 346.3l2.95 5.5h-5.9z" fill="#3a3a3a"/>
<rect x="475.7" y="365" width="5.9" height="4.5" fill="#d4d4d4" stroke="#9a9a9a" stroke-width="0.7"/>
<text x="484.8" y="333.7" font-size="9.5" text-anchor="start" fill="#111" stroke="#111" stroke-width=".22">CD56<tspan dy="-2.7" font-size="7.7">br</tspan></text>
<text x="484.8" y="352" font-size="9.5" text-anchor="start" fill="#111" stroke="#111" stroke-width=".22">CD62L<tspan dy="-3.1" font-size="6.6" font-weight="bold" stroke="none">+</tspan></text>
<text x="484.8" y="369.5" font-size="9.5" text-anchor="start" fill="#111" stroke="#111" stroke-width=".22">CD62L<tspan dy="-3.1" font-size="6.6" font-weight="bold" stroke="none">-</tspan></text></svg>
</body></html>
